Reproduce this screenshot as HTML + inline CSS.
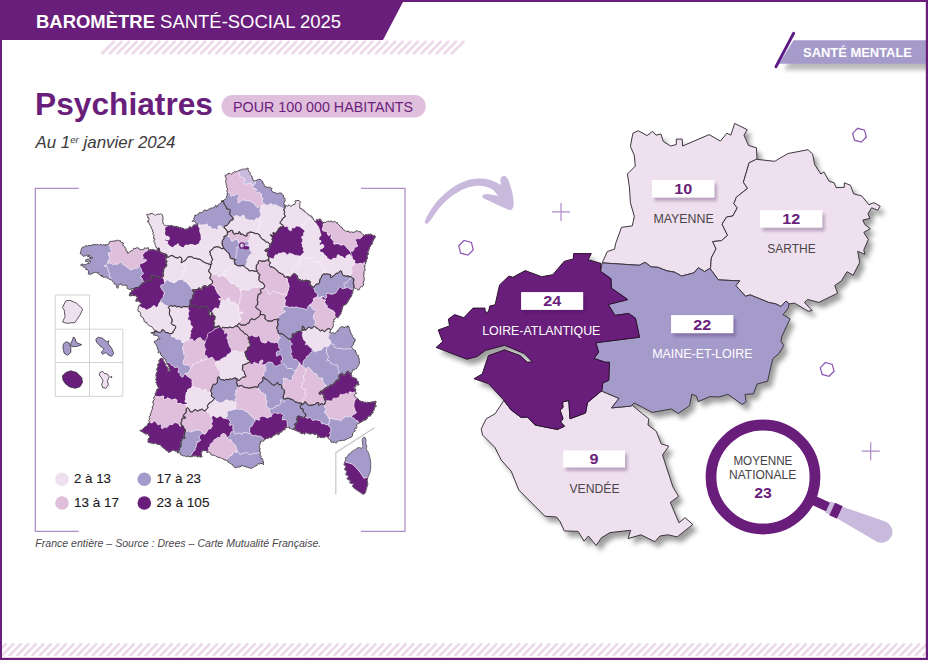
<!DOCTYPE html>
<html lang="fr"><head><meta charset="utf-8"><title>Baromètre Santé-Social 2025 – Psychiatres</title>
<style>
html,body{margin:0;padding:0;background:#fff;}
body{width:928px;height:660px;overflow:hidden;font-family:"Liberation Sans", sans-serif;}
svg{display:block;font-family:"Liberation Sans", sans-serif;}
</style></head><body>
<svg width="928" height="660" viewBox="0 0 928 660">
<defs>
<pattern id="hatch" width="7.6" height="20" patternUnits="userSpaceOnUse" patternTransform="skewX(-35)">
<rect x="0" y="0" width="3.6" height="20" fill="#ecdbeb"/>
</pattern>
<clipPath id="inner"><rect x="2.2" y="0" width="923.6" height="660"/></clipPath>
<filter id="bsh" x="-20%" y="-40%" width="140%" height="200%"><feGaussianBlur stdDeviation="1.6"/></filter>
<filter id="msh" x="-10%" y="-10%" width="125%" height="125%"><feGaussianBlur stdDeviation="2.6"/></filter>
<filter id="tsh" x="-10%" y="-40%" width="120%" height="220%"><feGaussianBlur stdDeviation="2"/></filter>
</defs>
<rect width="928" height="660" fill="#fff"/>

<!-- hatch bands -->
<path d="M102.4 53.3l11.5 -11.5M110.0 53.3l11.5 -11.5M117.6 53.3l11.5 -11.5M125.2 53.3l11.5 -11.5M132.8 53.3l11.5 -11.5M140.4 53.3l11.5 -11.5M148.0 53.3l11.5 -11.5M155.6 53.3l11.5 -11.5M163.2 53.3l11.5 -11.5M170.8 53.3l11.5 -11.5M178.4 53.3l11.5 -11.5M186.0 53.3l11.5 -11.5M193.6 53.3l11.5 -11.5M201.2 53.3l11.5 -11.5M208.8 53.3l11.5 -11.5M216.4 53.3l11.5 -11.5M224.0 53.3l11.5 -11.5M231.6 53.3l11.5 -11.5M239.2 53.3l11.5 -11.5M246.8 53.3l11.5 -11.5M254.4 53.3l11.5 -11.5M262.0 53.3l11.5 -11.5M269.6 53.3l11.5 -11.5M277.2 53.3l11.5 -11.5M284.8 53.3l11.5 -11.5M292.4 53.3l11.5 -11.5M300.0 53.3l11.5 -11.5M307.6 53.3l11.5 -11.5M315.2 53.3l11.5 -11.5M322.8 53.3l11.5 -11.5M330.4 53.3l11.5 -11.5M338.0 53.3l11.5 -11.5M345.6 53.3l11.5 -11.5M353.2 53.3l11.5 -11.5M360.8 53.3l11.5 -11.5M368.4 53.3l11.5 -11.5M376.0 53.3l11.5 -11.5M383.6 53.3l11.5 -11.5M391.2 53.3l11.5 -11.5M398.8 53.3l11.5 -11.5M406.4 53.3l11.5 -11.5M414.0 53.3l11.5 -11.5M421.6 53.3l11.5 -11.5M429.2 53.3l11.5 -11.5M436.8 53.3l11.5 -11.5M444.4 53.3l11.5 -11.5M452.0 53.3l11.5 -11.5" stroke="#ecdaeb" stroke-width="2.7" stroke-linecap="round" fill="none"/>
<path d="M-5.2 655.1l10.8 -10.8M2.3 655.1l10.8 -10.8M9.8 655.1l10.8 -10.8M17.4 655.1l10.8 -10.8M24.9 655.1l10.8 -10.8M32.5 655.1l10.8 -10.8M40.0 655.1l10.8 -10.8M47.6 655.1l10.8 -10.8M55.1 655.1l10.8 -10.8M62.7 655.1l10.8 -10.8M70.2 655.1l10.8 -10.8M77.8 655.1l10.8 -10.8M85.3 655.1l10.8 -10.8M92.9 655.1l10.8 -10.8M100.4 655.1l10.8 -10.8M108.0 655.1l10.8 -10.8M115.5 655.1l10.8 -10.8M123.1 655.1l10.8 -10.8M130.6 655.1l10.8 -10.8M138.2 655.1l10.8 -10.8M145.8 655.1l10.8 -10.8M153.3 655.1l10.8 -10.8M160.9 655.1l10.8 -10.8M168.4 655.1l10.8 -10.8M176.0 655.1l10.8 -10.8M183.5 655.1l10.8 -10.8M191.1 655.1l10.8 -10.8M198.6 655.1l10.8 -10.8M206.2 655.1l10.8 -10.8M213.7 655.1l10.8 -10.8M221.3 655.1l10.8 -10.8M228.8 655.1l10.8 -10.8M236.4 655.1l10.8 -10.8M243.9 655.1l10.8 -10.8M251.5 655.1l10.8 -10.8M259.0 655.1l10.8 -10.8M266.6 655.1l10.8 -10.8M274.1 655.1l10.8 -10.8M281.7 655.1l10.8 -10.8M289.2 655.1l10.8 -10.8M296.8 655.1l10.8 -10.8M304.3 655.1l10.8 -10.8M311.9 655.1l10.8 -10.8M319.4 655.1l10.8 -10.8M327.0 655.1l10.8 -10.8M334.5 655.1l10.8 -10.8M342.1 655.1l10.8 -10.8M349.6 655.1l10.8 -10.8M357.2 655.1l10.8 -10.8M364.7 655.1l10.8 -10.8M372.3 655.1l10.8 -10.8M379.8 655.1l10.8 -10.8M387.4 655.1l10.8 -10.8M394.9 655.1l10.8 -10.8M402.5 655.1l10.8 -10.8M410.0 655.1l10.8 -10.8M417.6 655.1l10.8 -10.8M425.1 655.1l10.8 -10.8M432.7 655.1l10.8 -10.8M440.2 655.1l10.8 -10.8M447.8 655.1l10.8 -10.8M455.3 655.1l10.8 -10.8M462.9 655.1l10.8 -10.8M470.4 655.1l10.8 -10.8M478.0 655.1l10.8 -10.8M485.5 655.1l10.8 -10.8M493.1 655.1l10.8 -10.8M500.6 655.1l10.8 -10.8M508.2 655.1l10.8 -10.8M515.7 655.1l10.8 -10.8M523.3 655.1l10.8 -10.8M530.8 655.1l10.8 -10.8M538.4 655.1l10.8 -10.8M545.9 655.1l10.8 -10.8M553.5 655.1l10.8 -10.8M561.0 655.1l10.8 -10.8M568.6 655.1l10.8 -10.8M576.1 655.1l10.8 -10.8M583.7 655.1l10.8 -10.8M591.2 655.1l10.8 -10.8M598.8 655.1l10.8 -10.8M606.3 655.1l10.8 -10.8M613.8 655.1l10.8 -10.8M621.4 655.1l10.8 -10.8M628.9 655.1l10.8 -10.8M636.5 655.1l10.8 -10.8M644.0 655.1l10.8 -10.8M651.6 655.1l10.8 -10.8M659.1 655.1l10.8 -10.8M666.7 655.1l10.8 -10.8M674.2 655.1l10.8 -10.8M681.8 655.1l10.8 -10.8M689.3 655.1l10.8 -10.8M696.9 655.1l10.8 -10.8M704.4 655.1l10.8 -10.8M712.0 655.1l10.8 -10.8M719.5 655.1l10.8 -10.8M727.1 655.1l10.8 -10.8M734.6 655.1l10.8 -10.8M742.2 655.1l10.8 -10.8M749.7 655.1l10.8 -10.8M757.3 655.1l10.8 -10.8M764.8 655.1l10.8 -10.8M772.4 655.1l10.8 -10.8M779.9 655.1l10.8 -10.8M787.5 655.1l10.8 -10.8M795.0 655.1l10.8 -10.8M802.6 655.1l10.8 -10.8M810.1 655.1l10.8 -10.8M817.7 655.1l10.8 -10.8M825.2 655.1l10.8 -10.8M832.8 655.1l10.8 -10.8M840.3 655.1l10.8 -10.8M847.9 655.1l10.8 -10.8M855.4 655.1l10.8 -10.8M863.0 655.1l10.8 -10.8M870.5 655.1l10.8 -10.8M878.1 655.1l10.8 -10.8M885.6 655.1l10.8 -10.8M893.2 655.1l10.8 -10.8M900.7 655.1l10.8 -10.8M908.3 655.1l10.8 -10.8M915.8 655.1l10.8 -10.8M923.4 655.1l10.8 -10.8" stroke="#ecdaeb" stroke-width="2.7" stroke-linecap="round" fill="none" clip-path="url(#inner)"/>

<!-- header bar -->
<polygon points="0,0 404,0 383,40 0,40" fill="#6a1e7b"/>
<text x="36" y="27.6" font-size="18" fill="#fff" textLength="305" lengthAdjust="spacingAndGlyphs"><tspan font-weight="700">BAROMÈTRE</tspan> SANTÉ-SOCIAL 2025</text>

<!-- tag SANTE MENTALE -->
<polygon points="788,49 926,49 926,70 776,70" fill="#8a8585" opacity=".55" filter="url(#tsh)" transform="translate(8 0)"/>
<polygon points="793.5,40.3 926,40.3 926,63.8 779,63.8" fill="#a59bcb"/>
<line x1="793.6" y1="33.4" x2="776" y2="66.6" stroke="#5b1a86" stroke-width="3" stroke-linecap="round"/>
<text x="803" y="57" font-size="13" font-weight="700" fill="#fff" textLength="109" lengthAdjust="spacingAndGlyphs">SANTÉ MENTALE</text>

<!-- title -->
<text x="35" y="114.5" font-size="30.5" font-weight="700" fill="#6a1e7b" textLength="178" lengthAdjust="spacingAndGlyphs">Psychiatres</text>
<rect x="221.5" y="95" width="204.3" height="22.5" rx="11.25" fill="#e0bfdc"/>
<text x="233" y="111.6" font-size="15" fill="#6a1e7b" textLength="180" lengthAdjust="spacingAndGlyphs">POUR 100 000 HABITANTS</text>
<text x="35.5" y="148" font-size="16.5" font-style="italic" fill="#3c3a3c" textLength="140" lengthAdjust="spacingAndGlyphs">Au 1<tspan font-size="9.5" dy="-5.5">er</tspan><tspan dy="5.5"> janvier 2024</tspan></text>

<!-- frame brackets -->
<g fill="none" stroke="#b18fcb" stroke-width="1.3">
<path d="M78.8 188.4H35.3V531.3H78.8"/>
<path d="M361 188.4H405V531.3H361"/>
</g>

<!-- FRANCE MAP -->
<g stroke-linejoin="round">
<path d="M302.2 326.0 302.2 326.7 302.5 327.2 302.2 327.8 302.2 329.0 302.5 329.5 303.7 329.8 302.0 330.0 301.0 330.7 301.0 331.2 301.5 331.2 302.7 332.5 302.0 334.0 302.0 335.5 302.5 337.5 303.0 338.3 303.2 339.8 305.5 342.0 305.7 343.3 304.8 344.3 304.7 345.0 305.3 345.2 306.2 344.7 307.3 345.0 309.7 347.7 310.7 348.0 314.8 352.2 316.0 352.7 316.5 351.7 317.5 351.0 318.2 351.0 319.3 350.5 320.5 350.5 322.2 349.8 322.7 349.3 323.3 347.8 324.0 347.2 326.5 346.7 328.0 346.8 329.2 346.3 329.7 345.0 330.8 344.0 331.0 341.8 330.3 339.8 329.2 339.2 328.3 338.0 328.8 336.8 328.7 335.8 328.8 335.3 330.8 334.0 330.8 333.2 330.0 333.0 329.3 332.5 329.5 332.0 330.3 331.8 330.3 330.7 331.0 329.8 329.7 328.7 328.7 328.5 327.0 329.0 324.7 331.5 324.3 331.5 322.8 330.0 321.8 330.0 320.7 330.8 318.8 329.5 317.7 328.2 316.3 327.8 315.2 326.5 314.5 326.2 313.7 326.2 312.7 327.2 312.5 327.7 311.8 328.2 310.0 327.7 309.5 327.2 308.3 327.2 307.2 328.2 306.0 329.8 305.2 330.0 304.3 329.2 304.3 327.7 304.0 327.0 302.8 326.2Z" fill="#eee0ee" stroke="#fbf5fb" stroke-width=".55"/>
<path d="M279.2 203.8 278.7 203.8 278.2 204.2 278.0 205.2 277.7 205.5 276.8 205.3 275.5 204.0 274.5 204.0 273.5 205.0 271.5 203.5 270.0 203.5 267.3 205.2 266.2 204.8 264.8 203.8 262.8 204.0 262.7 204.5 260.5 206.3 260.3 209.0 259.2 209.8 259.2 210.5 260.5 213.2 260.5 215.2 259.0 216.8 259.0 218.7 259.3 219.2 259.3 220.2 260.2 222.3 260.2 223.0 259.8 223.5 260.2 225.7 259.3 226.7 258.5 227.2 257.8 229.2 258.0 234.0 258.5 234.7 259.3 234.8 259.8 235.3 259.7 236.2 260.0 236.8 262.3 239.5 264.7 240.5 265.2 241.7 265.8 242.3 267.5 242.2 270.0 244.7 270.5 244.7 272.5 241.5 273.2 241.0 273.2 240.5 272.3 239.8 272.2 239.3 272.5 238.5 272.5 236.7 272.2 236.2 270.7 235.2 271.0 235.0 272.2 235.7 273.3 235.7 273.5 234.2 273.0 233.3 273.3 232.7 274.3 233.3 275.7 233.3 277.0 232.0 279.0 228.5 279.7 228.2 280.7 227.2 282.5 227.2 283.0 226.7 283.2 225.3 282.5 224.5 280.8 223.8 280.3 223.2 280.3 222.5 280.7 221.8 282.0 220.5 282.5 218.8 285.3 216.8 285.3 215.7 284.7 214.8 284.3 213.8 284.3 213.2 284.7 212.5 284.7 211.2 283.8 209.8 283.8 209.0 282.5 207.7 280.0 206.7 278.8 206.5 278.3 206.0 279.5 205.2 279.5 204.2Z" fill="#eee0ee" stroke="#fbf5fb" stroke-width=".55"/>
<path d="M236.8 325.7 237.0 326.3 238.0 326.8 239.3 328.2 240.0 329.5 241.5 331.0 243.3 331.8 243.5 332.7 244.0 333.5 246.2 334.3 248.0 336.0 248.5 336.8 249.2 336.8 251.3 335.5 252.2 335.5 253.2 336.3 254.8 337.0 257.3 337.0 258.5 336.0 259.3 336.8 260.2 338.7 260.5 340.8 261.3 342.3 262.2 342.7 263.7 342.8 264.2 343.2 266.2 343.2 267.0 342.5 267.5 341.2 268.3 340.8 270.0 342.2 271.5 342.7 273.0 342.7 273.7 343.3 274.3 343.3 275.7 342.7 276.5 342.7 277.3 343.2 277.8 343.2 277.8 341.7 279.2 339.5 280.5 338.2 280.5 337.2 279.2 336.5 278.7 335.8 279.0 333.7 278.2 332.7 278.2 330.8 276.8 328.2 277.0 327.2 278.2 325.0 277.7 322.7 277.7 321.3 278.7 320.0 278.7 318.8 277.3 319.0 276.3 319.5 274.2 319.3 273.7 319.5 272.0 321.0 267.7 320.8 265.2 318.7 265.0 318.3 265.2 315.8 264.8 315.0 264.0 314.5 262.0 314.7 260.3 314.2 259.8 315.3 258.2 317.2 256.7 317.8 255.8 318.8 254.2 319.7 252.2 318.8 250.8 318.8 249.7 321.0 249.0 322.8 248.7 323.2 248.0 323.2 246.7 323.7 245.7 324.8 245.2 325.0 243.3 324.8 241.0 325.2 239.7 323.2 238.8 323.2 237.2 325.0Z" fill="#e0bfdc" stroke="#fbf5fb" stroke-width=".55"/>
<path d="M355.0 391.7 354.0 391.7 353.3 392.2 352.0 392.2 350.7 391.7 349.2 391.7 348.7 392.3 348.8 393.7 348.7 394.3 347.5 393.3 347.0 393.2 345.7 393.2 344.2 394.0 343.2 394.2 342.7 394.5 341.5 394.2 340.2 394.2 339.5 394.8 339.3 396.5 338.8 397.0 337.5 397.7 336.2 398.0 334.7 398.0 334.2 397.8 333.7 397.2 333.3 397.2 333.2 398.3 332.5 399.0 331.8 400.3 331.2 400.8 329.7 400.5 326.2 400.5 325.3 401.2 325.3 402.0 324.2 405.2 324.2 407.3 324.7 408.0 325.3 408.2 325.8 408.7 325.8 409.0 325.2 410.5 324.0 411.7 324.0 412.5 324.3 413.0 325.2 413.3 325.8 414.0 326.3 415.3 327.8 416.5 327.8 418.0 328.7 419.0 329.3 419.3 330.2 419.3 331.0 419.0 332.8 418.8 333.7 419.0 335.0 420.0 336.7 419.8 338.5 420.0 339.5 420.5 340.2 421.2 341.0 421.2 341.7 420.7 342.3 419.5 344.8 417.7 345.7 416.5 347.0 417.0 348.8 417.0 350.0 416.5 351.0 417.2 351.7 417.2 353.8 414.7 356.2 413.5 356.7 412.7 356.7 412.0 355.2 410.0 354.7 407.3 354.2 406.5 354.0 405.5 354.3 404.5 354.3 403.2 355.0 401.8 355.0 400.8 357.3 398.3 354.7 396.5 354.3 396.0 354.8 394.3 355.3 393.8 356.5 393.3 355.8 392.8 355.8 392.5Z" fill="#e0bfdc" stroke="#fbf5fb" stroke-width=".55"/>
<path d="M357.0 379.2 356.0 378.8 354.7 377.8 354.5 378.0 353.8 377.8 352.2 377.0 351.5 376.3 351.7 375.5 351.0 374.3 351.3 373.7 349.7 373.3 349.2 372.8 349.0 372.0 348.5 371.3 347.2 371.3 346.5 372.0 346.2 372.8 345.2 374.2 344.3 374.8 343.8 374.8 342.7 373.5 341.5 373.3 340.5 374.2 339.5 374.3 338.8 375.8 339.2 379.2 338.7 379.7 336.3 380.2 335.7 380.8 335.5 381.3 334.5 382.2 333.7 384.0 332.7 384.8 331.0 384.8 329.8 385.5 328.5 386.7 327.0 386.8 326.3 387.8 325.0 388.0 324.0 388.7 322.7 390.7 321.2 390.8 320.3 391.2 319.3 392.3 319.0 393.0 319.0 393.8 319.7 394.5 320.5 394.5 321.8 393.7 323.7 395.7 323.7 398.0 324.3 398.7 324.7 400.3 325.3 401.2 325.8 401.2 326.5 400.7 329.3 400.7 330.3 401.0 331.5 401.0 332.0 400.7 333.7 397.8 334.3 398.2 336.5 398.2 337.8 397.8 339.2 397.2 339.5 396.8 339.7 395.2 340.5 394.3 342.7 394.8 343.5 394.3 344.5 394.2 345.5 393.5 346.7 393.3 347.2 393.5 348.2 394.5 349.0 394.5 348.8 392.7 349.5 391.8 350.3 391.8 352.5 392.5 353.7 392.3 354.7 391.8 355.5 392.7 355.8 392.7 355.5 391.8 355.5 391.0 355.8 390.8 355.5 388.8 354.5 388.7 353.8 388.0 354.0 387.3 354.5 387.0 354.8 387.2 355.7 387.0 355.8 385.3 356.7 384.3 357.0 384.3 357.7 385.3 358.3 385.3 359.0 384.5 359.0 384.2 358.3 383.3 358.5 382.7 358.2 382.2 358.3 381.7 358.2 381.2 357.2 381.0 356.7 380.5 356.7 379.5Z" fill="#6a1e7b" stroke="#fbf5fb" stroke-width=".55"/>
<path d="M375.7 401.2 374.8 401.2 374.2 401.8 371.3 402.0 370.2 402.5 367.3 402.3 366.7 402.7 366.0 402.7 365.2 401.8 364.5 402.5 364.0 402.5 363.2 401.5 361.8 401.7 359.8 400.8 359.0 400.2 357.5 398.3 356.8 398.3 354.8 400.5 354.8 401.5 354.0 403.0 354.2 404.2 353.8 405.2 353.8 406.3 354.5 407.7 355.0 410.3 356.5 412.3 355.5 413.7 353.5 414.5 351.3 417.0 351.3 417.3 352.0 417.8 353.8 418.3 355.5 420.5 356.3 420.8 357.2 420.8 357.7 421.2 358.2 422.0 358.3 422.8 358.8 423.2 360.2 422.8 361.0 421.8 362.3 421.7 363.2 420.3 365.7 420.2 365.7 419.8 366.2 419.3 367.3 418.7 367.5 417.2 368.3 416.2 368.7 416.0 370.2 416.2 370.7 415.2 371.5 414.5 371.5 413.7 372.0 413.2 373.0 413.0 373.2 412.2 372.3 411.7 372.7 411.3 373.2 411.3 374.0 410.3 374.0 409.2 374.7 408.0 374.5 406.7 374.8 406.3 375.3 406.3 375.8 406.7 376.2 406.5 376.3 405.8 375.2 405.0 375.2 404.0 376.0 402.2 376.0 401.5Z" fill="#6a1e7b" stroke="#fbf5fb" stroke-width=".55"/>
<path d="M299.7 362.7 298.8 363.8 298.5 365.2 297.5 366.8 296.8 368.7 295.8 369.8 295.7 370.5 294.5 372.0 294.7 373.3 292.8 374.8 292.3 375.7 292.3 378.2 292.0 378.8 290.3 380.5 289.7 380.5 288.3 379.2 287.0 378.5 285.8 378.2 284.5 378.3 283.0 378.0 282.8 379.0 283.5 381.0 283.5 382.7 283.3 383.2 282.3 384.2 281.3 384.5 281.3 385.2 281.7 385.8 281.7 388.2 282.5 389.0 283.5 389.5 284.5 390.7 284.0 391.8 284.2 393.8 283.7 394.3 283.2 396.0 283.0 398.0 283.7 399.0 284.7 399.2 287.2 398.3 288.8 398.5 293.5 400.3 294.5 401.7 295.7 402.3 296.8 402.3 298.7 403.2 301.0 403.2 302.3 404.2 303.3 404.3 304.0 403.8 304.2 402.8 302.8 401.5 304.0 399.2 306.2 396.7 306.2 395.2 305.2 393.3 305.0 392.0 305.3 391.3 306.5 390.2 306.5 389.5 305.8 388.8 304.7 389.2 304.0 389.0 302.3 388.0 301.3 386.7 302.5 385.3 302.5 383.8 302.8 383.0 304.3 381.3 304.3 379.3 303.8 378.2 303.8 375.8 305.7 373.2 306.0 372.0 306.0 369.5 305.7 368.2 304.8 367.3 304.3 367.2 302.8 365.7 302.7 365.2 301.3 365.0 300.8 364.5 300.3 362.8Z" fill="#e0bfdc" stroke="#fbf5fb" stroke-width=".55"/>
<path d="M298.0 200.2 296.8 200.7 295.2 200.8 295.0 201.3 295.5 202.2 295.5 202.8 295.0 204.2 294.5 204.5 293.0 204.7 290.8 206.5 289.7 205.3 289.0 205.0 288.5 205.0 287.8 206.2 287.2 206.2 285.8 205.3 285.2 205.3 284.5 205.7 284.5 206.0 285.0 206.5 285.0 207.2 284.7 208.2 283.7 209.2 283.7 210.2 284.5 211.5 284.5 212.2 284.2 212.8 284.2 214.2 284.5 215.2 285.2 216.0 285.2 216.5 282.3 218.5 281.8 220.2 280.5 221.5 280.0 222.7 280.5 224.0 282.2 224.7 283.8 226.5 288.0 227.0 288.2 227.2 288.0 228.8 288.3 229.7 289.2 230.3 290.8 231.0 291.3 231.0 291.7 230.7 291.8 229.0 292.5 228.0 294.8 228.2 295.8 227.0 296.8 226.3 297.3 226.3 297.8 226.7 299.2 226.7 300.0 227.3 301.3 227.8 301.5 226.3 302.0 225.8 303.8 225.2 305.2 223.5 306.2 223.0 307.0 222.0 307.7 220.3 309.7 218.7 310.0 217.8 310.0 217.0 311.2 216.2 311.2 216.0 309.7 215.8 309.0 214.7 307.8 214.5 306.0 212.3 304.3 211.7 304.0 211.0 304.0 210.3 302.3 210.0 301.5 208.5 300.3 208.7 300.0 208.3 299.7 206.7 299.7 205.3 300.0 204.5 299.7 203.2 300.3 201.8 299.7 201.2Z" fill="#eee0ee" stroke="#fbf5fb" stroke-width=".55"/>
<path d="M222.5 433.3 220.5 434.7 220.5 436.2 220.0 437.0 219.3 437.3 217.0 437.3 215.5 438.8 214.3 438.8 213.2 441.3 210.3 443.5 209.8 444.5 209.7 446.2 208.3 447.2 208.5 450.2 207.0 451.7 206.8 452.3 207.5 452.5 208.2 452.0 209.2 452.0 209.8 452.5 210.2 453.2 210.8 453.5 210.7 454.0 211.3 455.0 212.0 455.0 212.5 455.3 212.7 455.2 214.8 455.3 215.8 456.3 216.8 456.5 217.8 457.3 221.0 457.8 221.7 458.5 222.8 458.5 224.0 459.7 226.3 460.2 226.3 459.5 226.8 459.0 228.7 458.3 230.0 456.3 231.3 456.0 232.3 455.3 232.8 454.7 233.2 452.7 233.7 452.0 235.2 451.7 235.7 452.0 235.5 453.2 236.5 453.3 236.7 452.2 237.3 451.7 237.2 450.7 237.3 449.7 236.7 448.3 236.7 447.7 236.0 446.5 235.8 445.2 232.7 442.3 231.2 439.5 230.8 439.2 230.0 439.2 228.8 440.0 227.7 438.2 227.5 437.2 226.5 436.3 226.3 435.0 225.8 434.2 224.2 433.3Z" fill="#e0bfdc" stroke="#fbf5fb" stroke-width=".55"/>
<path d="M268.8 257.8 268.5 259.0 268.7 261.2 269.3 262.0 269.7 262.0 270.3 262.7 270.3 263.0 269.3 264.2 269.3 265.5 269.7 266.3 271.0 267.0 272.3 267.2 274.8 268.5 276.3 270.3 277.5 270.8 277.8 271.8 278.7 272.8 279.8 273.0 281.3 274.0 282.7 274.3 283.5 275.2 284.3 277.0 284.8 277.3 286.3 277.3 287.0 276.7 287.7 276.7 289.2 277.3 290.8 277.3 291.8 276.3 292.8 274.5 293.0 271.8 292.3 270.7 292.3 270.0 293.5 269.0 294.2 267.7 295.2 266.8 296.2 267.7 296.7 267.8 297.5 267.7 299.3 265.8 299.3 264.5 299.0 263.5 299.5 263.0 300.7 262.8 301.0 262.5 301.0 261.3 300.3 260.0 300.3 259.0 300.0 258.0 300.2 256.3 299.8 255.7 297.8 255.5 296.8 255.0 294.8 255.2 293.2 253.8 292.3 253.5 291.7 253.7 290.3 252.8 289.0 253.0 287.0 254.7 286.3 253.5 285.5 252.7 284.5 252.3 282.5 252.3 280.7 253.2 278.7 252.8 277.8 253.5 277.8 254.0 277.3 254.7 275.3 254.5 274.7 255.2 274.0 256.7 273.7 258.2 273.3 258.5 272.5 258.5 270.3 257.7Z" fill="#eee0ee" stroke="#fbf5fb" stroke-width=".55"/>
<path d="M227.3 437.0 227.3 438.0 228.3 440.0 229.3 440.2 230.0 439.5 230.5 439.3 231.0 439.8 232.5 442.7 235.7 445.5 235.8 446.8 236.5 448.0 236.5 448.7 237.2 450.0 237.0 450.2 237.2 451.5 238.0 451.8 238.5 452.3 238.8 453.5 239.8 455.2 240.7 455.3 241.0 455.0 241.0 454.5 241.8 453.8 242.7 454.0 243.0 453.7 244.0 453.7 245.0 453.0 247.3 453.2 249.3 455.0 250.0 455.0 251.5 454.3 253.3 454.0 254.0 453.7 256.7 453.7 258.0 452.8 258.8 452.7 260.3 452.8 260.2 451.7 259.2 451.5 258.8 451.2 259.2 450.7 260.0 450.3 260.0 449.7 259.7 449.3 260.2 448.0 259.2 447.2 259.2 446.3 259.7 445.7 259.8 444.7 259.7 444.2 260.5 443.0 260.3 441.5 260.7 441.2 262.2 441.3 264.0 440.7 264.5 439.3 263.5 438.0 261.0 436.0 257.0 435.7 255.7 434.8 255.0 434.8 254.0 435.3 252.5 435.3 251.7 434.8 251.5 433.7 250.5 433.2 249.0 433.3 248.0 432.7 246.7 432.7 244.7 432.2 243.2 432.2 242.3 432.8 242.5 433.8 242.3 434.2 241.8 434.0 241.0 433.2 240.2 432.8 239.0 433.0 236.8 432.8 236.2 433.7 235.5 433.8 234.5 433.2 234.3 431.0 233.5 430.3 230.8 431.7 230.3 432.7 230.0 434.7 229.3 435.5Z" fill="#a59bcb" stroke="#fbf5fb" stroke-width=".55"/>
<path d="M237.8 386.5 237.7 387.8 237.2 389.0 236.0 389.7 235.5 390.3 235.7 392.3 235.3 393.2 234.3 394.2 234.3 395.2 236.5 397.0 236.3 397.5 235.5 397.8 235.0 398.3 235.0 400.5 234.8 400.7 234.8 402.2 236.2 403.5 235.2 406.8 235.2 408.3 235.7 409.2 237.7 409.2 239.0 409.7 241.8 409.5 242.8 409.8 245.7 411.8 247.0 411.8 247.5 412.3 248.0 413.5 251.5 416.8 251.7 417.3 252.5 417.7 254.0 419.0 254.5 420.2 255.3 420.2 256.2 419.7 256.7 419.7 258.3 420.5 259.7 420.5 260.0 420.2 260.0 419.2 259.5 418.2 260.7 417.2 262.8 416.5 263.3 416.5 266.0 417.5 267.5 418.3 268.5 418.2 270.0 416.8 271.0 417.0 271.7 416.7 271.8 416.3 271.7 414.2 270.5 413.5 269.8 412.3 269.7 409.0 269.0 408.3 268.8 407.7 268.5 407.3 268.0 407.3 267.2 406.3 266.3 403.8 267.3 401.7 267.3 400.5 265.8 399.2 266.2 395.0 263.5 393.0 261.3 392.0 260.7 391.3 260.5 390.3 258.7 389.0 258.7 388.2 258.0 387.2 257.0 387.2 256.3 386.7 255.0 386.7 254.2 387.2 252.5 387.2 251.3 387.7 248.5 388.0 247.3 387.5 245.7 387.5 244.5 387.0 243.3 386.8 242.8 386.0 241.8 385.3 240.3 385.5 238.2 386.2Z" fill="#e0bfdc" stroke="#fbf5fb" stroke-width=".55"/>
<path d="M297.2 416.5 297.2 417.7 296.7 418.7 296.7 419.8 297.3 421.2 297.3 422.0 296.7 422.8 294.8 423.7 294.3 424.3 295.5 426.7 295.0 427.7 293.5 429.0 294.2 429.5 294.7 430.3 295.5 430.2 296.3 430.3 296.8 431.2 297.2 431.3 297.7 431.2 298.3 431.7 300.2 432.3 301.0 433.7 301.2 433.5 301.3 433.7 303.0 433.5 303.5 433.2 304.2 434.2 304.8 434.2 305.2 433.3 305.7 432.8 306.8 432.8 307.5 433.3 309.2 433.5 309.7 433.8 309.7 434.2 310.3 434.2 312.0 433.2 313.8 434.0 314.7 434.7 316.3 434.0 317.7 435.0 317.8 436.5 317.5 437.0 317.5 437.7 317.8 437.8 318.8 436.8 319.3 436.8 319.7 437.2 321.3 437.7 322.0 437.3 324.2 437.7 325.2 436.7 325.7 436.8 326.7 436.7 327.7 437.3 328.2 437.3 328.7 438.0 328.5 438.2 328.8 438.8 329.5 439.5 329.3 437.0 330.7 435.5 330.7 434.3 330.0 433.3 330.0 432.5 330.3 432.2 331.3 432.0 331.3 431.0 331.0 430.5 331.0 427.8 330.3 427.0 328.7 425.7 328.3 424.2 327.2 424.2 325.8 424.7 324.2 423.2 323.5 423.2 322.8 423.7 322.3 423.7 321.5 423.0 321.2 421.7 320.7 420.8 319.7 420.2 317.5 420.0 316.7 419.5 315.7 419.5 315.0 419.8 312.8 420.2 312.0 419.3 311.5 418.2 310.2 417.0 309.2 417.0 308.3 418.0 306.7 417.8 305.5 416.3 304.5 416.5 303.3 417.7 303.0 417.7 302.3 416.8 300.7 416.7 299.3 416.0 298.2 416.0Z" fill="#6a1e7b" stroke="#fbf5fb" stroke-width=".55"/>
<path d="M200.0 228.0 199.0 226.7 198.7 225.7 198.7 224.7 198.3 224.2 197.8 224.8 196.8 224.8 196.2 224.5 195.2 225.0 194.5 224.7 194.0 224.8 192.8 225.8 192.5 226.8 191.7 227.7 190.3 226.7 189.2 226.8 189.0 228.0 188.3 228.7 187.3 228.7 185.0 229.5 183.0 228.2 181.2 228.2 180.8 227.3 180.2 227.3 179.7 227.7 178.0 226.7 177.7 227.0 177.5 226.7 177.5 227.0 177.0 227.2 176.5 226.3 173.8 226.5 171.8 225.5 170.3 225.5 169.7 226.0 168.7 225.5 167.7 225.5 166.8 226.2 166.2 226.2 165.5 226.5 164.7 227.7 164.5 229.5 164.8 230.2 164.8 231.2 164.5 231.8 164.5 233.7 164.8 235.2 165.2 235.7 166.2 236.5 167.5 236.5 168.3 236.8 169.2 238.0 169.2 238.8 168.5 239.7 167.8 239.7 165.7 239.0 164.5 239.0 164.3 240.2 164.8 240.8 165.8 241.3 167.2 241.5 167.3 242.3 166.8 243.0 166.8 243.5 168.2 244.7 169.0 246.2 170.3 246.7 172.0 247.8 173.2 247.7 175.2 245.7 176.3 245.5 178.0 244.0 178.5 244.7 178.3 245.2 178.5 246.3 179.2 246.5 180.0 246.2 180.5 246.7 180.7 247.5 181.7 247.5 182.8 248.0 183.5 248.0 184.2 247.7 185.0 246.0 185.7 245.3 188.7 245.5 189.3 245.3 189.5 244.8 192.0 244.7 194.0 245.5 196.0 245.5 198.8 244.2 199.3 243.7 200.0 244.8 200.7 244.8 200.7 244.3 199.8 242.8 199.8 242.2 200.2 241.3 201.5 239.7 201.5 238.7 201.2 238.0 201.3 236.3 201.0 234.0 200.7 233.3 200.7 232.7 200.0 231.8Z" fill="#6a1e7b" stroke="#fbf5fb" stroke-width=".55"/>
<path d="M262.8 360.0 261.2 359.8 260.5 360.2 259.2 361.5 259.2 362.7 259.7 363.3 259.5 363.8 258.7 363.5 257.7 363.5 254.3 362.0 253.7 362.0 253.3 362.3 253.0 363.7 252.3 364.2 251.3 364.3 250.5 363.8 250.0 361.8 249.7 361.8 249.5 362.2 246.2 363.8 244.2 364.5 242.8 364.7 242.3 365.0 242.7 366.2 242.7 368.0 242.3 368.8 242.3 369.7 242.7 370.3 244.3 372.2 244.5 374.0 245.7 375.8 245.7 376.5 245.0 377.0 242.5 377.2 239.0 380.3 238.7 380.3 237.5 378.8 236.2 378.7 236.3 379.7 237.0 380.8 236.3 381.8 236.3 382.8 237.2 384.0 237.2 385.7 237.7 386.3 238.8 386.3 241.5 385.5 242.0 385.7 243.0 387.0 244.2 387.2 245.3 387.7 247.0 387.7 248.2 388.2 251.7 387.8 252.8 387.3 254.5 387.3 255.3 386.8 256.0 386.8 256.7 387.3 258.2 387.2 258.3 385.7 258.8 384.5 261.0 382.3 262.2 382.0 262.7 381.5 263.0 379.8 262.7 378.0 263.5 377.0 264.2 375.3 264.2 372.7 266.0 370.8 266.0 369.3 265.7 368.7 266.0 367.8 266.0 366.7 265.0 365.3 264.8 364.5 264.3 364.3 263.7 364.7 262.2 364.7 261.8 364.3 262.2 363.2 263.3 361.7 263.3 360.7Z" fill="#e0bfdc" stroke="#fbf5fb" stroke-width=".55"/>
<path d="M201.0 337.5 200.0 337.3 197.5 338.2 196.3 339.0 194.3 341.0 193.7 340.7 193.3 339.7 192.5 338.8 189.3 339.0 187.5 340.2 185.3 340.3 183.5 342.2 183.8 343.5 183.5 345.0 182.7 346.5 182.3 348.7 182.7 350.3 183.5 352.3 183.0 354.2 183.2 354.5 184.2 354.8 185.0 356.2 184.0 357.8 184.0 358.8 183.0 360.7 183.2 362.8 182.7 363.7 182.7 364.2 183.5 365.0 185.5 365.2 186.2 365.5 188.7 365.2 189.2 365.8 189.3 366.7 190.2 367.5 191.0 367.7 192.0 367.0 192.5 367.0 193.0 366.5 193.2 365.5 192.7 364.8 192.8 364.7 194.0 364.5 196.5 363.0 199.7 362.3 200.3 361.7 200.5 360.5 201.0 359.7 201.5 360.0 201.8 361.3 203.5 361.2 204.3 360.3 206.8 359.2 207.5 358.5 207.5 356.5 207.2 355.8 206.5 355.3 205.2 355.2 204.7 354.5 204.8 352.8 205.2 352.2 205.2 351.0 205.5 350.3 206.3 349.7 206.3 348.8 205.8 348.7 205.0 347.8 204.8 346.2 204.3 345.0 204.5 344.2 205.5 342.7 205.5 342.2 204.5 340.7 202.7 340.0 201.8 339.2 201.7 338.3Z" fill="#e0bfdc" stroke="#fbf5fb" stroke-width=".55"/>
<path d="M155.2 331.3 154.7 331.8 154.5 332.7 153.7 333.5 153.2 333.7 153.8 334.5 153.7 335.0 153.8 335.2 154.8 335.0 156.0 335.7 156.7 335.5 157.5 335.8 158.3 336.5 158.3 337.0 159.2 337.8 160.2 338.3 159.5 339.3 159.2 339.3 158.5 338.7 157.8 338.7 157.3 340.0 156.3 341.0 155.5 340.8 154.3 341.5 154.5 342.8 155.8 344.2 156.7 345.7 156.7 346.3 157.5 347.0 157.2 347.8 158.5 350.3 158.2 351.0 158.3 352.0 158.0 352.7 158.7 352.8 159.3 352.2 160.2 352.2 161.0 352.8 160.3 353.8 160.3 354.3 161.3 355.0 161.8 356.2 162.8 356.8 164.5 359.0 165.5 359.3 166.2 360.0 165.7 361.0 167.0 363.0 168.7 362.8 170.5 364.3 170.7 365.2 171.0 365.5 171.8 365.5 173.2 366.3 174.3 367.8 175.3 367.8 176.3 367.3 177.8 367.3 178.5 368.8 178.5 369.7 177.7 371.5 177.8 372.7 178.8 372.8 179.8 373.7 180.2 375.8 181.2 377.0 182.2 377.5 183.2 377.3 183.7 376.0 185.3 374.3 185.7 373.5 186.7 374.0 187.3 374.0 188.0 373.5 189.8 370.7 190.5 370.0 190.8 368.8 190.8 367.5 189.5 366.3 189.0 365.0 187.7 365.0 186.8 365.3 185.8 365.0 184.3 365.0 183.8 364.8 183.0 364.0 183.3 363.2 183.2 361.0 184.2 359.2 184.2 358.2 185.2 356.7 185.2 355.8 184.7 354.8 183.3 354.2 183.7 353.0 183.7 352.0 182.8 350.0 182.5 348.3 182.8 346.8 183.8 344.7 184.0 343.8 183.8 342.5 183.7 342.3 182.3 342.5 182.0 342.2 182.0 340.7 181.3 339.5 180.7 339.5 179.0 338.8 176.5 339.0 175.5 338.2 174.5 336.7 174.2 336.5 172.0 336.7 171.5 336.2 171.7 334.8 171.5 333.3 169.8 333.7 168.0 332.5 166.0 332.5 164.8 331.5 164.3 330.5 163.5 330.0 161.8 329.7 161.5 330.0 161.5 330.8 161.2 331.7 160.2 332.3 158.8 332.3 157.3 332.0 155.8 331.3Z" fill="#a59bcb" stroke="#fbf5fb" stroke-width=".55"/>
<path d="M264.3 287.2 261.3 287.5 260.0 286.5 258.7 286.5 257.7 287.3 253.3 287.0 251.2 288.0 249.7 289.5 248.5 290.0 247.2 290.0 245.3 289.2 243.7 289.2 242.8 289.7 240.2 289.8 240.3 293.5 241.2 294.7 240.8 296.0 240.0 297.2 239.7 298.2 239.7 300.5 239.2 301.5 239.0 303.5 238.0 304.7 237.5 304.7 237.5 305.2 238.7 307.2 238.5 308.0 238.7 310.2 238.2 312.3 238.7 312.8 240.3 313.0 241.7 312.0 242.3 312.3 242.3 313.2 241.8 313.8 240.2 313.3 239.5 313.7 239.2 314.2 239.2 315.0 239.5 315.8 239.3 317.0 239.7 317.5 240.5 318.0 240.7 318.5 240.2 320.2 239.0 322.3 238.8 323.3 239.3 323.3 240.0 324.0 240.7 325.3 246.0 325.0 247.0 323.8 249.2 323.2 249.8 321.3 251.2 319.0 251.8 319.0 253.7 319.8 254.5 319.8 256.2 319.0 257.0 318.0 258.5 317.3 260.0 315.7 260.5 314.5 260.7 313.3 260.5 312.3 260.8 311.0 260.3 311.0 259.8 310.7 259.0 309.5 257.2 308.7 255.8 307.2 256.3 305.7 256.8 305.2 257.7 304.8 257.8 301.2 257.5 300.7 257.3 299.5 258.5 294.3 258.8 294.0 260.3 294.2 260.7 293.8 261.0 292.8 261.0 291.2 260.5 290.3 260.7 289.7 261.8 288.8 263.5 288.5 264.3 287.5Z" fill="#e0bfdc" stroke="#fbf5fb" stroke-width=".55"/>
<path d="M245.2 353.0 244.7 352.8 243.0 351.3 241.7 351.5 240.2 352.5 239.3 352.2 238.8 351.3 238.2 350.8 236.3 351.2 235.7 350.5 234.2 350.5 232.3 351.3 231.0 351.3 229.2 353.3 227.8 353.8 226.5 355.0 226.3 356.2 225.8 356.7 224.5 357.0 222.5 357.8 221.7 358.5 220.8 358.7 220.3 359.2 220.2 359.8 219.2 360.7 217.2 360.7 215.8 361.3 215.0 364.0 215.0 364.8 215.5 365.8 216.3 366.7 217.8 369.8 218.7 370.7 219.8 371.0 220.2 371.5 220.2 374.5 218.5 375.8 218.5 376.7 219.0 377.2 219.5 378.7 220.3 379.5 222.2 379.7 223.5 380.2 224.8 380.3 226.2 379.5 229.0 379.7 230.0 379.0 232.2 379.5 233.2 378.7 235.3 378.0 236.2 378.8 237.2 379.0 238.3 380.5 239.3 380.5 243.2 377.2 244.8 377.3 245.8 376.8 246.0 376.0 244.7 373.7 244.5 371.8 242.8 370.0 242.5 369.3 242.8 368.3 242.7 365.2 243.2 364.8 243.8 364.8 246.5 364.0 249.8 362.3 250.0 361.7 249.2 359.8 247.3 359.2 247.2 357.7 245.8 355.8 245.7 354.0Z" fill="#eee0ee" stroke="#fbf5fb" stroke-width=".55"/>
<path d="M286.7 276.5 286.2 277.0 286.2 277.5 287.2 279.3 287.3 281.7 287.7 282.2 289.0 286.5 288.2 288.0 288.5 289.5 287.7 290.8 287.2 293.0 286.7 293.7 286.7 295.2 286.0 296.0 285.0 296.3 284.5 296.8 284.2 297.8 284.3 298.7 285.3 300.5 285.3 301.3 285.0 301.7 284.7 303.0 284.7 304.2 285.0 305.0 285.2 306.5 285.3 306.7 287.7 306.5 288.8 307.7 290.2 307.7 290.8 307.3 293.0 307.3 294.7 307.8 295.8 307.2 296.7 307.2 297.7 307.8 298.8 308.2 300.7 308.2 302.2 308.8 304.2 309.0 305.3 309.5 306.7 309.5 307.5 308.8 308.2 306.8 308.8 306.2 309.3 306.0 309.3 305.5 310.3 304.5 312.0 303.8 312.5 303.2 312.5 302.3 313.8 301.3 314.0 300.5 313.5 299.7 313.5 299.0 314.3 298.2 316.0 297.7 317.7 296.7 317.8 296.2 317.7 293.7 317.0 292.8 315.8 292.3 315.2 291.7 314.8 289.7 314.0 288.5 314.0 287.2 311.8 286.2 310.3 284.3 310.0 283.7 310.5 282.8 310.5 281.7 309.8 281.0 308.7 280.5 305.5 280.2 303.8 281.2 303.2 280.7 303.0 280.0 302.2 280.0 301.5 280.3 299.7 279.7 297.8 278.0 297.7 276.5 297.2 275.5 296.2 274.5 294.5 273.5 293.8 273.5 292.8 274.0 291.7 276.0 290.5 277.2 289.5 277.2 288.0 276.5Z" fill="#6a1e7b" stroke="#fbf5fb" stroke-width=".55"/>
<path d="M107.8 244.7 108.7 245.8 110.0 246.5 110.2 247.5 109.8 248.0 109.8 249.0 110.8 249.5 111.5 250.2 111.5 250.5 111.2 251.0 111.0 252.2 110.3 252.7 108.2 252.5 107.8 252.8 107.8 253.5 108.3 254.3 108.3 256.2 109.5 257.7 109.5 258.5 109.2 259.0 108.2 259.7 107.8 260.3 107.8 262.2 107.5 263.7 108.5 263.7 110.0 263.2 110.8 263.5 112.2 264.7 113.7 264.7 114.3 264.3 118.2 264.5 119.5 263.0 121.0 262.3 122.0 263.2 122.3 264.2 123.0 264.8 125.2 265.7 125.8 267.0 128.5 268.5 129.8 270.2 131.0 270.2 131.8 269.7 133.8 269.2 134.5 268.8 134.8 268.3 136.0 268.7 137.3 268.5 138.7 267.2 139.7 266.8 140.0 265.0 141.0 263.7 142.8 263.3 146.0 261.7 147.0 260.3 147.0 260.0 145.7 259.0 143.7 259.0 143.3 258.7 143.2 258.2 143.8 257.8 144.0 256.8 142.8 255.8 142.8 255.0 144.3 253.7 144.7 252.7 145.3 252.0 147.0 251.5 148.0 250.7 148.7 249.2 148.7 248.7 148.3 248.5 148.7 248.2 148.5 247.8 145.8 248.3 144.7 247.7 143.8 249.2 142.5 249.7 141.3 249.5 140.8 249.8 140.3 249.8 139.8 249.0 138.8 248.5 138.7 248.0 138.0 248.2 137.2 247.7 135.0 248.7 134.5 248.3 133.8 248.3 133.2 248.8 133.2 249.8 132.3 250.7 131.3 250.7 130.7 251.3 130.0 251.3 129.2 252.5 128.3 252.8 128.0 253.5 127.3 252.5 127.3 251.2 126.2 250.7 125.8 250.2 126.0 249.8 125.8 249.7 126.0 248.5 125.8 248.0 124.8 247.5 124.3 246.5 123.3 245.8 122.8 244.8 123.5 243.0 123.2 242.7 122.3 242.8 121.5 242.7 120.2 241.0 120.2 240.5 119.8 240.3 119.2 241.0 118.5 241.0 117.5 240.0 116.8 240.0 116.0 241.0 113.5 241.0 113.0 241.3 111.5 241.2 110.7 241.3 109.3 242.0 109.0 244.0Z" fill="#e0bfdc" stroke="#fbf5fb" stroke-width=".55"/>
<path d="M222.2 327.5 221.3 328.3 221.3 328.7 224.5 331.3 224.3 334.0 225.0 334.2 225.3 333.3 226.2 333.0 227.5 334.5 227.7 335.0 226.7 336.8 226.7 338.2 227.0 339.3 228.0 340.8 227.7 342.0 227.7 343.0 228.8 344.0 228.8 345.7 229.3 347.0 231.0 349.2 231.2 349.7 231.0 351.3 232.7 351.5 234.5 350.7 235.3 350.7 236.0 351.3 237.8 351.0 238.7 351.7 239.0 352.3 239.8 352.7 240.5 352.7 241.7 351.8 242.7 351.5 244.3 353.0 245.2 353.2 245.3 351.8 246.3 350.8 247.3 350.5 247.8 349.8 247.7 348.0 248.2 347.5 249.7 347.0 250.3 346.3 250.7 345.5 250.3 343.5 249.3 342.5 249.2 342.0 249.5 341.5 249.5 340.3 248.3 338.5 248.8 336.7 248.2 335.7 246.5 334.2 244.3 333.3 243.7 332.3 243.5 331.5 242.7 331.3 241.8 330.8 240.2 329.2 239.5 327.8 237.2 325.8 236.5 325.8 236.0 326.2 234.8 326.2 233.0 327.5 231.7 327.5 230.2 327.0 229.5 327.0 228.2 327.7 227.0 327.5 224.2 327.7 223.5 327.3Z" fill="#e0bfdc" stroke="#fbf5fb" stroke-width=".55"/>
<path d="M212.5 357.2 210.7 357.2 209.7 358.0 207.3 358.2 206.5 359.0 204.0 360.2 203.2 361.0 202.5 361.2 201.8 360.8 201.8 360.2 201.5 359.5 200.7 359.5 200.2 361.3 199.3 362.2 196.2 362.8 193.7 364.3 192.5 364.5 192.5 365.2 193.0 365.8 192.2 366.8 191.7 366.8 190.7 367.5 190.5 369.3 187.8 373.2 187.0 373.8 186.0 373.2 185.3 373.3 185.0 374.5 187.2 376.7 188.2 377.2 189.3 378.2 190.8 378.8 191.8 380.0 191.7 382.8 192.0 383.7 191.7 386.8 192.7 386.8 194.0 387.7 195.2 387.8 196.7 388.8 197.3 388.8 198.0 388.5 199.8 388.7 201.7 390.5 202.7 390.8 203.7 390.7 204.3 389.8 205.0 389.5 205.7 389.5 206.0 389.8 206.0 390.8 207.5 392.7 208.3 392.8 209.0 392.5 210.2 391.3 210.8 391.3 210.8 390.3 211.7 389.0 211.7 388.0 212.7 386.3 213.2 384.7 213.7 384.3 215.7 384.3 216.8 383.5 217.5 382.2 217.3 379.7 217.8 377.5 218.7 376.7 218.7 376.2 220.3 374.8 220.3 371.2 220.2 370.8 219.0 370.5 218.0 369.5 216.5 366.3 215.7 365.5 215.2 364.3 215.8 362.7 216.0 361.2 213.7 358.7 213.5 357.8Z" fill="#e0bfdc" stroke="#fbf5fb" stroke-width=".55"/>
<path d="M353.3 288.7 351.5 289.2 348.8 287.8 347.8 287.0 347.0 287.0 345.7 287.8 343.8 288.0 342.7 288.5 340.5 286.5 339.8 286.3 338.7 287.7 337.7 289.8 336.3 291.2 336.0 292.2 335.2 293.0 333.8 293.2 332.7 294.0 331.8 293.8 330.0 294.0 329.0 293.0 326.8 293.2 325.8 294.0 325.8 295.0 326.5 296.8 325.8 297.8 325.5 298.0 324.8 297.8 324.3 297.0 323.3 296.3 322.5 296.3 321.5 297.3 321.3 298.0 321.7 298.7 323.3 300.2 325.0 300.0 325.3 300.3 325.2 300.8 324.3 301.0 324.3 302.7 325.5 304.0 325.7 305.2 326.5 305.3 327.2 305.8 326.8 306.3 327.0 307.8 328.0 308.7 329.8 309.3 330.5 310.0 331.3 310.2 333.0 311.0 334.5 312.5 334.8 313.3 334.5 314.5 334.5 315.7 335.0 316.7 335.3 318.7 335.7 317.8 336.2 317.3 336.8 317.3 337.3 317.8 337.8 317.8 338.3 317.5 338.7 316.5 339.5 315.8 339.8 314.8 340.8 314.0 341.2 313.3 341.0 312.3 341.8 311.2 341.7 309.8 342.5 309.2 342.3 307.8 343.0 307.0 343.3 305.8 343.8 305.3 345.7 304.7 346.0 304.0 347.2 303.2 347.3 302.5 347.8 302.2 348.3 300.8 348.8 300.3 349.5 298.7 350.5 297.7 350.3 297.2 351.7 296.2 351.8 294.3 352.8 292.8 352.7 291.8 353.2 290.8 353.0 290.0 353.5 289.2Z" fill="#6a1e7b" stroke="#fbf5fb" stroke-width=".55"/>
<path d="M307.5 366.8 306.0 368.3 305.5 368.3 305.8 369.8 305.7 372.3 305.3 373.2 303.7 375.5 303.7 378.5 304.2 379.7 304.2 381.0 302.7 382.7 302.3 383.5 302.3 385.0 301.2 386.3 301.2 387.0 302.0 388.2 304.0 389.3 305.8 389.2 306.3 389.8 305.2 391.0 304.8 391.7 304.8 393.2 306.0 395.5 306.0 396.3 303.5 399.3 302.7 401.2 302.7 402.0 303.2 402.2 303.8 403.0 304.3 403.0 304.3 402.3 305.0 402.0 306.8 403.7 307.3 404.7 308.8 405.5 310.0 405.5 311.0 405.2 312.3 405.2 313.2 404.8 314.8 404.7 316.7 402.8 316.8 403.0 318.5 402.8 318.8 403.2 318.8 403.5 318.3 404.0 318.3 404.8 318.8 405.3 320.0 405.2 321.0 403.8 323.2 404.5 324.7 404.5 325.5 402.3 325.7 401.0 324.8 400.0 324.5 398.3 323.8 397.7 323.8 395.3 322.2 393.5 321.3 393.5 320.0 394.3 319.3 393.8 319.2 393.3 319.8 392.2 320.7 391.3 321.5 391.0 323.0 390.8 323.7 389.5 325.3 388.2 325.3 387.8 324.7 387.3 324.7 387.0 325.5 386.2 327.0 386.3 327.2 385.5 325.8 385.0 323.3 382.0 323.0 381.2 323.2 378.3 322.5 377.3 321.8 377.2 320.8 378.2 319.8 378.0 317.7 376.2 317.3 374.5 316.8 373.8 315.0 373.5 313.8 373.0 311.7 369.7 310.8 369.2 309.2 367.2 308.5 366.8Z" fill="#e0bfdc" stroke="#fbf5fb" stroke-width=".55"/>
<path d="M197.2 223.2 197.5 223.8 198.0 223.5 198.3 223.7 198.2 224.5 198.5 225.0 198.5 226.0 198.8 227.0 199.8 228.3 199.8 232.2 200.5 233.0 200.5 233.7 200.8 234.3 201.2 236.7 201.0 238.3 201.3 239.3 199.8 241.3 199.7 243.2 200.5 245.0 201.5 246.2 202.3 246.7 203.8 246.5 205.2 248.0 208.2 249.5 209.5 251.3 209.8 251.3 212.7 249.5 213.3 248.0 213.8 247.5 214.7 247.2 215.8 247.2 216.7 246.8 218.2 247.0 219.3 247.3 221.0 248.5 222.5 248.8 223.8 248.5 223.8 247.8 223.3 246.5 222.3 244.7 222.5 240.7 222.7 240.2 224.2 238.8 224.3 237.5 224.0 236.7 224.5 236.2 225.5 236.2 227.0 235.7 227.3 234.8 227.3 233.0 227.5 232.8 227.5 231.7 226.7 230.0 225.7 228.8 224.3 227.8 224.2 226.5 222.2 227.2 221.7 225.8 218.0 225.5 217.8 225.7 217.8 228.3 217.3 229.0 216.7 229.3 215.7 228.7 212.3 228.8 211.2 226.5 210.8 226.3 209.3 226.5 208.0 225.5 207.8 223.3 207.5 223.3 205.8 224.5 202.2 224.5 201.7 224.8 200.7 224.8 199.8 224.3 199.8 223.8 199.5 223.3Z" fill="#eee0ee" stroke="#fbf5fb" stroke-width=".55"/>
<path d="M216.3 246.7 213.5 247.3 212.3 249.3 209.5 251.2 210.3 253.5 210.2 254.7 211.3 256.3 211.5 257.5 212.5 260.0 211.5 261.0 211.2 261.7 211.2 263.0 211.5 263.7 211.0 264.2 210.3 266.0 210.3 267.7 208.7 270.0 208.7 271.2 209.2 272.7 210.0 273.0 210.5 273.5 211.2 275.0 212.8 274.8 215.0 275.0 215.8 274.3 216.5 274.3 217.0 274.7 218.2 276.8 220.0 277.0 221.8 276.2 222.3 275.7 223.8 276.2 224.2 275.7 224.0 273.2 224.5 271.8 225.5 271.0 227.0 270.7 228.2 269.5 230.5 269.3 231.5 268.3 232.0 267.2 232.7 266.5 234.0 266.0 234.5 265.5 234.8 264.8 234.8 262.3 234.3 261.7 234.3 261.2 235.0 260.3 235.3 259.2 233.8 259.2 232.2 258.5 231.0 258.5 230.2 257.3 230.2 255.8 229.5 254.8 229.3 253.7 227.5 251.7 226.5 251.0 224.7 248.7 224.0 248.3 222.0 248.5 220.7 248.0 219.3 247.0Z" fill="#eee0ee" stroke="#fbf5fb" stroke-width=".55"/>
<path d="M82.5 247.0 82.7 247.2 81.8 248.0 81.8 248.8 81.2 249.7 81.2 250.5 80.7 251.2 80.8 252.2 80.0 253.2 81.2 253.8 81.3 254.2 81.2 254.5 81.8 254.5 82.7 255.8 83.3 256.3 84.8 255.8 85.8 255.8 87.2 255.0 88.8 255.3 89.7 254.8 89.8 255.2 89.5 255.5 88.2 256.2 87.7 256.2 87.5 256.5 88.7 256.5 89.3 257.5 91.8 257.2 92.8 258.2 92.7 258.3 92.0 257.8 91.7 257.8 91.3 258.3 90.0 258.2 89.0 259.5 88.5 259.2 88.3 259.3 87.8 259.0 87.2 259.0 86.5 259.8 86.0 260.0 85.7 259.8 85.8 260.0 85.7 261.5 87.2 261.2 87.8 261.8 88.8 262.0 89.3 261.0 90.0 260.5 90.7 261.2 90.7 262.0 89.3 263.5 87.8 263.3 85.5 264.7 84.8 264.5 84.5 265.0 84.0 264.8 83.8 265.0 83.2 264.2 82.2 264.0 81.3 265.0 80.5 265.2 81.3 265.3 83.0 266.7 84.2 267.0 84.8 267.7 85.3 267.8 85.8 268.3 86.0 269.7 87.5 269.5 88.2 270.2 88.0 270.7 88.7 271.8 88.7 273.0 88.3 273.5 88.5 274.2 89.7 273.7 90.0 274.0 90.0 274.5 90.7 274.8 91.0 274.0 91.8 273.3 93.3 273.2 93.8 272.5 95.5 272.2 95.7 272.3 95.8 272.2 96.3 272.8 97.5 272.5 97.8 271.8 98.2 272.2 98.2 273.7 99.3 274.3 100.2 275.5 101.3 275.3 101.8 276.0 101.8 276.5 102.0 276.0 102.2 276.3 102.0 275.8 102.2 275.5 102.5 275.3 103.0 275.5 103.3 276.0 102.8 276.7 103.3 277.3 104.5 277.0 104.7 277.2 106.5 277.0 107.2 278.2 107.3 278.0 107.7 278.3 108.8 278.7 109.7 279.5 111.0 279.7 111.5 279.0 111.5 278.2 110.8 277.7 109.8 277.5 110.0 276.2 109.7 275.3 109.7 273.0 108.5 271.5 108.7 269.7 107.8 268.0 107.8 267.0 107.0 266.0 105.0 266.2 104.5 265.8 104.7 265.5 106.7 265.7 107.8 263.3 108.0 260.7 108.3 260.0 109.7 258.8 109.7 257.3 108.5 255.8 108.5 254.0 108.0 253.2 108.5 252.7 110.7 252.8 111.2 252.5 111.3 251.3 111.7 250.8 111.7 249.8 110.0 248.7 110.3 247.8 110.2 246.2 109.0 245.7 108.2 244.7 106.7 244.8 106.2 244.5 105.5 244.5 105.5 245.3 105.2 245.8 104.7 245.5 104.3 244.7 103.8 244.3 103.0 245.2 102.2 245.3 101.2 244.3 100.5 244.3 99.8 245.0 98.8 245.2 98.3 245.0 97.5 244.2 97.0 244.2 96.5 244.5 95.0 244.8 92.0 244.8 91.8 245.3 91.0 245.8 88.5 245.5 87.3 246.2 87.0 245.8 86.0 245.7 84.8 246.7 83.8 247.2Z" fill="#a59bcb" stroke="#fbf5fb" stroke-width=".55"/>
<path d="M280.7 399.5 280.2 400.0 280.2 401.3 281.0 403.0 280.0 404.2 278.8 404.8 278.2 405.7 277.8 405.7 277.3 405.2 276.3 405.2 275.8 405.7 275.5 406.8 274.8 407.3 273.5 407.7 272.3 408.3 271.0 408.3 269.5 408.8 269.5 410.8 269.8 413.2 270.2 413.7 272.0 414.7 272.8 414.7 274.7 413.0 275.2 413.0 276.3 413.7 279.3 413.7 280.0 413.2 280.8 414.0 282.5 414.3 283.2 415.3 283.2 415.8 282.2 416.8 282.3 418.7 281.8 419.5 281.8 420.2 282.8 420.2 283.3 419.8 284.7 419.8 285.8 420.3 286.8 421.3 287.2 422.0 286.8 423.2 286.8 424.3 287.2 424.8 286.8 427.7 287.5 427.7 288.0 427.2 289.3 427.0 289.5 428.5 290.5 428.3 291.5 428.7 292.0 429.7 292.5 429.8 293.0 429.2 294.2 429.0 295.2 428.0 295.7 427.0 295.5 425.7 294.7 424.7 294.7 424.3 295.2 423.8 297.0 423.0 297.5 422.3 297.7 421.3 296.8 419.5 296.8 419.0 297.3 418.0 297.3 416.8 298.0 416.3 299.0 416.2 300.3 416.8 302.0 417.0 302.7 417.8 303.3 418.0 304.8 416.7 305.2 416.7 305.8 415.2 305.8 414.0 305.3 413.8 303.2 411.3 303.3 409.0 303.0 408.7 301.3 408.7 300.5 407.8 300.7 405.5 301.2 405.0 302.3 404.5 302.5 403.8 301.3 403.0 299.0 403.0 297.2 402.2 296.0 402.2 294.8 401.5 293.8 400.2 289.2 398.3 286.8 398.2 284.2 399.0 284.7 400.0 284.7 401.0 284.0 401.7 283.5 401.7 281.8 399.5Z" fill="#a59bcb" stroke="#fbf5fb" stroke-width=".55"/>
<path d="M229.3 419.3 228.5 418.7 225.7 418.5 225.2 417.8 223.7 418.0 220.8 415.8 219.7 415.8 218.5 416.3 218.0 417.0 217.3 417.3 216.7 417.3 213.8 415.5 212.8 415.5 211.5 416.3 211.0 417.3 212.0 419.8 212.2 421.8 211.8 422.3 210.8 422.8 210.8 424.0 212.0 425.3 212.0 425.8 211.0 427.8 210.3 428.5 208.3 428.8 207.5 429.8 206.2 432.5 205.2 433.7 204.5 434.0 202.8 433.0 202.3 433.0 201.5 433.7 200.5 434.0 200.0 435.0 199.0 436.0 199.2 438.7 200.3 440.2 199.5 440.7 199.0 441.5 198.5 441.8 197.8 441.7 197.5 440.7 197.0 440.5 196.8 440.8 197.0 442.7 196.0 444.7 196.0 445.8 195.7 447.2 194.8 448.2 195.0 449.7 194.0 450.8 192.3 452.2 191.3 454.5 189.8 455.8 189.7 456.5 191.7 457.0 191.8 456.7 193.5 455.8 194.2 455.8 194.5 456.2 196.7 455.8 197.2 456.2 197.0 456.5 197.2 457.0 198.5 456.8 198.8 456.2 199.0 456.3 199.5 456.2 200.0 457.2 200.3 457.3 200.7 456.8 200.8 457.0 201.5 456.7 202.0 456.8 202.2 456.5 201.5 455.8 201.7 455.7 201.3 453.5 201.0 453.0 202.0 451.3 202.3 451.2 202.2 451.0 203.3 450.5 206.7 450.7 207.2 451.0 206.7 451.5 206.7 452.2 207.0 452.3 208.7 450.5 208.5 447.5 209.0 447.0 209.5 447.0 209.8 446.5 210.2 444.3 211.2 443.2 213.3 441.7 213.8 440.3 214.7 439.2 215.8 439.0 217.3 437.5 219.7 437.5 220.3 437.2 220.7 436.5 220.7 435.0 222.8 433.5 223.8 433.5 225.3 434.2 226.2 435.3 226.3 436.7 227.0 437.3 227.5 437.3 229.7 435.7 230.3 434.7 230.5 433.0 231.0 432.0 231.5 431.5 232.8 431.2 233.5 430.5 233.0 428.7 233.0 426.8 233.2 426.7 233.0 424.8 232.5 424.3 231.5 424.3 230.7 425.2 230.0 425.3 229.5 424.5 229.7 423.8 230.3 423.2 230.5 421.2 229.8 420.7Z" fill="#6a1e7b" stroke="#fbf5fb" stroke-width=".55"/>
<path d="M187.0 407.7 186.3 408.5 186.0 409.8 186.2 412.0 185.5 413.0 184.2 413.8 183.7 415.0 183.0 415.8 183.0 416.7 183.3 417.0 184.8 416.8 185.3 417.5 185.3 418.0 185.2 418.2 182.5 418.0 181.8 418.8 181.5 421.2 180.8 422.7 180.8 423.7 181.7 426.0 182.7 425.8 183.2 426.3 183.8 428.5 185.2 429.7 185.7 431.5 186.3 431.8 187.7 431.7 188.7 431.0 190.0 432.2 191.2 432.3 192.0 432.2 193.8 431.0 195.2 431.0 196.7 430.3 199.7 430.2 200.3 430.5 200.8 431.7 202.3 433.2 204.2 434.2 204.8 434.2 205.5 433.8 206.3 432.8 208.0 429.7 209.0 428.8 210.7 428.7 211.2 428.2 212.2 426.2 212.2 425.0 211.2 424.0 211.0 423.2 212.2 422.5 212.3 422.2 212.3 420.2 211.3 417.2 210.3 416.0 210.3 414.3 210.0 413.7 209.2 412.8 208.3 412.5 207.3 411.0 206.0 410.3 205.0 410.7 204.0 410.7 202.2 408.8 201.7 408.8 200.5 409.8 199.0 410.0 197.7 410.8 197.2 410.8 196.2 409.7 194.7 409.7 193.8 410.0 192.3 411.8 191.3 411.8 189.8 411.0 189.5 409.3 189.0 408.7 187.8 407.8Z" fill="#e0bfdc" stroke="#fbf5fb" stroke-width=".55"/>
<path d="M161.0 358.0 159.8 359.0 158.8 360.7 159.0 361.8 159.8 362.0 160.0 362.3 159.7 362.7 159.2 362.7 158.8 363.3 157.7 364.3 157.7 365.5 158.0 366.0 158.0 366.5 157.5 367.0 157.5 367.5 156.8 369.0 156.8 370.3 157.5 371.5 157.3 372.0 156.5 372.5 156.3 374.2 155.8 374.7 155.8 375.3 156.3 376.3 156.3 377.3 156.0 378.0 156.2 378.8 155.8 379.3 155.8 380.0 156.5 381.2 155.7 382.7 156.8 383.3 156.8 384.5 157.5 385.8 157.5 386.3 158.8 387.7 158.8 388.0 158.2 388.7 157.8 388.5 157.5 388.7 156.7 389.8 156.7 391.2 155.8 391.8 156.0 392.5 155.0 393.8 155.3 395.0 155.0 395.8 154.5 396.3 155.2 396.7 160.0 397.0 161.3 396.8 162.7 396.2 163.3 396.2 163.7 396.5 163.3 397.0 163.5 398.8 164.2 399.7 164.7 399.8 166.2 399.5 167.7 398.0 168.0 398.0 168.8 398.8 169.7 398.8 170.8 400.2 172.0 400.2 173.2 399.7 175.5 399.2 176.8 400.5 176.8 401.2 176.2 402.8 176.3 403.5 178.2 403.5 178.3 403.7 180.3 403.5 182.8 405.0 186.7 404.5 187.5 403.5 187.5 402.3 187.0 402.0 185.8 402.2 185.2 401.5 185.3 400.7 186.0 399.8 185.8 396.0 186.3 394.8 186.2 393.2 187.3 392.3 187.7 391.7 187.8 389.8 189.3 389.0 190.5 388.8 191.2 388.2 192.0 386.7 192.2 383.3 191.8 382.5 192.0 381.0 191.8 379.3 191.2 378.7 189.7 378.0 188.5 377.0 187.5 376.5 185.3 374.3 184.8 374.3 183.5 375.7 183.3 376.5 182.8 377.2 182.5 377.3 181.5 376.8 180.3 375.5 180.0 373.3 179.2 372.7 178.2 372.5 177.8 372.0 178.7 370.0 178.7 368.5 178.2 367.2 176.0 367.2 174.7 367.7 173.5 366.2 172.2 365.3 171.3 365.3 170.8 364.8 170.7 364.0 169.0 362.7 167.0 362.7 166.8 363.2 166.8 364.2 168.3 365.3 168.5 366.3 169.5 368.0 169.7 369.8 170.2 370.3 169.7 371.0 168.2 370.7 167.8 370.3 167.8 369.8 168.3 369.2 168.0 367.8 167.0 367.3 166.5 366.0 165.5 365.2 165.5 364.5 165.0 363.2 163.2 360.7 163.3 359.7 163.0 359.0 162.5 358.5 161.7 358.8Z" fill="#6a1e7b" stroke="#fbf5fb" stroke-width=".55"/>
<path d="M287.3 421.7 287.0 421.0 285.5 419.8 285.0 419.7 283.0 419.7 282.5 420.0 282.0 419.8 282.5 419.0 282.5 416.8 283.5 416.0 283.3 415.0 282.8 414.2 281.2 413.8 280.3 413.0 279.5 413.0 279.0 413.5 276.7 413.5 275.5 412.8 274.3 412.8 272.5 414.5 271.5 414.2 271.7 416.0 271.2 416.7 270.7 416.8 269.7 416.7 267.8 418.2 264.2 416.5 262.5 416.3 261.0 416.7 259.3 417.8 259.3 418.7 259.8 419.5 259.8 419.8 259.3 420.3 258.7 420.3 257.0 419.5 255.8 419.5 254.8 420.0 254.7 421.5 254.0 422.2 253.0 422.7 252.8 424.2 252.0 425.7 251.5 426.2 250.2 426.2 249.7 426.7 249.3 431.8 250.0 433.3 251.5 434.2 251.7 435.3 254.3 435.5 255.3 435.0 256.7 435.8 260.7 436.2 263.2 438.2 264.3 439.5 264.8 439.2 265.7 439.2 266.7 438.3 268.8 438.2 269.5 437.5 270.0 437.3 271.2 437.8 272.8 436.5 273.7 435.5 274.2 435.5 275.2 434.8 275.8 434.0 276.0 434.2 276.5 434.0 277.3 433.3 277.8 433.7 278.0 434.8 278.8 434.7 279.7 432.7 280.3 432.3 281.2 432.3 282.0 431.5 282.2 431.0 283.5 430.0 285.0 429.8 285.2 428.3 285.7 427.8 286.0 427.8 286.3 427.3 287.0 427.7 287.0 426.8 287.5 425.5 287.3 424.5 287.0 424.0 287.3 422.8Z" fill="#6a1e7b" stroke="#fbf5fb" stroke-width=".55"/>
<path d="M159.3 248.2 157.3 248.3 157.2 250.0 157.5 250.5 157.2 250.8 157.0 250.7 156.8 250.8 156.0 250.2 154.7 250.0 154.2 249.7 152.7 249.3 151.8 249.7 150.3 249.5 149.7 249.8 149.5 250.2 149.2 250.2 148.5 248.8 147.8 250.3 147.0 251.2 145.0 251.8 144.5 252.3 144.2 253.3 142.7 254.7 142.5 255.2 142.7 256.2 143.8 257.2 143.3 257.7 143.0 256.8 142.5 256.7 142.7 258.5 143.0 258.5 143.3 259.2 145.3 259.2 146.3 259.8 146.7 260.3 145.7 261.5 142.5 263.2 140.7 263.5 139.8 264.7 139.5 267.0 141.0 269.0 141.2 270.5 141.7 271.8 143.2 273.2 143.2 273.5 140.5 275.8 139.7 277.0 139.7 277.3 141.5 278.0 142.0 278.8 142.3 280.7 142.8 281.2 144.2 281.8 146.5 281.8 147.3 281.2 148.8 280.5 151.7 280.8 152.3 280.2 152.5 279.7 152.5 278.2 151.3 276.3 151.3 276.0 151.8 275.5 152.2 275.5 153.3 276.3 155.0 276.3 156.8 277.3 158.2 277.3 159.5 277.8 161.3 277.8 161.8 277.3 163.0 277.0 163.5 276.2 163.2 272.8 163.7 271.8 163.5 270.7 163.8 270.2 163.8 269.5 164.3 268.2 165.0 267.5 165.5 267.3 166.5 266.3 166.7 265.8 166.7 264.2 166.2 263.3 166.2 262.7 167.2 262.0 167.2 261.5 166.5 260.8 166.0 259.8 165.8 258.7 167.0 256.3 167.0 254.8 165.7 253.8 164.3 253.8 162.8 253.0 161.2 252.7 159.8 251.2Z" fill="#6a1e7b" stroke="#fbf5fb" stroke-width=".55"/>
<path d="M229.5 298.0 228.3 297.5 227.5 297.7 226.5 298.7 225.7 300.2 225.0 300.8 224.3 300.8 222.7 299.5 221.0 299.7 220.7 300.0 220.7 301.5 220.2 302.5 220.0 304.2 219.2 305.7 219.2 307.8 218.5 308.2 217.7 308.2 216.5 307.7 214.8 307.8 213.8 308.3 212.2 310.7 212.2 311.8 211.8 312.2 210.5 312.3 209.2 312.8 209.0 314.7 209.8 315.8 209.7 316.5 210.0 316.8 211.0 316.7 210.8 315.7 211.8 314.5 211.7 313.0 212.0 312.8 212.5 313.3 212.3 314.5 213.2 315.5 214.3 316.0 215.0 317.0 214.7 318.0 214.7 319.2 213.8 320.0 213.7 320.5 213.7 321.8 214.2 322.8 214.2 324.0 213.7 324.8 213.7 326.2 214.0 326.7 214.7 327.0 216.0 327.2 218.3 326.0 218.8 326.0 219.5 326.5 219.7 327.3 220.5 328.5 221.7 328.5 222.8 327.5 223.8 327.8 225.3 327.7 228.5 327.8 229.8 327.2 231.3 327.7 233.3 327.7 235.2 326.3 236.3 326.3 237.0 326.0 237.3 325.3 239.0 323.5 240.8 318.8 240.7 317.7 239.7 317.0 239.7 315.5 239.3 314.5 240.2 313.7 240.7 313.7 241.2 314.0 242.2 314.0 242.5 313.5 242.5 312.0 241.3 311.8 240.0 312.8 239.0 312.7 238.3 312.0 238.8 310.5 238.7 308.8 238.8 306.8 237.7 304.7 236.0 303.3 235.0 302.2 234.3 301.8 231.8 301.8 230.7 301.5 230.0 300.8 229.8 300.3 230.0 298.8Z" fill="#eee0ee" stroke="#fbf5fb" stroke-width=".55"/>
<path d="M222.5 299.3 221.5 298.8 221.7 297.3 217.5 292.7 217.0 291.2 215.5 288.3 215.3 286.5 214.0 285.8 212.5 284.7 209.5 284.5 208.0 286.8 205.0 285.7 204.2 285.7 203.0 286.2 202.2 287.2 202.3 288.7 201.7 289.0 201.5 289.3 200.3 288.3 198.8 287.8 197.0 289.5 194.5 289.8 193.8 289.5 192.7 289.5 192.7 291.0 193.8 292.3 194.0 292.8 193.7 293.8 192.5 295.5 192.3 297.8 190.2 300.0 190.0 303.8 189.5 305.7 191.7 307.0 192.7 307.0 194.7 305.7 195.7 305.7 196.3 306.3 196.7 307.3 197.3 307.8 199.7 307.7 200.2 307.3 203.0 307.8 206.5 306.5 207.3 307.3 207.5 308.3 208.2 309.5 209.2 310.3 208.8 311.3 209.0 312.8 209.8 313.0 210.3 312.7 211.8 312.5 212.3 312.2 212.3 311.0 214.2 308.5 215.8 307.8 217.8 308.5 219.3 308.2 219.3 306.0 220.2 304.5 220.2 303.5 220.8 301.8 220.8 300.3 221.7 299.7 222.5 299.7ZM219.0 299.2 219.0 298.8 219.5 298.5 220.7 298.5 221.2 298.8 220.2 299.8 219.5 299.7Z" fill="#6a1e7b" stroke="#fbf5fb" stroke-width=".55"/>
<path d="M327.5 346.5 326.2 346.5 323.7 347.0 323.2 347.5 322.5 349.0 321.8 349.7 320.2 350.3 319.0 350.3 317.8 350.8 317.2 350.8 316.5 351.2 315.8 352.2 315.2 352.0 312.5 349.3 312.0 349.3 311.7 349.8 311.7 351.0 312.0 351.8 311.7 352.2 310.5 352.3 309.3 353.7 308.3 355.3 306.7 355.8 306.0 356.7 306.0 358.0 305.3 358.7 304.8 358.8 303.5 360.3 302.7 363.0 302.8 364.5 302.5 365.2 302.7 366.0 305.5 368.5 306.3 368.5 307.8 367.0 308.8 367.3 310.2 369.0 311.5 370.0 313.5 373.2 314.7 373.7 316.2 373.8 316.8 374.3 317.3 375.3 317.5 376.5 319.5 378.2 321.2 378.3 322.2 377.5 322.8 378.2 323.0 378.7 322.8 381.5 323.2 382.3 325.5 385.2 326.3 385.3 327.0 385.8 326.7 386.2 325.2 386.0 324.5 386.7 324.5 387.7 325.2 388.2 326.7 388.0 327.3 387.0 328.8 386.8 330.2 385.7 331.3 385.0 333.0 385.0 333.8 384.3 334.7 382.5 335.7 381.7 335.8 381.2 336.7 380.3 339.0 379.8 339.3 379.5 339.3 377.8 339.0 376.2 339.7 374.8 339.5 374.0 338.5 372.8 339.3 372.0 339.5 370.8 338.2 368.8 338.2 365.2 337.7 364.8 335.2 364.8 333.3 363.8 331.5 363.7 330.7 362.8 330.5 361.7 329.7 360.7 329.0 360.3 328.0 360.3 327.5 360.8 327.0 360.7 327.5 360.2 327.8 358.7 328.7 357.5 328.5 355.8 327.2 353.5 326.7 351.7 326.7 348.7 327.7 347.5 327.8 346.7Z" fill="#a59bcb" stroke="#fbf5fb" stroke-width=".55"/>
<path d="M317.5 296.3 315.7 297.5 314.0 298.0 313.3 298.7 313.3 300.0 313.7 300.3 313.7 301.0 312.3 302.0 312.3 302.8 311.7 303.7 310.0 304.3 309.2 305.2 309.3 306.0 310.0 306.0 311.0 306.7 311.7 307.8 311.8 308.8 314.0 310.3 315.8 311.0 315.8 311.3 314.8 312.3 313.8 313.8 313.2 316.0 313.2 317.8 314.0 320.0 315.2 321.2 315.2 322.7 314.8 323.5 313.8 324.8 313.7 326.2 314.8 326.7 316.0 328.0 317.3 328.3 318.5 329.7 320.3 331.0 321.0 331.0 321.8 330.3 322.5 330.2 323.7 331.5 325.0 331.7 326.7 329.7 328.3 328.8 329.3 328.8 330.8 330.0 331.8 328.8 333.0 326.8 333.2 325.2 333.5 324.5 333.0 323.5 333.3 322.5 333.3 321.3 333.5 321.2 334.2 321.5 334.3 321.0 333.5 320.3 333.5 319.8 334.0 319.2 335.0 319.2 335.5 318.5 335.2 316.3 334.7 315.3 335.0 314.0 334.8 312.5 334.3 311.7 333.3 310.8 331.7 310.0 330.8 309.8 329.5 308.8 328.3 308.5 327.2 307.5 327.0 306.7 327.3 306.2 327.3 305.5 326.8 305.2 326.2 305.2 325.8 304.8 325.7 303.7 324.5 302.3 324.5 301.3 324.8 301.0 325.5 301.0 325.5 300.0 325.0 299.7 324.5 299.7 324.0 300.0 323.3 299.8 321.7 298.0 321.7 297.7 322.7 296.8 322.7 296.3 320.8 296.2 320.5 297.0 320.0 297.5 319.5 297.5 317.8 296.3Z" fill="#e0bfdc" stroke="#fbf5fb" stroke-width=".55"/>
<path d="M154.7 396.2 153.5 398.0 154.5 399.7 153.5 400.3 153.0 401.7 153.0 402.3 152.7 402.8 153.7 403.3 153.7 404.0 153.2 404.5 153.3 405.7 152.2 407.0 152.5 408.8 151.3 411.2 151.3 412.7 150.3 413.8 150.5 415.5 149.3 416.3 149.5 417.5 149.3 417.7 149.8 418.3 149.8 419.0 148.8 420.0 148.7 420.7 149.2 421.2 149.2 421.7 149.7 422.3 150.8 423.2 152.5 423.2 153.2 422.7 153.3 421.7 153.7 421.3 154.5 421.3 155.7 422.0 157.2 424.7 157.7 425.0 159.0 425.3 160.2 424.3 160.7 424.5 161.3 425.3 160.8 427.0 161.0 428.2 161.7 428.8 163.0 428.7 164.7 427.5 165.2 427.5 166.0 428.2 167.0 428.0 168.7 426.2 170.2 425.0 171.2 424.7 173.0 424.8 174.2 423.0 176.7 423.2 177.7 423.7 178.7 424.7 179.5 426.3 179.8 426.5 181.5 426.3 181.8 426.0 181.8 425.5 181.3 424.5 181.0 423.0 181.7 421.5 182.0 419.2 182.8 418.2 183.8 418.2 184.7 418.5 185.5 418.3 185.5 417.2 185.2 416.7 183.7 416.8 183.2 416.2 183.8 415.3 184.3 414.2 185.8 413.2 186.3 412.3 186.2 411.0 186.3 409.3 187.3 407.8 187.3 407.3 186.3 405.8 186.3 404.5 184.7 404.5 183.2 404.8 180.7 403.3 179.3 403.5 176.7 403.3 176.5 402.5 177.0 401.5 177.0 400.2 175.8 399.0 175.0 399.0 171.2 400.0 170.0 398.7 168.8 398.5 168.2 397.7 167.8 397.7 166.8 398.2 165.8 399.3 165.0 399.7 164.5 399.5 163.7 398.5 163.5 397.3 163.8 396.8 163.7 396.0 162.3 396.0 161.0 396.7 158.5 396.8 157.7 396.5 155.5 396.5Z" fill="#e0bfdc" stroke="#fbf5fb" stroke-width=".55"/>
<path d="M210.8 274.7 210.3 276.5 209.7 277.7 209.7 278.5 211.7 280.3 212.5 282.3 212.2 283.3 211.2 284.0 210.8 284.7 212.2 284.8 215.2 286.8 215.3 288.7 216.8 291.5 217.3 293.0 221.5 297.7 221.5 298.2 221.2 298.5 221.0 298.3 218.8 298.5 218.8 299.5 219.5 300.0 220.5 300.0 221.5 299.2 222.0 299.3 224.0 301.0 225.0 301.2 225.8 300.5 226.7 299.0 227.8 297.8 228.3 297.8 229.2 298.2 229.7 298.7 229.8 299.2 229.7 300.7 230.3 301.7 231.5 302.0 234.0 302.0 234.7 302.3 237.2 304.8 238.3 304.8 239.2 303.8 239.3 301.8 240.0 300.2 239.8 298.5 240.2 297.5 241.0 296.3 241.3 295.0 241.3 294.3 240.5 293.2 240.3 289.5 239.8 288.5 240.0 288.3 239.8 286.7 239.5 286.3 238.5 286.2 237.2 286.8 236.5 286.2 236.3 284.8 234.5 283.2 233.2 283.2 232.5 283.7 231.2 283.2 230.0 282.0 229.2 280.7 228.0 279.8 227.7 279.3 227.8 278.7 228.8 277.3 228.7 276.3 227.8 276.3 226.3 277.0 225.3 277.0 223.0 275.5 222.0 275.5 221.5 276.0 219.7 276.8 218.8 276.8 218.0 276.2 217.2 274.3 216.3 274.0 215.5 274.2 214.7 274.8Z" fill="#e0bfdc" stroke="#fbf5fb" stroke-width=".55"/>
<path d="M278.8 333.7 278.5 335.0 278.5 336.2 278.8 336.7 279.8 337.0 280.3 337.5 280.3 337.8 279.0 339.2 277.7 341.3 277.7 343.3 278.5 344.8 278.5 348.2 280.0 349.7 279.2 350.7 278.5 351.0 277.3 351.0 276.5 351.5 276.2 352.2 276.2 354.8 275.7 355.3 275.7 355.7 276.5 356.3 277.3 356.3 279.7 354.8 280.5 355.0 281.2 355.7 282.3 358.2 282.3 359.5 281.7 360.2 280.8 360.5 280.3 361.2 280.3 362.0 280.7 362.5 281.8 363.2 282.8 363.2 283.3 364.2 284.7 365.5 285.7 366.0 286.5 366.8 286.5 368.0 286.8 368.5 291.7 368.8 293.3 370.5 294.3 370.8 295.3 370.7 297.0 369.0 297.7 367.2 298.7 365.5 299.0 364.2 299.8 363.0 299.8 362.5 296.3 359.0 294.7 359.2 293.3 358.5 292.3 357.2 292.3 356.0 291.7 354.5 290.8 353.8 290.8 353.5 291.8 352.5 292.0 351.2 291.3 350.2 291.3 348.5 290.3 347.0 291.7 345.2 292.7 344.3 292.7 343.7 290.8 342.2 290.8 341.3 290.5 340.5 289.2 339.2 288.0 338.5 286.0 336.3 284.8 335.8 284.0 334.7 283.0 334.3 282.0 333.5Z" fill="#a59bcb" stroke="#fbf5fb" stroke-width=".55"/>
<path d="M264.7 364.0 264.5 364.3 264.7 365.3 265.8 367.0 265.5 368.3 265.8 370.5 264.0 372.3 263.8 372.8 264.0 375.0 263.7 375.5 263.3 377.0 265.0 379.2 266.2 379.2 267.8 380.8 268.7 381.3 270.5 383.3 272.3 384.7 273.8 385.3 275.5 384.8 276.0 384.0 277.5 382.5 277.8 382.8 278.0 384.0 278.7 384.7 281.5 384.8 282.7 384.3 283.5 383.5 283.7 383.0 283.7 380.7 283.0 378.7 283.2 378.3 286.2 378.5 288.0 379.3 289.3 380.7 289.8 380.8 290.7 380.7 292.2 379.2 292.5 378.5 292.5 376.0 293.0 375.2 294.8 373.7 294.7 372.3 296.0 370.5 296.0 370.0 295.0 370.5 294.0 370.5 292.0 368.7 287.2 368.3 286.7 367.7 286.8 367.5 286.7 366.5 286.0 365.8 285.0 365.3 284.0 364.2 281.3 363.3 280.3 363.5 279.3 364.5 277.2 365.7 276.0 366.0 274.3 365.0 273.7 364.3 273.2 362.8 272.3 362.2 267.5 361.8 266.7 363.3Z" fill="#a59bcb" stroke="#fbf5fb" stroke-width=".55"/>
<path d="M163.2 277.5 162.2 277.3 161.0 277.7 159.8 277.7 158.5 277.2 157.2 277.2 155.3 276.2 153.7 276.2 152.5 275.3 151.5 275.3 151.2 275.7 151.2 276.7 152.3 278.5 152.2 279.8 151.3 280.7 148.5 280.3 147.0 281.0 146.2 281.7 144.3 281.7 143.8 282.3 142.8 282.7 141.7 284.0 140.8 284.5 138.2 287.5 135.7 287.5 134.7 287.8 134.0 288.5 134.2 288.8 133.8 289.0 133.8 289.7 133.3 290.2 132.8 290.2 132.5 289.8 131.5 290.0 131.7 292.0 130.8 292.5 130.0 292.5 129.5 295.0 129.2 295.7 129.3 295.8 130.7 295.7 132.0 295.8 132.3 295.7 131.7 294.8 132.3 294.5 132.8 294.8 132.7 295.5 135.7 295.8 136.7 296.5 137.5 298.0 137.2 298.5 136.8 298.3 136.5 298.5 135.7 301.2 137.0 301.3 137.3 301.0 138.8 301.0 139.5 302.0 139.3 302.2 140.5 302.5 141.2 303.7 138.8 305.7 138.8 306.5 138.5 307.0 139.5 306.7 142.5 308.3 144.3 308.8 145.7 310.0 146.7 310.5 147.3 310.5 148.8 309.0 149.7 309.0 150.8 308.5 152.0 307.7 153.7 305.8 154.5 306.0 155.3 307.7 156.5 308.2 157.2 307.2 158.8 306.3 158.7 305.2 158.8 304.3 159.7 302.7 160.7 302.0 161.3 299.7 163.3 298.0 163.7 297.0 163.5 295.5 164.2 294.7 164.5 294.7 164.3 292.0 162.5 289.7 160.8 287.0 160.8 286.2 161.2 285.5 162.0 285.0 163.7 285.0 164.5 284.3 164.8 283.7 164.8 281.8 164.3 280.7 164.3 279.5Z" fill="#6a1e7b" stroke="#fbf5fb" stroke-width=".55"/>
<path d="M224.0 272.2 223.8 272.8 224.0 275.3 223.7 275.8 223.7 276.3 225.0 277.2 226.7 277.2 228.3 276.5 228.7 277.0 227.5 278.7 227.7 280.0 229.0 281.0 229.8 282.3 230.8 283.3 231.8 283.8 232.8 283.8 233.5 283.3 234.5 283.5 236.2 285.2 236.3 286.5 236.8 287.0 237.7 287.0 238.5 286.5 239.2 286.5 239.8 287.3 239.7 288.8 240.2 290.0 243.2 289.8 244.0 289.3 245.0 289.3 246.8 290.2 248.8 290.2 250.0 289.7 251.5 288.2 253.7 287.2 254.8 287.2 256.0 287.5 258.0 287.5 258.7 286.8 259.7 286.7 261.0 287.7 264.5 287.3 264.7 285.2 263.5 283.8 263.0 282.7 262.7 282.3 261.2 282.3 258.8 279.7 259.2 278.7 259.3 276.0 260.2 275.0 260.2 274.5 258.7 273.7 258.0 273.0 257.8 272.0 257.0 271.3 253.5 270.8 252.7 270.5 249.3 270.7 248.0 268.8 246.7 268.3 244.8 266.8 244.2 265.5 242.5 265.3 240.3 265.8 237.5 265.5 235.3 264.2 234.7 264.2 234.3 265.2 233.7 265.8 232.3 266.3 231.8 266.8 231.3 268.0 230.2 269.2 227.8 269.3 226.7 270.5 225.2 270.8 224.7 271.2Z" fill="#eee0ee" stroke="#fbf5fb" stroke-width=".55"/>
<path d="M218.3 376.5 217.7 377.2 217.2 379.3 217.3 381.8 216.7 383.2 215.3 384.2 213.0 384.3 212.5 386.0 211.5 387.7 211.5 388.7 210.7 390.0 210.5 391.2 211.7 393.2 211.7 394.0 211.3 394.8 211.3 396.0 211.7 396.7 212.8 397.7 213.8 397.8 214.3 398.3 214.3 399.3 214.8 400.3 215.7 401.2 220.3 403.5 221.2 403.3 222.2 402.5 224.2 402.2 224.7 401.7 225.0 400.8 226.2 400.2 227.2 400.2 228.5 400.7 229.2 402.3 229.7 402.3 230.5 401.2 231.0 400.8 232.0 401.0 233.7 402.2 235.0 402.2 235.2 398.7 235.8 398.0 236.7 397.7 236.7 396.7 234.5 394.8 234.5 394.5 235.5 393.5 235.8 392.7 235.7 390.7 236.3 389.8 237.3 389.3 237.8 388.2 237.8 387.2 238.3 386.5 238.3 386.2 238.0 386.2 237.3 385.3 237.3 383.7 236.5 382.5 236.5 382.2 237.2 381.3 237.2 380.5 236.5 379.3 236.3 378.5 235.7 377.8 234.7 377.8 232.8 378.5 231.8 379.3 230.7 378.7 230.2 378.7 228.7 379.5 225.8 379.3 224.5 380.2 222.5 379.5 220.7 379.3 219.7 378.3 219.2 376.8 218.8 376.5Z" fill="#a59bcb" stroke="#fbf5fb" stroke-width=".55"/>
<path d="M187.7 389.5 187.5 391.3 187.2 392.0 186.0 392.8 186.2 394.5 185.7 395.7 185.7 397.7 185.5 397.8 185.8 399.5 185.2 400.3 185.0 401.8 185.5 402.3 186.7 402.2 187.3 402.7 187.2 403.5 186.2 404.3 186.2 406.2 187.2 407.8 189.0 409.2 189.5 410.2 189.7 411.3 190.5 411.8 192.7 412.0 194.2 410.2 195.0 409.8 195.8 409.8 196.8 411.0 197.5 411.2 199.3 410.2 200.8 410.0 201.8 409.2 203.7 410.8 204.5 411.0 205.8 410.7 206.7 409.2 207.7 408.3 208.0 407.7 208.0 407.0 207.5 405.7 208.7 404.3 209.0 403.5 210.0 402.7 211.7 401.8 214.5 399.0 214.5 398.0 214.2 397.7 213.7 397.7 212.7 397.2 211.5 395.7 211.8 394.3 211.8 392.8 210.8 391.2 209.8 391.2 208.7 392.3 207.8 392.5 206.2 390.5 206.0 389.3 204.7 389.3 204.0 389.7 203.3 390.5 202.3 390.5 200.2 388.5 197.7 388.3 197.0 388.7 195.8 387.8 194.3 387.5 193.0 386.7 191.7 386.7 191.0 387.8 190.2 388.7 189.0 388.8Z" fill="#eee0ee" stroke="#fbf5fb" stroke-width=".55"/>
<path d="M263.2 376.8 262.5 377.7 262.5 378.7 262.8 379.5 262.5 381.2 261.8 381.8 260.7 382.2 258.7 384.2 258.3 384.8 258.2 386.3 257.8 387.0 257.8 387.5 258.5 388.5 258.3 389.3 259.5 389.8 260.3 390.7 260.5 391.7 261.0 392.2 263.2 393.2 266.0 395.3 265.7 399.5 267.2 400.8 267.2 401.3 266.2 403.5 266.3 404.8 267.0 406.7 267.7 407.5 268.2 407.5 268.7 408.0 268.8 408.7 269.3 409.2 270.5 408.7 272.7 408.5 273.8 407.8 275.5 407.3 276.0 406.0 276.7 405.3 277.0 405.3 277.5 405.8 278.5 405.8 279.2 405.0 281.0 403.7 281.2 402.5 280.3 401.0 280.3 400.3 280.7 399.8 281.5 399.7 282.7 401.3 283.5 402.0 284.3 401.8 284.8 401.3 285.0 400.8 284.8 399.7 283.3 398.2 283.5 395.7 283.8 394.7 284.5 393.8 284.2 392.2 284.7 391.2 284.7 390.3 283.8 389.3 282.8 388.8 281.8 387.8 281.8 385.5 281.5 384.7 279.0 384.5 278.2 383.7 277.8 382.3 277.2 382.3 275.2 384.7 274.5 385.0 273.7 385.0 270.8 383.2 269.0 381.2 268.2 380.7 266.3 378.8 265.3 379.0 263.7 376.8Z" fill="#a59bcb" stroke="#fbf5fb" stroke-width=".55"/>
<path d="M194.2 292.3 192.8 290.7 192.8 289.5 191.5 288.3 191.2 287.5 189.0 284.3 187.8 283.7 187.5 282.7 186.8 282.0 185.8 281.5 184.8 281.3 183.7 280.3 183.0 279.3 183.0 278.8 182.5 278.3 181.8 278.3 181.2 279.3 178.5 279.3 175.2 282.2 174.0 282.7 172.3 282.2 171.8 281.5 170.0 281.5 168.2 279.7 166.8 279.7 164.8 281.5 164.5 281.5 164.7 283.3 164.3 284.0 163.3 284.8 161.7 284.8 160.8 285.3 160.7 285.8 160.8 287.7 164.2 292.3 164.3 294.3 163.5 294.8 163.3 297.3 162.5 298.3 161.2 299.3 160.8 300.2 160.8 301.0 160.2 302.3 161.0 302.3 163.0 303.7 164.3 305.2 165.0 305.5 166.5 305.7 168.2 307.3 168.5 307.3 169.7 306.3 170.7 305.8 171.5 305.8 172.8 306.3 175.3 305.8 175.7 306.5 176.2 306.8 179.5 306.7 181.0 307.7 181.8 307.7 183.2 306.7 188.3 306.8 189.8 305.3 190.2 304.2 190.3 300.3 192.0 298.8 192.8 297.3 192.7 295.8 193.8 294.2Z" fill="#a59bcb" stroke="#fbf5fb" stroke-width=".55"/>
<path d="M146.8 214.2 146.7 214.3 146.8 215.0 147.3 215.5 147.8 216.7 147.7 217.7 148.7 217.8 149.0 219.5 148.5 220.7 148.2 221.0 147.2 221.2 147.2 221.5 147.7 221.8 147.8 221.7 148.7 221.8 149.0 223.3 149.5 223.8 149.8 225.0 151.0 226.2 151.2 226.7 151.0 227.0 151.3 227.8 151.2 228.3 152.5 229.8 152.5 230.8 153.5 233.0 152.8 233.8 153.0 234.3 154.0 235.3 153.7 236.3 153.7 238.7 153.8 239.0 154.2 238.8 154.8 239.0 154.7 239.8 153.7 241.0 153.7 241.8 154.5 242.2 155.0 242.7 154.7 244.0 155.7 245.3 155.5 245.7 155.8 246.0 156.0 247.3 156.7 247.7 157.3 248.7 158.3 248.3 159.2 248.5 159.7 251.5 160.8 252.8 162.5 253.2 164.0 254.0 165.3 254.0 166.2 254.5 166.8 255.2 166.8 256.0 166.3 256.7 166.3 257.2 169.2 257.0 169.7 256.5 169.5 253.5 170.0 251.8 170.7 251.3 172.5 251.2 172.8 250.8 172.8 250.3 171.3 248.7 169.7 247.8 169.3 247.2 169.3 246.0 168.3 244.3 167.2 243.3 167.7 242.2 167.5 241.3 166.2 241.2 165.2 240.7 164.5 239.8 164.8 239.2 165.3 239.2 168.5 240.0 169.2 239.5 169.5 238.7 169.3 237.7 168.7 236.7 167.8 236.3 166.5 236.3 165.3 235.3 165.0 234.8 164.7 233.3 164.7 232.2 165.0 231.5 165.0 229.8 164.7 229.2 164.8 228.0 165.8 226.7 167.5 226.2 168.0 225.5 166.3 225.8 165.5 225.3 165.2 225.5 164.7 225.3 163.3 224.0 163.0 223.3 163.2 222.2 162.5 221.2 162.5 220.5 163.2 220.2 162.8 219.0 163.0 218.8 162.8 217.8 163.0 216.8 162.3 214.8 161.8 214.3 161.0 214.2 160.3 213.7 159.7 214.2 159.0 214.0 157.5 214.2 157.0 214.5 156.5 214.5 155.5 215.3 155.0 215.3 154.0 214.3 153.2 214.2 151.8 213.3 151.0 213.7 150.5 213.5 150.7 214.0 150.0 214.3 149.2 214.2 148.0 214.5 147.5 214.2Z" fill="#eee0ee" stroke="#fbf5fb" stroke-width=".55"/>
<path d="M270.2 234.7 270.2 235.2 270.8 235.8 271.8 236.3 272.3 237.0 272.0 239.7 272.7 240.8 270.7 244.0 270.0 244.7 269.2 247.8 268.0 248.8 266.3 249.0 265.3 249.5 264.8 250.5 265.0 251.2 266.3 251.5 267.3 252.5 267.7 253.2 267.3 254.5 267.5 255.8 268.7 257.2 268.8 258.0 270.0 257.8 272.2 258.7 273.7 258.7 274.8 255.5 275.7 254.7 277.7 254.8 278.0 254.3 278.0 253.8 279.0 253.0 279.5 253.3 281.0 253.3 282.8 252.5 284.2 252.5 285.2 252.8 286.2 253.8 286.7 254.8 287.7 254.7 289.3 253.2 290.0 253.0 291.3 253.8 292.8 254.0 294.5 255.3 296.5 255.2 297.5 255.7 299.2 255.7 299.8 256.2 300.0 256.7 300.5 256.7 300.7 256.2 304.2 252.7 304.3 251.3 303.5 250.2 303.5 249.7 303.8 249.2 303.8 248.0 302.5 246.2 302.8 245.3 302.8 244.3 301.8 243.5 302.7 242.0 303.0 240.5 303.0 239.2 302.0 238.0 301.8 237.2 302.3 236.5 304.0 235.8 303.8 233.2 305.3 231.3 305.3 230.5 304.2 229.8 302.8 228.5 299.2 226.3 298.2 226.5 297.3 226.0 296.8 226.0 295.5 226.8 294.5 228.0 292.2 227.8 291.7 228.7 291.5 230.3 291.2 230.7 290.7 230.7 289.5 230.2 288.5 229.3 288.2 228.5 288.3 226.8 286.7 226.5 284.5 226.5 283.3 225.5 283.0 225.5 282.8 226.3 282.2 227.0 281.3 226.8 280.3 227.0 279.3 228.0 278.7 228.3 277.8 230.2 275.8 232.8 275.3 233.2 274.7 233.2 273.8 232.5 273.0 232.5 272.8 233.7 273.3 234.5 273.3 235.2 273.0 235.5 272.5 235.5 270.8 234.7Z" fill="#6a1e7b" stroke="#fbf5fb" stroke-width=".55"/>
<path d="M300.0 256.5 299.8 258.3 300.2 259.3 300.2 260.3 300.8 261.7 300.8 262.2 300.3 262.7 299.2 262.8 298.8 263.2 299.2 265.5 297.2 267.5 296.5 267.5 295.8 266.8 294.8 266.7 294.0 267.3 293.3 268.7 292.2 269.7 292.0 270.5 292.8 272.2 292.7 274.3 294.2 273.7 295.8 274.7 297.0 275.8 297.5 276.8 297.3 277.7 297.7 278.3 299.3 279.8 301.5 280.7 302.0 280.7 302.7 280.2 303.0 281.0 303.5 281.3 304.2 281.3 305.8 280.3 309.0 280.8 310.3 282.0 310.3 282.5 309.8 283.3 309.8 284.0 311.0 285.8 311.5 286.3 313.3 287.3 314.2 287.3 315.0 285.7 316.3 284.3 318.3 284.0 319.3 283.3 319.8 281.3 319.8 280.0 321.5 277.5 321.8 275.8 323.2 274.5 323.8 274.2 324.5 273.3 324.5 271.7 324.3 271.5 324.8 269.7 324.5 268.2 323.2 266.7 321.8 265.8 320.7 264.3 319.0 263.5 318.2 262.3 318.2 261.7 317.5 261.2 316.7 261.2 315.0 262.0 314.0 261.8 313.3 260.8 311.5 259.3 311.7 259.0 311.5 257.5 308.3 257.7 307.7 258.0 306.0 258.0 305.2 257.3 304.0 257.3 303.0 257.8 301.3 258.0 300.7 257.3 300.5 256.5Z" fill="#eee0ee" stroke="#fbf5fb" stroke-width=".55"/>
<path d="M170.7 255.5 169.5 256.0 168.8 256.8 166.3 257.0 165.8 257.7 165.7 259.5 166.3 261.2 166.8 261.7 166.0 262.3 166.0 263.7 166.5 264.5 166.5 265.5 166.3 266.0 165.2 267.2 164.7 267.3 164.0 268.2 163.7 269.8 163.3 270.3 163.5 271.5 163.0 272.5 163.0 274.3 163.3 275.0 163.3 275.8 162.7 276.8 161.5 277.2 161.3 277.7 163.0 277.8 164.2 279.8 164.2 281.0 164.5 281.7 165.2 281.7 166.8 280.0 167.8 279.8 169.7 281.7 171.5 281.7 172.0 282.3 172.7 282.7 174.3 282.8 175.5 282.3 178.8 279.5 180.8 279.7 181.7 279.3 182.0 278.7 182.3 278.5 181.8 277.3 181.8 276.7 182.5 276.0 182.8 275.2 182.5 272.5 183.3 271.5 183.8 271.3 185.0 271.8 185.7 271.8 186.0 271.3 186.2 270.3 183.8 264.0 183.5 263.7 182.2 263.8 181.5 263.2 181.3 261.8 181.8 260.8 182.0 259.3 181.8 258.7 180.7 257.0 179.5 256.7 178.7 257.3 177.3 257.8 175.0 257.2 173.2 255.8 172.2 255.5Z" fill="#eee0ee" stroke="#fbf5fb" stroke-width=".55"/>
<path d="M314.2 221.0 314.0 222.5 314.7 223.0 315.2 223.0 316.0 223.8 317.0 225.8 318.3 227.2 318.5 228.2 319.7 231.2 320.0 233.3 320.8 234.7 320.7 235.5 320.3 235.8 319.8 235.8 319.2 236.5 318.7 238.2 318.5 239.5 319.3 240.3 320.2 240.5 320.8 241.0 320.7 241.7 319.2 243.5 319.0 244.8 319.5 245.5 320.7 245.5 321.7 244.7 322.7 244.7 323.3 245.2 323.7 246.0 323.5 247.0 322.7 247.8 319.7 249.2 319.2 249.7 319.2 250.5 320.5 252.5 320.8 252.7 322.0 252.5 323.5 253.7 323.8 254.3 323.5 255.5 325.7 256.0 326.5 256.8 327.2 258.5 327.8 259.0 329.2 259.3 329.8 260.2 332.0 260.2 332.3 259.5 333.8 258.3 334.7 258.7 336.7 258.5 337.0 258.2 337.3 255.8 338.0 255.0 338.5 255.0 339.8 256.3 340.5 256.7 341.5 256.5 343.0 257.3 344.3 258.8 345.3 258.8 345.8 258.3 346.2 257.7 346.2 256.8 346.7 256.0 349.3 254.7 349.7 254.7 350.2 255.2 350.2 255.8 351.0 256.8 351.7 257.3 352.2 257.3 352.3 256.0 351.7 254.8 350.8 251.7 349.7 250.7 349.3 249.5 348.3 249.0 347.5 248.2 345.3 245.3 345.0 245.3 344.5 244.5 343.3 244.3 341.0 245.0 339.7 244.0 338.7 243.7 335.7 243.5 334.8 244.0 334.3 244.0 333.7 243.3 334.3 242.0 334.2 241.2 331.0 238.0 331.0 237.3 331.7 235.8 331.7 235.3 331.3 234.8 331.3 233.8 331.0 233.5 330.2 233.5 329.3 235.2 328.8 235.3 328.0 234.7 327.7 234.0 327.5 232.3 326.8 231.3 323.3 230.7 322.7 230.0 322.5 228.8 323.3 227.2 323.3 224.8 323.5 224.3 325.0 222.7 324.8 222.3 324.2 222.3 323.0 222.8 322.7 222.0 321.2 220.8 321.2 219.8 320.2 219.0 318.7 219.2 318.7 220.0 318.3 220.5 318.0 220.5 317.2 219.3 316.5 219.5 316.2 220.0 316.2 220.8 315.5 221.5Z" fill="#6a1e7b" stroke="#fbf5fb" stroke-width=".55"/>
<path d="M310.8 216.0 309.8 216.7 309.8 217.5 309.5 218.3 307.5 220.0 306.8 221.7 306.0 222.7 304.8 223.3 303.5 225.0 301.7 225.7 301.2 226.5 301.2 227.8 301.7 228.3 302.5 228.7 303.8 230.0 304.8 230.5 305.2 231.0 303.7 232.8 303.8 235.5 303.2 236.0 302.0 236.3 301.7 236.8 301.7 238.0 302.8 239.5 302.7 241.2 301.7 243.0 301.7 243.8 302.7 244.7 302.3 246.5 303.7 248.3 303.2 250.2 303.8 251.0 304.2 252.0 303.7 252.8 300.5 255.8 300.3 257.2 301.0 258.2 302.5 258.2 304.3 257.5 304.8 257.5 305.7 258.2 308.0 258.2 308.7 257.8 311.3 257.8 311.5 258.0 311.3 259.7 312.2 260.5 312.5 260.5 314.0 262.2 315.3 262.2 317.0 261.3 317.8 261.8 319.0 261.5 321.2 261.5 322.2 260.7 322.5 259.8 322.7 258.2 322.2 257.2 322.2 256.5 323.0 255.7 324.0 255.2 324.2 254.3 323.7 253.3 323.0 252.7 322.3 252.3 320.8 252.3 320.3 251.8 319.3 250.0 320.0 249.3 323.0 248.0 323.7 247.3 323.8 245.7 323.5 244.8 323.0 244.5 321.3 244.5 320.3 245.3 319.8 245.3 319.2 244.5 319.3 243.8 321.0 241.7 321.0 240.7 319.7 240.2 318.8 239.3 318.8 238.5 319.3 236.8 320.2 236.0 320.7 236.2 321.0 234.3 320.2 233.0 319.8 230.8 318.3 226.5 317.2 225.5 316.2 223.5 315.5 222.8 315.0 222.8 314.2 222.2 314.3 220.7 313.2 219.3 313.3 218.5 313.2 218.0 311.7 217.5 311.8 216.2Z" fill="#eee0ee" stroke="#fbf5fb" stroke-width=".55"/>
<path d="M104.0 265.7 104.0 266.0 105.2 266.5 106.7 266.2 107.5 267.0 107.7 268.3 108.5 270.0 108.3 271.8 109.5 273.3 109.3 275.0 109.8 276.5 109.5 277.7 110.5 277.8 111.3 278.5 110.7 279.7 111.8 280.2 112.5 280.8 112.5 281.3 114.3 282.8 114.2 283.2 114.3 284.0 116.3 284.5 116.7 285.7 116.5 287.0 116.7 287.5 117.5 288.2 118.2 287.5 118.3 284.8 118.7 284.5 119.2 284.5 119.7 284.8 120.2 284.7 120.5 284.3 120.3 284.0 120.5 283.7 120.8 284.0 121.7 284.2 122.8 285.8 124.0 284.7 124.8 285.0 125.0 285.3 126.0 285.0 126.7 285.2 127.0 285.7 126.7 286.8 127.3 287.8 127.2 288.2 127.3 288.5 127.5 288.2 128.5 289.0 129.5 289.3 130.7 289.3 130.8 289.0 132.3 288.5 134.2 288.8 135.3 287.8 138.5 287.7 141.2 284.7 142.0 284.2 143.2 282.8 144.5 282.2 144.5 281.7 144.2 281.3 143.2 281.0 142.5 280.3 142.0 278.0 141.5 277.7 140.5 277.5 140.2 277.2 140.7 276.2 143.3 273.8 143.5 273.0 141.8 271.5 141.3 270.2 141.2 268.7 139.7 266.7 138.3 267.0 136.7 268.5 135.7 268.2 134.5 268.2 134.2 268.7 130.2 270.0 128.8 268.3 126.2 266.8 125.7 266.3 125.5 265.5 123.3 264.7 122.5 263.8 122.2 262.8 121.3 262.2 120.7 262.2 119.2 262.8 117.8 264.3 114.0 264.2 113.3 264.5 112.5 264.5 111.2 263.3 109.7 263.0 107.5 263.5 106.3 265.5 104.7 265.2Z" fill="#a59bcb" stroke="#fbf5fb" stroke-width=".55"/>
<path d="M324.8 222.3 323.3 224.0 323.2 224.5 323.2 226.8 322.3 228.5 322.5 230.3 323.5 231.0 326.5 231.5 327.3 232.7 327.5 234.3 327.8 235.0 328.5 235.5 329.5 235.5 330.0 234.2 330.5 233.7 331.2 234.2 331.0 235.2 331.3 235.3 331.3 236.0 331.0 236.5 330.7 238.0 331.7 239.3 332.7 240.0 334.0 241.5 334.0 242.0 333.5 242.7 333.5 243.7 334.0 244.2 335.2 244.2 336.0 243.7 338.3 243.8 339.3 244.2 340.7 245.2 341.8 245.2 342.3 244.8 343.8 244.5 344.3 244.8 344.7 245.5 345.0 245.5 345.7 246.2 347.3 248.5 349.2 249.8 349.5 251.0 350.5 251.8 353.3 251.3 354.0 250.7 354.2 249.3 355.0 248.2 356.0 247.2 356.8 246.8 357.7 246.8 357.8 245.5 357.2 243.8 356.7 243.3 356.7 241.3 355.7 240.0 356.3 239.3 357.7 238.7 358.5 239.0 359.3 239.0 361.0 238.3 362.3 237.2 363.5 235.0 362.3 233.7 360.8 232.7 360.7 231.8 358.7 231.7 357.3 230.7 356.7 230.7 354.5 232.2 352.7 232.3 351.5 231.7 350.7 232.5 349.8 232.7 349.3 232.2 349.2 231.2 348.8 231.0 347.0 231.5 346.8 231.3 346.2 231.5 345.5 231.2 344.5 230.2 343.8 230.0 341.5 227.3 341.2 226.7 340.5 226.8 339.8 226.2 339.5 225.3 337.3 223.5 337.0 223.0 337.2 222.5 336.3 222.7 335.2 221.5 334.3 221.3 333.8 221.5 333.2 222.2 332.3 222.2 331.3 220.8 330.8 220.8 330.3 221.7 329.7 221.7 329.5 221.3 328.7 221.2 326.5 221.7 325.5 222.5Z" fill="#e0bfdc" stroke="#fbf5fb" stroke-width=".55"/>
<path d="M264.3 287.0 263.2 288.3 261.5 288.7 260.5 289.3 260.3 290.7 260.8 291.5 260.8 292.5 260.5 293.5 260.0 294.0 259.7 293.8 258.3 294.0 258.0 295.8 257.5 296.7 257.5 298.3 257.2 299.2 257.2 300.3 257.7 301.5 257.5 304.5 256.2 305.3 255.7 306.8 255.7 307.7 256.8 308.8 258.7 309.7 259.5 310.8 260.5 311.3 260.3 314.3 261.7 314.8 263.7 314.7 264.7 315.3 265.0 316.2 264.8 318.7 267.0 320.8 268.8 321.2 272.3 321.2 274.0 319.7 276.7 319.7 277.7 319.2 278.5 319.2 278.7 319.0 278.7 316.5 279.0 315.7 279.7 315.2 281.0 315.2 282.3 313.3 284.8 312.7 285.3 312.2 285.3 311.0 285.0 310.7 284.0 310.5 282.7 309.2 284.2 307.3 285.3 306.7 284.8 303.3 285.2 302.0 285.5 301.7 285.5 300.2 284.5 298.3 284.5 297.5 285.3 296.5 286.7 295.8 286.8 294.0 286.5 293.5 285.7 293.3 283.8 294.2 282.8 294.2 281.5 293.3 279.8 293.2 279.0 292.7 276.8 292.5 276.2 292.2 274.8 290.5 274.0 290.5 273.0 291.0 270.5 293.3 269.7 293.7 268.8 294.5 268.5 294.2 268.5 292.2 267.0 289.3 265.3 287.3Z" fill="#e0bfdc" stroke="#fbf5fb" stroke-width=".55"/>
<path d="M251.8 185.0 252.0 186.3 253.0 187.7 253.2 188.3 253.7 188.8 255.5 188.8 256.5 189.7 256.2 190.2 255.3 190.5 254.7 191.3 254.5 192.8 254.8 193.3 256.3 193.3 257.8 192.2 258.2 192.2 258.5 192.8 260.2 193.3 261.0 194.0 261.2 197.0 262.7 198.8 262.0 200.2 262.0 201.3 262.7 203.0 262.8 204.2 264.5 204.0 266.5 205.3 267.7 205.3 270.3 203.7 271.2 203.7 271.8 204.0 273.2 205.2 274.0 205.2 274.8 204.2 275.2 204.2 276.5 205.5 278.0 205.7 278.5 206.7 279.7 206.8 282.2 207.8 283.7 209.3 284.5 209.0 285.2 207.5 285.2 206.2 284.7 205.7 283.8 205.5 284.3 205.0 283.8 203.8 283.8 203.2 284.5 202.0 284.3 201.7 285.2 200.8 284.8 199.2 285.0 198.7 284.7 198.0 283.8 197.8 283.2 197.2 283.5 196.2 283.3 195.2 281.8 194.0 281.5 193.2 279.7 193.0 279.0 193.3 278.5 193.2 277.8 193.5 276.2 193.3 276.0 193.0 275.3 192.7 274.0 192.8 273.3 192.7 273.2 192.2 271.3 190.3 271.3 189.7 272.2 188.8 271.8 188.5 271.3 188.5 270.7 187.5 269.3 187.2 268.3 187.3 267.8 187.7 267.0 187.7 266.3 186.5 266.0 186.7 265.7 186.5 264.8 187.0 264.3 186.5 264.0 184.2 263.5 183.8 262.8 183.8 262.5 183.3 263.0 182.2 260.8 179.8 260.3 179.0 259.3 179.2 258.7 180.0 258.5 179.8 257.2 180.0 255.7 181.0 255.0 183.5 253.7 185.2 253.2 185.2 252.7 184.8Z" fill="#a59bcb" stroke="#fbf5fb" stroke-width=".55"/>
<path d="M237.5 171.2 238.0 172.3 239.5 173.7 239.5 174.2 238.8 175.3 239.0 176.5 239.5 177.0 241.3 177.2 244.3 178.7 245.0 179.3 244.7 179.7 244.5 180.5 243.2 181.5 243.2 182.7 244.2 184.2 244.5 184.3 248.3 184.2 249.5 183.5 250.3 183.5 251.8 185.2 252.3 185.0 252.8 185.3 254.0 185.3 254.7 184.7 255.2 183.8 255.7 181.7 256.8 180.5 256.8 180.2 255.8 180.7 254.5 180.8 254.3 180.7 253.5 180.8 252.8 180.3 252.8 179.7 253.2 179.3 252.0 178.0 252.0 176.3 249.8 174.2 250.3 173.5 250.2 172.7 249.8 172.2 249.2 172.0 248.7 171.5 248.7 170.7 248.0 169.5 248.2 168.5 247.8 167.8 246.7 169.0 245.7 169.2 245.2 168.8 244.2 169.3 242.5 169.0 242.3 169.3 240.2 170.3 238.8 170.3 238.7 170.7Z" fill="#c8bbdf" stroke="#fbf5fb" stroke-width=".55"/>
<path d="M224.0 226.5 224.2 228.2 225.8 229.5 226.5 230.3 227.2 231.8 227.5 232.0 228.8 232.0 231.3 230.5 232.0 230.3 232.7 231.2 233.0 233.3 234.0 234.2 235.0 234.2 236.0 233.5 238.2 233.7 238.8 233.3 239.0 232.0 239.3 231.8 240.2 233.0 240.0 233.7 240.2 234.5 242.2 234.2 243.7 235.3 245.7 236.0 246.8 236.0 247.2 235.8 247.2 235.0 246.7 234.0 247.2 233.5 248.7 233.0 249.8 232.2 252.7 232.5 255.3 233.7 258.2 233.7 258.0 229.5 258.7 227.5 259.7 226.8 260.3 226.0 260.3 224.7 260.0 224.0 260.3 223.3 260.3 222.0 259.5 219.8 259.5 218.8 258.8 218.2 257.8 218.2 257.2 217.8 256.0 218.0 255.2 218.8 254.8 219.8 254.3 220.3 251.5 219.8 249.8 220.0 248.2 219.3 246.5 219.2 245.0 217.3 244.5 215.5 243.5 214.8 242.5 214.8 240.3 216.8 239.8 216.8 239.0 216.0 236.7 215.2 235.7 215.2 234.7 216.0 233.3 216.7 232.5 215.5 231.0 215.5 231.0 216.2 232.2 217.0 233.0 218.0 232.8 219.5 232.3 220.0 230.5 220.2 229.0 223.0 227.3 224.5 226.8 225.3 225.0 225.8Z" fill="#eee0ee" stroke="#fbf5fb" stroke-width=".55"/>
<path d="M212.7 260.3 212.7 259.3 212.0 258.2 211.5 256.0 210.3 254.3 210.5 253.2 210.2 252.0 209.0 249.8 208.5 249.3 205.5 247.8 204.2 246.3 202.7 246.5 201.8 246.0 200.7 244.7 200.0 244.3 199.7 243.5 199.0 243.5 198.5 244.0 195.7 245.3 194.3 245.3 192.3 244.5 189.2 244.7 189.0 245.2 188.3 245.3 185.3 245.2 184.8 245.7 184.2 247.2 183.2 247.8 182.0 247.3 181.0 247.3 180.3 246.0 178.8 246.2 178.5 245.8 178.8 244.5 178.3 243.8 177.7 243.8 176.0 245.3 174.8 245.5 173.3 247.2 172.3 247.7 170.7 246.5 169.2 246.0 169.2 247.5 169.5 248.2 171.0 248.8 172.5 250.3 172.2 251.0 170.3 251.2 169.8 251.5 169.3 253.2 169.5 256.2 170.2 256.2 171.0 255.7 171.8 255.7 173.5 256.3 174.7 257.3 177.0 258.0 178.3 257.8 179.5 257.0 180.3 257.2 181.7 259.0 181.8 259.7 181.2 261.5 181.2 262.7 182.3 262.7 183.5 261.5 185.7 260.3 187.5 257.5 188.0 257.2 189.8 256.8 191.3 256.8 193.8 258.3 196.3 258.5 197.7 259.3 199.5 259.2 203.8 262.3 205.5 263.2 209.8 264.5 211.2 264.5 211.8 263.8 211.3 262.7 211.3 262.0 211.7 261.3Z" fill="#eee0ee" stroke="#fbf5fb" stroke-width=".55"/>
<path d="M225.5 175.0 225.0 176.3 226.0 177.2 226.0 179.0 226.5 179.8 225.8 180.7 226.0 181.7 225.8 182.8 226.3 183.7 226.2 184.7 226.7 185.5 226.5 186.2 226.7 187.5 227.5 188.2 227.5 189.0 227.0 190.3 227.5 192.7 228.5 192.7 229.3 193.0 230.3 194.0 230.7 196.0 231.0 196.5 231.8 196.5 233.2 195.5 235.0 195.8 235.5 195.5 236.5 193.8 237.3 193.7 237.7 194.0 238.8 196.7 238.8 197.2 238.2 198.0 237.2 198.0 236.7 198.3 236.8 199.0 237.8 199.2 237.8 200.7 237.5 201.7 237.7 202.8 239.5 203.0 241.7 201.0 243.0 200.3 244.7 200.3 246.0 201.0 249.2 200.8 251.0 202.2 253.2 202.8 254.0 203.7 254.2 204.5 255.0 205.8 257.2 208.0 258.5 207.8 260.0 206.5 260.8 206.5 262.8 204.8 263.0 203.3 262.2 201.0 262.2 200.5 262.8 199.5 262.8 198.5 261.3 196.7 261.5 194.3 261.2 193.7 260.5 193.2 258.8 192.7 258.3 191.8 257.5 192.0 256.0 193.2 255.2 193.2 254.7 192.5 254.8 191.7 255.7 190.7 256.7 190.2 256.7 189.3 255.8 188.7 254.0 188.7 253.3 188.0 253.2 187.3 252.3 186.3 252.0 184.8 250.7 183.3 249.8 183.2 248.0 184.0 246.0 184.0 245.8 184.2 244.5 184.0 243.8 183.3 243.3 182.3 243.3 181.8 244.7 180.8 244.8 180.0 245.2 179.7 245.2 179.0 244.7 178.5 241.7 177.0 239.8 176.8 239.2 176.2 239.0 175.7 239.7 174.5 239.7 173.3 238.2 172.0 237.7 171.0 235.8 172.0 234.3 171.7 234.0 171.8 231.5 174.3 230.8 174.2 230.0 173.3 229.0 173.3 227.8 173.7 227.7 174.5 227.2 175.2 226.5 174.7Z" fill="#e0bfdc" stroke="#fbf5fb" stroke-width=".55"/>
<path d="M248.7 336.7 248.0 338.5 248.3 339.3 249.3 340.7 249.0 342.3 249.2 342.8 250.2 343.8 250.3 345.7 249.3 346.8 248.2 347.2 247.5 347.7 247.7 349.3 247.5 349.8 247.0 350.3 246.0 350.7 245.2 351.5 244.8 352.7 245.5 354.3 245.7 356.2 247.0 358.0 247.0 359.2 247.2 359.5 248.2 359.7 249.2 360.3 250.0 362.5 250.2 363.8 250.5 364.3 251.7 364.5 253.0 364.2 253.3 363.7 253.5 362.7 254.0 362.2 257.3 363.7 259.8 364.0 259.8 363.0 259.3 362.3 259.3 361.8 260.8 360.3 261.5 360.0 262.5 360.2 263.2 361.0 262.8 362.0 261.7 363.5 261.8 364.8 264.0 364.8 265.7 363.8 266.3 363.8 267.0 363.5 267.3 362.5 267.8 362.0 269.3 362.0 272.3 362.5 273.0 363.2 273.5 364.7 275.7 366.2 277.5 365.8 279.7 364.7 280.7 363.7 281.8 363.7 282.8 364.2 283.5 364.2 283.5 363.5 283.2 363.0 281.7 362.8 280.5 361.7 281.2 360.7 282.0 360.3 282.5 359.8 282.5 357.8 281.3 355.3 280.5 354.7 279.3 354.7 277.0 356.2 276.0 355.5 276.5 354.8 276.3 352.5 276.7 351.8 277.7 351.2 278.8 351.2 279.5 350.8 280.2 350.0 280.2 349.2 278.7 347.8 278.8 345.0 277.8 343.0 276.8 342.5 275.3 342.5 274.0 343.2 273.2 342.3 271.8 342.5 270.3 342.0 268.7 340.7 267.3 340.8 266.8 342.2 265.8 343.0 264.5 343.0 264.0 342.7 262.0 342.3 261.5 342.0 260.7 340.5 260.3 338.3 259.5 336.5 258.7 335.7 258.3 335.7 257.0 336.8 255.2 336.8 253.5 336.2 252.5 335.3 251.5 335.2Z" fill="#6a1e7b" stroke="#fbf5fb" stroke-width=".55"/>
<path d="M139.8 430.7 139.8 430.8 140.3 430.5 140.8 431.3 142.3 431.8 143.2 432.7 146.0 434.2 147.8 434.0 148.7 434.8 148.8 435.8 149.7 436.3 149.7 437.0 149.3 437.7 148.2 439.0 148.0 439.5 148.3 440.3 147.8 441.0 147.8 441.7 148.7 442.8 149.0 442.5 149.7 442.5 150.3 443.0 152.3 443.2 153.3 443.8 153.5 443.7 154.0 443.8 154.8 443.2 155.7 443.3 157.3 444.3 160.2 444.7 161.7 446.7 162.8 447.3 163.3 448.2 164.3 448.3 166.0 450.5 167.3 450.8 168.0 451.5 168.5 452.5 169.3 452.3 172.7 450.3 174.7 450.5 175.2 451.2 176.0 451.0 177.3 451.2 177.7 451.5 177.3 452.0 177.3 452.5 177.8 452.3 178.7 451.5 179.5 450.0 179.5 448.7 180.7 447.2 181.2 445.7 181.0 444.0 181.3 443.7 181.0 441.8 181.8 440.7 182.2 439.3 183.3 438.0 183.8 438.3 185.0 438.3 185.2 438.0 185.2 437.3 184.8 436.8 184.2 436.5 184.2 435.8 184.5 435.2 184.7 432.8 185.2 432.0 185.8 431.5 185.3 429.3 184.0 428.2 183.3 426.0 183.0 425.7 182.3 425.5 180.8 426.3 180.2 426.3 179.3 425.7 178.8 424.3 178.0 423.5 177.0 423.0 175.0 422.7 173.8 422.8 172.7 424.7 170.8 424.5 169.8 424.8 168.3 426.0 166.7 427.8 166.2 427.8 165.5 427.3 164.3 427.3 163.3 428.2 162.0 428.7 161.2 427.8 161.2 426.7 161.5 426.2 161.3 424.7 160.7 424.2 159.8 424.2 158.8 425.0 158.0 424.8 157.3 424.3 155.8 421.7 154.8 421.2 153.3 421.2 153.0 422.3 152.2 423.0 151.2 423.0 150.5 422.7 149.2 421.2 149.3 422.7 147.8 423.7 147.7 424.3 147.0 425.2 147.2 425.5 147.0 426.0 146.2 426.5 145.2 426.5 143.3 428.7 142.7 428.8 142.2 429.3 142.2 430.0 141.8 430.5 140.5 430.2Z" fill="#6a1e7b" stroke="#fbf5fb" stroke-width=".55"/>
<path d="M200.5 430.2 200.0 430.0 196.3 430.2 194.8 430.8 193.5 430.8 191.7 432.0 190.3 432.0 189.0 430.8 188.3 430.8 186.8 431.7 186.2 431.3 185.2 431.5 184.3 433.0 184.3 434.8 183.8 436.2 183.8 436.7 184.5 437.0 185.0 437.7 184.7 438.2 183.0 437.8 182.2 438.7 181.7 440.3 180.7 442.0 180.7 442.5 181.0 443.0 180.7 444.2 180.8 444.8 180.7 446.5 179.3 448.3 179.3 449.7 179.0 450.5 177.3 452.2 177.3 452.7 179.5 452.8 180.3 452.5 180.7 452.8 180.3 454.5 181.2 455.0 182.5 455.3 183.2 456.0 184.7 455.8 185.2 456.3 186.8 456.7 187.8 455.5 188.3 456.5 189.8 456.5 191.5 454.8 192.5 452.5 194.3 451.0 195.2 450.0 195.2 448.2 195.8 447.5 196.2 446.2 196.2 445.0 197.2 443.0 197.0 441.2 197.2 441.0 197.5 441.3 197.5 441.8 197.8 442.0 198.8 442.0 199.8 440.8 200.7 440.3 200.7 439.8 199.7 439.0 199.3 438.3 199.2 436.3 200.2 435.3 200.8 434.2 202.5 433.3 202.5 432.7 201.0 431.3Z" fill="#a59bcb" stroke="#fbf5fb" stroke-width=".55"/>
<path d="M226.2 459.2 226.2 460.2 226.5 460.2 227.3 461.2 228.0 461.2 228.3 461.5 228.3 462.2 229.0 462.5 229.7 463.3 230.7 463.5 231.7 464.5 232.3 464.5 233.0 465.2 233.0 466.0 233.7 466.2 235.3 467.7 237.2 467.3 237.8 466.8 240.2 467.0 241.0 465.8 242.2 465.7 242.3 466.0 243.5 466.0 243.8 466.3 244.7 466.5 245.2 466.0 245.8 466.3 246.0 467.2 246.3 467.0 246.5 467.3 246.8 467.0 247.0 467.2 247.3 467.0 248.2 467.5 249.3 467.7 250.0 468.2 250.5 468.0 251.8 468.5 252.7 467.3 255.3 466.3 255.7 465.5 255.8 465.7 257.2 465.2 257.7 464.5 257.7 464.0 258.2 463.5 258.5 463.5 259.0 464.0 259.8 464.0 261.0 462.8 261.8 464.0 262.5 463.8 263.8 464.7 263.3 463.3 263.5 462.0 262.8 460.7 262.7 459.2 262.2 458.5 261.2 458.3 260.5 457.7 261.2 456.2 261.0 455.8 260.3 455.5 260.0 454.2 260.3 453.5 260.2 453.3 260.3 452.7 259.8 452.5 257.7 452.7 256.3 453.5 254.3 453.3 253.0 453.8 251.7 454.0 249.7 454.8 247.7 453.0 244.7 452.8 243.7 453.5 241.5 453.7 240.8 454.2 240.8 454.7 240.2 455.0 238.3 451.7 237.7 451.3 236.8 451.5 236.5 451.8 236.5 452.8 236.0 453.2 235.7 452.8 235.8 451.7 234.3 451.5 233.2 452.0 232.7 454.3 232.0 455.2 231.0 455.8 229.7 456.2 229.0 457.5 228.3 458.2 227.2 458.5Z" fill="#a59bcb" stroke="#fbf5fb" stroke-width=".55"/>
<path d="M374.3 235.3 373.2 235.8 372.2 235.0 371.7 235.0 371.0 234.0 369.3 234.5 368.8 234.2 367.7 234.7 367.0 234.7 366.0 234.2 364.3 235.5 363.3 234.7 362.2 236.8 360.7 238.2 359.0 238.8 357.3 238.5 356.0 239.2 355.3 239.8 355.3 240.3 356.5 241.7 356.5 243.7 357.5 245.2 357.7 246.2 357.3 246.7 356.5 246.7 355.7 247.0 354.8 247.8 354.0 249.0 353.8 250.3 353.0 251.2 351.5 251.3 350.7 251.7 351.2 254.2 352.2 256.3 352.0 258.2 352.7 260.0 354.2 260.3 354.8 261.2 354.2 262.2 354.3 264.0 356.2 263.8 357.0 264.2 358.0 264.2 360.7 263.5 362.0 264.2 362.8 264.2 363.5 263.7 364.0 262.8 364.5 262.8 365.5 263.5 365.5 262.8 365.8 262.7 366.2 262.0 366.3 259.8 367.2 259.2 367.2 258.7 367.5 258.3 367.5 257.3 367.2 256.7 367.3 256.5 367.2 255.0 368.0 254.2 368.2 254.3 368.5 254.2 368.5 253.2 367.8 252.5 367.7 252.0 369.0 250.7 368.8 250.2 369.0 249.2 369.5 248.3 369.5 247.3 370.7 246.3 370.5 245.7 371.0 245.3 371.2 244.8 372.2 244.3 372.5 243.8 372.3 243.2 372.5 242.8 372.2 242.0 372.7 241.3 373.3 241.2 373.0 240.7 373.0 240.2 374.0 239.5 374.2 238.7 374.8 238.2 375.2 237.5 375.3 236.2Z" fill="#6a1e7b" stroke="#fbf5fb" stroke-width=".55"/>
<path d="M364.8 262.7 363.7 262.7 363.3 263.3 362.5 264.0 361.0 263.3 359.8 263.3 357.7 264.0 356.5 263.7 354.8 263.7 353.3 264.3 351.0 267.3 350.8 269.2 351.2 270.0 351.7 270.5 351.8 272.0 351.2 273.7 350.3 274.5 348.2 275.3 347.7 276.0 347.8 276.7 350.0 276.7 351.0 277.0 352.0 277.8 352.3 278.5 353.3 278.7 353.7 279.0 353.7 280.8 353.2 282.7 353.2 283.7 354.0 285.3 353.7 286.2 353.8 288.0 354.3 287.8 355.2 288.5 356.0 288.3 357.0 289.3 358.2 289.7 358.8 290.2 360.5 287.2 361.3 286.3 361.8 286.3 362.3 286.7 362.8 285.8 363.8 285.0 363.3 283.3 363.3 282.2 364.0 280.5 364.3 278.3 363.8 277.3 364.0 276.2 363.5 275.0 364.2 274.0 363.7 271.7 364.7 271.0 365.2 270.0 364.7 268.5 364.8 267.3 364.7 267.0 364.2 266.8 364.3 266.5 364.8 266.5 365.2 266.0 364.8 265.3 364.8 264.7 365.5 264.0 365.5 263.2Z" fill="#e0bfdc" stroke="#fbf5fb" stroke-width=".55"/>
<path d="M300.7 331.0 300.0 331.3 297.2 331.7 296.2 332.2 295.0 333.7 292.3 333.8 292.2 334.2 292.3 336.7 292.0 337.3 290.3 338.7 289.0 339.2 289.0 339.7 290.3 340.8 290.7 341.7 290.7 342.5 292.5 344.0 291.5 344.8 290.2 346.7 290.2 347.3 291.2 348.8 291.2 350.5 291.8 351.5 291.5 352.5 290.7 353.2 290.5 354.0 291.5 354.8 292.0 355.8 292.2 357.5 292.5 358.2 293.5 359.0 294.3 359.3 296.0 359.2 300.2 363.2 300.7 364.8 301.0 365.2 302.8 365.3 303.0 364.8 302.8 363.3 303.3 361.3 304.2 360.0 306.2 358.3 306.3 356.7 307.0 356.0 308.7 355.5 309.5 354.0 310.8 352.5 312.0 352.3 312.3 352.0 311.8 350.7 312.2 349.0 311.0 347.8 310.0 347.5 307.7 344.8 307.0 344.5 305.8 344.5 305.3 344.8 305.0 344.7 305.8 343.7 306.0 342.5 305.7 341.7 303.3 339.5 303.2 339.0 303.2 338.0 302.7 337.2 302.2 335.2 302.2 334.3 302.8 333.0 302.8 332.2 301.8 331.0Z" fill="#6a1e7b" stroke="#fbf5fb" stroke-width=".55"/>
<path d="M351.2 276.8 350.3 276.5 348.2 276.5 348.0 276.3 348.2 275.5 347.5 275.5 346.5 276.2 345.2 275.7 343.3 275.5 342.8 275.0 341.8 273.0 341.7 271.3 341.2 270.8 339.8 271.0 338.0 273.2 336.3 273.2 335.7 273.5 333.0 276.3 332.3 276.2 332.0 276.5 332.0 277.0 331.3 277.7 330.8 277.5 330.5 277.0 330.5 276.3 331.0 275.7 331.0 275.0 330.0 274.3 327.8 274.2 327.0 273.8 325.8 273.8 325.2 274.2 325.0 274.0 323.3 274.0 321.7 275.5 321.3 277.2 319.7 279.7 319.7 281.0 319.2 283.0 318.5 283.7 316.0 284.2 314.8 285.3 313.8 287.2 313.8 288.8 314.7 290.0 315.0 292.0 315.5 292.5 316.7 293.0 317.3 293.7 317.7 294.5 317.5 296.5 318.5 297.3 319.2 297.7 320.3 297.7 321.2 296.3 323.5 296.7 324.8 298.2 325.8 298.2 326.7 297.3 326.7 296.5 326.0 294.3 326.8 293.5 328.7 293.2 329.7 294.2 330.8 294.0 333.0 294.2 334.2 293.3 335.5 293.2 336.2 292.5 336.5 291.5 337.8 290.2 338.8 288.0 340.0 286.7 342.3 288.7 343.3 288.7 344.2 288.2 345.2 288.2 345.5 287.8 345.5 286.8 344.3 285.0 344.2 284.3 344.3 283.7 345.7 282.8 347.3 283.0 348.5 280.7 349.5 279.7 351.0 279.2 351.3 278.2Z" fill="#a59bcb" stroke="#fbf5fb" stroke-width=".55"/>
<path d="M316.0 310.7 314.3 310.2 312.2 308.7 311.8 308.2 311.8 307.5 311.2 306.3 310.3 305.8 309.5 305.7 308.5 306.0 308.0 306.5 307.3 308.5 306.3 309.3 305.7 309.3 304.5 308.8 302.5 308.7 301.0 308.0 299.2 308.0 298.0 307.7 297.0 307.0 295.5 307.0 294.8 307.5 294.0 307.5 293.3 307.2 290.5 307.2 289.8 307.5 289.2 307.5 287.7 306.2 286.3 306.5 285.2 306.3 284.7 306.8 283.8 307.2 282.3 309.0 282.3 309.5 283.7 310.7 284.7 310.8 285.2 311.3 285.2 311.8 284.5 312.5 282.0 313.2 280.7 315.0 279.0 315.2 278.5 316.2 278.3 317.5 278.5 319.7 277.5 321.0 277.5 323.0 278.0 324.7 276.7 327.3 276.7 328.5 278.0 331.2 278.2 333.3 278.7 333.8 279.5 334.0 281.0 333.7 282.0 333.8 282.7 334.5 283.7 334.8 284.5 336.0 285.7 336.5 287.7 338.7 288.7 339.3 289.5 339.3 290.7 338.8 292.2 337.7 292.5 337.0 292.3 334.5 293.0 333.8 293.8 334.0 295.3 333.8 296.5 332.3 298.0 331.7 300.8 331.3 302.3 330.2 304.0 330.0 306.0 330.2 306.5 329.8 307.3 328.5 308.7 327.3 309.2 327.3 309.7 327.8 311.3 328.3 312.5 328.2 312.8 327.5 314.0 326.3 313.8 325.8 314.0 325.2 315.0 323.8 315.3 323.0 315.3 320.8 314.2 319.7 313.3 317.5 313.3 316.3 314.0 314.2 315.0 312.7 316.0 311.7ZM302.8 326.7 303.3 326.8 304.2 328.0 304.0 329.5 303.2 329.5 302.3 328.7Z" fill="#a59bcb" stroke="#fbf5fb" stroke-width=".55"/>
<path d="M181.2 262.7 181.3 263.5 181.8 264.0 183.2 263.8 183.7 264.3 185.8 270.3 185.8 271.0 185.3 271.7 184.2 271.2 183.5 271.2 182.5 271.8 182.3 273.2 182.7 274.8 182.3 275.7 181.5 276.7 181.7 277.7 182.8 279.2 182.8 279.7 183.3 280.5 184.5 281.5 185.0 281.5 186.5 282.2 187.3 283.0 187.7 284.0 188.8 284.7 191.0 287.8 191.3 288.7 192.5 289.7 193.5 289.7 194.2 290.0 197.3 289.7 198.8 288.2 199.3 288.2 201.2 289.5 201.8 289.5 202.0 289.2 202.5 289.0 202.3 287.5 203.3 286.3 204.7 285.8 207.5 287.0 208.3 287.0 209.3 285.2 209.8 284.7 210.8 284.8 212.3 283.7 212.7 283.0 212.7 282.0 212.2 280.5 209.8 278.2 210.5 276.8 211.2 274.3 210.7 273.2 209.3 272.3 208.8 270.8 209.2 269.7 210.2 268.7 210.5 268.0 210.5 266.3 211.0 265.3 211.2 264.3 210.2 264.3 205.8 263.0 204.2 262.2 199.8 259.0 198.0 259.2 196.7 258.3 196.0 258.2 194.7 258.3 193.2 257.7 192.2 256.8 190.2 256.5 189.3 256.8 187.7 257.0 187.2 257.3 186.0 259.5 185.3 260.2 183.2 261.3 182.0 262.5Z" fill="#eee0ee" stroke="#fbf5fb" stroke-width=".55"/>
<path d="M329.5 344.7 329.0 346.0 327.8 346.5 326.5 348.3 326.7 352.8 328.3 356.2 328.5 357.0 328.2 357.8 327.7 358.3 327.5 359.5 326.8 360.3 326.8 361.0 327.5 361.2 328.0 360.7 328.7 360.5 330.2 361.7 330.5 363.2 331.2 363.8 333.0 364.0 334.8 365.0 337.3 365.0 338.0 365.5 337.8 368.7 339.3 371.2 339.2 371.7 338.3 372.5 338.3 373.2 339.3 374.5 340.5 374.5 342.0 373.5 343.8 375.2 344.7 375.0 345.3 374.5 346.3 373.2 346.7 372.3 347.5 371.5 348.2 371.5 348.7 372.0 349.0 373.2 349.3 373.5 351.2 373.8 352.0 373.0 351.8 372.0 352.0 371.5 352.7 370.8 352.5 370.0 354.0 369.5 354.5 369.7 355.8 368.7 356.3 368.7 356.7 367.8 357.7 367.0 357.7 366.7 358.5 365.8 358.3 365.3 358.5 364.8 359.5 363.5 359.3 362.2 359.8 361.0 359.0 360.7 358.7 360.2 359.3 359.3 359.3 358.8 359.0 358.0 358.2 357.2 358.5 356.3 358.5 355.5 356.5 354.7 356.3 354.3 356.5 353.5 355.7 352.0 355.5 350.7 353.5 349.7 352.7 348.8 352.3 348.0 351.8 348.5 349.3 348.5 348.8 348.8 347.7 348.8 347.0 348.5 345.8 348.8 343.3 348.8 341.8 348.2 338.8 348.3 338.2 348.0 337.0 348.0 334.5 346.7 334.3 344.7 334.0 344.2 333.3 343.8 330.5 343.8Z" fill="#a59bcb" stroke="#fbf5fb" stroke-width=".55"/>
<path d="M348.0 325.7 347.7 325.8 347.5 326.5 347.0 326.8 346.8 327.5 346.2 326.5 345.5 326.7 344.8 327.5 344.0 327.5 343.0 326.8 342.3 327.0 341.5 326.8 340.0 327.5 340.2 327.7 339.2 328.7 339.2 329.5 338.5 330.0 337.7 330.2 337.5 331.5 337.0 331.8 336.3 331.8 334.8 333.7 333.5 332.8 332.3 332.8 331.8 333.2 330.7 333.0 330.7 333.7 330.0 334.3 328.7 335.0 328.5 335.3 328.7 336.5 328.2 337.5 328.2 338.3 328.5 339.0 330.0 340.0 330.5 340.8 330.8 342.2 330.7 344.0 333.0 344.0 333.7 344.3 334.2 345.0 334.2 346.5 334.5 347.2 336.7 348.2 337.8 348.2 338.5 348.5 341.5 348.3 343.0 349.0 346.2 349.0 346.3 348.8 349.2 349.0 349.7 348.7 352.2 348.7 352.5 348.3 351.7 347.3 351.7 346.7 353.5 344.3 354.0 341.8 355.0 341.5 355.0 339.8 355.3 339.2 354.0 338.7 353.7 338.3 353.5 337.5 352.3 336.5 352.2 335.2 351.7 334.5 351.7 334.0 350.5 332.7 350.5 332.0 350.0 331.0 349.5 328.8 349.0 328.3 349.2 328.2 349.0 327.8 349.2 327.7 349.3 327.8Z" fill="#a59bcb" stroke="#fbf5fb" stroke-width=".55"/>
<path d="M233.2 217.7 232.5 216.8 231.2 215.8 229.8 214.2 229.7 213.7 230.0 213.0 230.0 211.5 230.3 210.8 230.2 209.7 229.5 209.2 228.5 209.0 227.3 209.2 226.8 208.8 226.5 207.2 226.0 206.0 224.8 205.0 224.2 204.0 223.8 201.5 223.3 201.2 222.2 201.0 221.5 201.3 221.5 202.5 221.0 203.0 220.2 203.3 218.8 204.8 218.2 204.8 217.8 205.2 217.5 206.7 217.0 207.2 216.3 206.8 216.2 205.5 215.7 205.3 214.5 206.8 213.8 207.0 213.3 208.3 212.2 208.0 212.0 208.2 210.7 208.0 209.8 209.2 208.7 209.2 207.0 210.5 206.0 210.5 205.0 210.0 204.2 210.0 203.5 211.3 202.3 212.3 201.3 212.5 200.8 212.8 199.3 212.7 198.7 213.8 197.8 214.7 197.7 214.5 197.0 214.7 196.0 215.5 195.5 215.5 195.3 215.0 195.0 214.8 195.2 215.3 195.0 215.5 194.8 215.3 195.0 215.8 194.7 216.2 193.8 218.3 194.0 219.8 193.5 220.5 192.8 220.7 192.0 221.5 192.3 221.3 192.5 221.5 193.0 221.0 193.5 221.0 194.2 221.3 195.0 222.3 195.5 222.5 196.3 223.7 197.5 223.8 197.8 223.3 199.2 223.5 199.7 224.2 199.7 224.7 200.3 225.0 202.0 225.0 202.5 224.7 206.2 224.7 207.5 223.8 207.7 224.0 207.5 224.8 207.8 225.8 209.0 226.7 210.2 226.5 210.8 226.7 212.0 229.0 212.8 229.2 214.0 228.8 215.3 228.8 216.3 229.5 217.0 229.5 217.7 229.2 218.0 228.7 218.0 226.0 218.3 225.7 221.3 226.0 221.7 226.3 221.8 227.2 221.5 227.5 221.5 228.0 222.0 228.0 222.8 227.2 224.0 226.8 225.3 226.0 227.2 225.5 227.5 224.8 229.2 223.3 230.3 220.8 230.8 220.3 232.7 220.2 233.0 219.8Z" fill="#a59bcb" stroke="#fbf5fb" stroke-width=".55"/>
<path d="M250.7 232.0 250.5 235.2 249.3 238.2 247.8 241.2 245.2 243.3 245.0 245.0 245.2 246.3 246.2 246.8 247.2 246.8 248.2 246.3 249.0 246.8 249.3 247.5 249.3 248.7 249.7 249.2 250.0 250.7 250.5 251.7 251.7 253.0 251.7 253.3 250.7 254.0 249.8 254.2 249.2 254.8 247.2 258.8 246.5 259.3 246.3 260.8 247.2 261.5 246.5 262.3 246.3 263.8 246.0 264.5 245.3 265.2 244.2 265.7 244.2 266.5 246.3 268.5 247.7 269.0 249.0 270.8 249.8 271.0 250.8 270.7 252.3 270.7 253.2 271.0 256.8 271.5 257.2 271.2 257.2 270.2 256.2 268.7 256.5 267.7 256.3 266.0 256.7 265.0 258.3 263.8 258.5 261.5 259.3 260.7 260.0 260.7 261.3 261.3 265.2 261.2 268.7 259.5 269.0 258.5 269.0 257.2 267.7 255.5 267.5 254.8 267.8 254.0 267.8 252.8 266.7 251.3 265.3 251.0 265.2 250.3 265.7 249.7 266.7 249.2 268.3 249.0 269.3 248.2 269.7 247.3 269.7 246.3 270.3 244.5 267.8 242.0 266.2 242.2 265.3 241.3 265.0 240.3 262.7 239.3 260.2 236.5 260.0 235.0 259.7 234.7 258.8 234.5 258.2 233.5 255.7 233.5 253.0 232.3Z" fill="#eee0ee" stroke="#fbf5fb" stroke-width=".55"/>
<path d="M224.2 236.0 223.8 236.3 223.8 237.2 224.2 237.8 224.0 238.5 222.5 239.8 222.2 241.5 222.2 245.0 223.2 246.8 223.7 248.5 224.3 248.8 226.3 251.3 227.2 251.8 229.2 254.0 229.3 255.2 230.0 256.2 230.0 257.7 230.8 258.8 231.8 258.7 233.5 259.3 235.3 259.3 236.3 258.3 236.3 257.3 236.0 256.2 236.5 254.7 236.5 253.0 237.3 251.2 237.3 249.3 236.7 247.8 239.7 246.8 241.3 246.7 242.0 246.3 242.3 245.7 242.2 243.8 241.8 243.2 241.5 243.0 239.8 243.0 239.7 243.2 238.8 242.8 238.5 242.3 238.3 241.0 237.7 239.7 237.2 239.2 235.2 239.0 233.5 240.5 231.8 241.0 231.3 240.0 231.3 239.3 230.7 237.3 230.3 237.0 228.0 236.2 227.2 235.3 226.0 235.8Z" fill="#a59bcb" stroke="#fbf5fb" stroke-width=".55"/>
<path d="M169.8 305.8 168.3 307.0 168.3 307.7 169.0 308.5 169.5 309.8 169.3 314.7 171.5 318.5 172.0 320.2 172.0 321.3 171.2 322.7 171.2 323.5 172.7 325.2 174.3 325.5 175.0 325.8 175.5 326.5 175.5 328.0 174.3 329.2 174.0 330.5 173.2 331.2 173.0 332.5 172.5 333.0 171.3 333.3 171.5 333.8 171.3 336.5 171.7 336.8 173.3 336.7 174.2 336.8 175.2 338.0 175.3 338.5 176.2 339.2 178.7 339.0 180.3 339.7 181.0 339.7 181.8 341.0 181.8 342.5 182.0 342.7 183.7 342.5 185.7 340.5 187.8 340.3 189.5 339.3 189.5 338.7 190.5 337.5 190.5 335.2 191.3 332.8 191.3 332.3 190.5 331.2 191.7 330.3 192.0 328.7 193.0 327.8 192.5 326.0 190.3 324.2 190.8 323.7 190.8 322.2 190.3 321.0 190.2 319.8 189.7 319.7 189.0 320.0 188.0 318.8 188.2 318.0 189.0 317.0 188.8 315.0 188.3 314.0 188.3 313.5 189.0 312.0 189.7 311.2 189.5 310.2 188.7 309.5 188.3 308.8 188.3 306.7 182.8 306.5 181.3 307.5 179.8 306.5 176.5 306.7 175.8 306.2 175.7 305.5 174.3 305.7 173.2 306.2 171.8 305.7Z" fill="#eee0ee" stroke="#fbf5fb" stroke-width=".55"/>
<path d="M221.5 201.5 223.0 201.3 223.7 201.8 224.0 204.3 224.7 205.3 225.8 206.3 226.3 207.5 226.7 209.2 229.2 209.3 230.0 210.0 230.2 210.5 229.8 211.2 229.8 212.7 229.5 213.3 229.7 214.5 230.8 215.8 232.2 215.7 232.8 216.3 233.0 216.8 233.7 216.8 235.0 216.2 235.7 215.5 236.3 215.3 238.7 216.2 239.5 217.0 240.7 217.0 242.3 215.3 243.2 215.0 243.7 215.2 244.3 215.8 244.8 217.7 245.7 218.8 246.5 219.5 247.8 219.5 249.5 220.2 251.2 220.0 254.7 220.5 255.3 219.2 256.3 218.2 256.8 218.0 257.5 218.3 259.3 218.5 259.2 217.2 260.7 215.5 260.7 212.8 259.3 210.2 260.5 209.3 260.7 206.2 259.7 206.3 258.2 207.7 257.5 207.8 255.2 205.5 254.3 204.2 254.2 203.3 253.5 202.7 251.7 202.2 249.5 200.7 246.3 200.8 245.0 200.2 243.3 200.0 241.3 200.8 239.2 202.8 238.0 202.7 237.7 202.2 238.2 200.0 238.0 198.7 237.2 198.8 237.0 198.5 237.5 198.2 238.5 198.2 239.2 197.2 239.2 196.7 237.7 193.5 236.2 193.7 235.0 195.5 232.8 195.3 231.3 196.3 230.8 195.7 230.5 193.7 229.3 192.7 227.3 192.3 227.5 192.7 227.0 193.7 227.0 194.2 227.3 194.7 227.3 195.7 227.2 196.2 226.5 196.3 226.3 196.7 226.8 197.7 225.8 198.7 225.5 199.5 224.3 199.8 223.0 201.0 221.7 200.8Z" fill="#a59bcb" stroke="#fbf5fb" stroke-width=".55"/>
<path d="M226.0 412.0 226.0 412.3 226.7 413.2 227.2 414.8 227.2 415.7 225.8 417.2 225.0 417.7 225.0 418.3 225.8 418.8 228.2 418.8 229.2 419.7 229.7 421.0 230.3 421.5 230.2 422.8 229.3 423.8 229.3 424.8 229.7 425.5 230.7 425.5 231.8 424.5 232.2 424.5 232.8 425.2 233.0 425.8 232.8 429.0 233.3 430.7 234.2 431.3 234.2 433.2 234.5 433.7 235.2 434.0 236.2 434.0 237.2 433.0 238.3 433.2 239.8 433.0 240.7 433.3 241.8 434.3 242.7 434.3 242.5 433.2 243.5 432.3 245.3 432.5 246.3 432.8 247.7 432.8 249.0 433.7 250.2 433.3 250.2 432.8 249.5 431.5 249.8 429.2 249.8 427.0 250.5 426.3 251.8 426.3 252.8 425.0 253.2 423.0 254.8 421.8 255.0 420.0 254.3 419.3 254.2 418.7 252.8 417.5 252.2 417.3 251.7 416.5 248.2 413.2 247.3 411.7 246.0 411.7 243.2 409.7 242.2 409.3 239.3 409.5 238.0 409.0 235.5 408.8 235.0 409.2 233.2 409.3 231.5 410.0 229.2 410.2 227.2 411.5Z" fill="#a59bcb" stroke="#fbf5fb" stroke-width=".55"/>
<path d="M205.8 410.7 207.0 411.2 207.7 412.3 208.8 413.0 209.8 414.0 210.2 414.7 210.2 416.3 210.8 417.2 211.3 417.2 211.8 416.5 213.2 415.7 214.2 416.0 216.3 417.5 217.7 417.5 218.3 417.2 218.8 416.5 220.5 416.0 221.2 416.3 222.7 417.8 223.3 418.2 224.8 418.2 226.2 417.3 227.3 416.0 227.3 414.5 226.8 412.8 226.3 412.2 227.5 411.7 229.5 410.3 231.8 410.2 233.5 409.5 234.5 409.5 235.7 409.2 235.3 407.2 235.8 406.0 236.3 403.2 235.2 402.0 234.0 402.0 233.0 401.2 231.8 400.7 230.3 400.8 230.0 401.5 229.3 402.0 228.8 400.5 227.5 400.0 225.3 400.2 224.8 400.5 224.5 401.3 223.8 402.0 221.8 402.3 220.8 403.2 220.3 403.2 216.0 401.0 215.0 400.0 214.5 398.8 214.2 398.8 211.3 401.7 209.2 402.8 208.5 404.0 207.5 405.0 207.3 406.2 207.8 407.3 207.5 408.0 206.2 409.3 205.8 410.0Z" fill="#eee0ee" stroke="#fbf5fb" stroke-width=".55"/>
<path d="M358.0 421.0 357.5 420.7 356.7 420.7 355.8 420.3 354.2 418.2 352.3 417.7 350.3 416.3 349.5 416.3 348.5 416.8 347.3 416.8 346.8 416.5 345.3 416.2 345.0 417.0 343.7 418.2 342.5 418.8 341.5 420.3 340.7 421.0 338.8 419.8 337.8 419.7 335.3 419.8 334.0 418.8 333.2 418.7 330.7 418.8 329.7 419.2 329.2 420.2 329.2 422.0 328.2 424.0 328.2 425.0 328.5 426.0 330.0 427.2 330.8 428.2 330.8 430.8 331.2 431.7 329.8 432.2 329.8 433.7 330.5 434.7 330.5 435.2 329.2 436.7 329.3 439.3 330.5 440.2 331.0 441.7 331.5 441.8 331.8 442.5 332.5 442.2 334.7 442.2 335.5 442.8 335.8 442.7 336.7 442.8 337.8 440.8 338.3 441.2 338.7 440.8 339.8 440.5 341.0 440.8 342.7 440.2 344.0 440.5 345.3 439.7 346.2 439.7 346.8 439.3 348.0 438.2 348.8 438.2 349.5 437.7 351.0 437.3 352.5 435.8 352.5 434.0 352.7 433.8 352.5 433.7 352.8 432.8 354.3 431.3 355.3 431.0 355.5 430.7 354.5 429.7 354.5 429.2 355.2 428.3 356.2 428.5 356.7 428.0 356.8 426.7 356.3 426.2 356.8 426.0 356.7 425.2 357.0 424.7 357.0 424.2 357.5 423.7 358.2 423.7 358.5 423.2 359.0 423.0 358.5 422.5Z" fill="#a59bcb" stroke="#fbf5fb" stroke-width=".55"/>
<path d="M300.5 405.2 300.3 408.2 301.0 408.8 302.7 408.8 303.2 409.3 303.0 411.7 303.8 412.8 305.0 414.0 305.7 414.3 305.2 416.5 306.3 418.0 308.7 418.2 309.5 417.2 309.8 417.2 311.3 418.5 311.8 419.7 312.5 420.3 313.8 420.3 316.0 419.7 317.2 420.2 319.8 420.5 320.5 421.2 321.0 422.0 321.3 423.3 322.0 423.8 323.2 423.8 323.8 423.3 325.5 424.8 326.5 424.8 327.0 424.5 328.5 424.2 329.3 422.3 329.3 420.5 329.8 419.2 329.0 418.8 328.2 418.0 328.0 416.2 326.5 415.0 326.0 413.7 325.5 413.2 324.7 412.8 324.2 412.2 325.3 410.8 326.0 409.3 326.0 408.3 325.0 407.8 324.3 407.0 324.5 404.3 323.5 404.3 321.8 403.7 320.7 403.7 320.2 404.5 319.2 405.2 318.5 404.5 319.0 403.8 319.0 402.8 316.5 402.5 314.5 404.5 309.2 405.3 307.7 404.5 307.0 403.3 305.3 401.8 304.5 401.7 304.2 402.0 303.8 403.5 303.0 404.2 302.2 404.0 302.0 404.3Z" fill="#a59bcb" stroke="#fbf5fb" stroke-width=".55"/>
<path d="M138.7 306.7 138.3 307.5 138.3 308.7 137.7 309.5 138.0 310.5 137.8 310.7 138.3 311.3 139.3 311.5 140.3 312.2 140.2 313.5 141.0 314.8 140.7 315.8 141.8 317.2 143.2 317.8 144.2 320.3 144.0 321.2 144.5 321.8 145.2 322.3 146.5 322.2 147.0 323.2 146.8 323.7 147.3 324.2 147.7 324.2 149.3 325.7 150.8 326.2 151.2 326.5 151.7 326.5 152.2 327.0 152.3 327.8 154.0 329.3 154.3 330.0 155.3 330.5 156.5 330.7 157.2 331.2 156.5 331.5 155.7 331.0 155.0 331.3 154.2 331.2 153.8 331.3 154.0 332.3 153.7 332.7 151.0 332.3 151.0 332.8 151.5 333.3 152.7 333.3 153.7 333.8 154.7 333.0 154.8 332.2 155.5 331.5 156.0 331.8 159.3 332.7 160.5 332.5 161.3 332.0 161.7 331.2 161.7 330.3 162.0 330.0 163.8 330.5 165.3 332.5 167.7 332.7 169.5 333.8 172.0 333.5 173.2 332.8 173.3 331.5 174.2 330.8 174.5 329.5 175.7 328.3 175.7 326.2 175.3 325.7 174.7 325.3 173.0 325.0 171.3 323.2 172.2 321.7 172.2 319.8 171.7 318.2 169.5 314.3 169.5 312.0 169.8 310.8 169.7 309.5 168.5 307.2 166.8 305.5 165.3 305.3 164.7 305.0 163.3 303.5 161.3 302.2 159.7 302.2 158.5 304.5 158.7 306.0 158.2 306.5 156.8 307.0 156.3 307.8 155.5 307.3 154.8 305.8 153.3 305.7 151.0 308.0 149.3 308.8 148.2 309.0 147.0 310.3 146.0 309.8 144.7 308.7 142.8 308.2 139.8 306.5Z" fill="#eee0ee" stroke="#fbf5fb" stroke-width=".55"/>
<path d="M189.2 305.5 188.2 306.5 188.2 309.2 188.5 309.8 189.5 310.8 188.8 311.7 188.2 313.2 188.2 314.3 188.7 315.3 188.8 316.7 187.8 318.0 187.8 319.2 188.7 320.2 189.7 320.0 190.0 320.2 190.2 321.3 190.7 322.5 190.7 323.3 190.2 323.8 190.2 324.5 192.3 326.3 192.7 327.2 192.7 327.7 191.7 328.7 191.5 330.0 190.8 330.7 190.3 330.8 190.3 331.5 191.0 332.3 191.0 333.0 190.3 334.8 190.3 337.2 189.3 338.3 189.3 339.2 192.2 339.0 192.8 339.5 193.7 341.2 194.7 341.2 196.7 339.2 197.8 338.3 200.3 337.5 201.3 338.3 201.7 339.5 202.3 340.2 204.2 340.8 204.8 341.8 205.5 341.8 206.0 341.3 206.0 339.8 206.8 338.8 207.5 337.2 207.7 334.7 208.0 334.0 208.8 333.2 211.7 332.0 212.7 331.2 213.7 331.0 214.2 330.5 214.2 330.0 214.7 329.0 216.0 328.8 216.5 328.5 218.0 328.2 219.2 327.5 219.7 327.5 219.8 326.5 219.2 325.8 218.0 325.8 216.3 326.8 215.0 326.8 214.0 326.2 213.8 325.2 214.3 324.3 214.3 322.5 213.8 321.5 214.0 320.3 214.8 319.5 215.2 316.7 214.7 315.8 213.5 315.3 212.7 314.3 212.8 313.3 212.3 312.7 211.5 312.7 211.5 314.3 210.7 315.3 210.7 316.5 210.3 316.7 210.0 316.3 210.0 315.5 209.2 314.3 209.3 312.7 209.0 311.7 209.3 311.0 209.3 310.0 208.3 309.2 207.7 308.0 207.5 307.0 206.8 306.3 205.8 306.3 204.8 307.0 202.7 307.7 201.3 307.2 199.8 307.2 199.3 307.5 197.7 307.7 196.8 307.0 196.5 306.0 196.0 305.5 195.3 305.3 194.3 305.5 192.3 306.8 191.3 306.5 190.0 305.5Z" fill="#6a1e7b" stroke="#fbf5fb" stroke-width=".55"/>
<path d="M220.0 327.2 218.8 327.3 217.7 328.0 216.7 328.2 215.7 328.7 214.3 328.8 214.0 330.2 213.3 330.8 212.3 331.0 211.3 331.8 208.5 333.0 207.8 333.7 207.3 334.7 207.5 335.2 207.3 336.8 206.7 338.5 205.8 339.5 205.8 341.0 205.2 341.7 205.2 342.5 204.2 344.3 204.2 345.3 204.7 346.5 204.8 348.2 206.2 349.2 205.0 350.7 205.0 351.8 204.5 353.5 204.7 355.2 205.3 355.5 206.2 355.5 207.0 356.2 207.3 356.8 207.3 358.3 209.7 358.3 211.0 357.3 212.2 357.3 212.8 357.7 213.3 358.2 213.5 359.0 215.8 361.5 217.5 360.8 219.5 360.8 220.3 360.2 220.5 359.5 221.2 358.8 222.0 358.7 223.2 357.8 226.2 356.8 226.5 356.5 226.7 355.3 228.2 354.0 229.5 353.5 231.3 351.5 231.2 348.8 229.5 346.7 229.0 345.3 229.0 343.7 227.8 342.7 228.3 341.0 227.2 339.0 226.8 337.8 226.8 337.2 227.8 335.3 227.7 334.2 226.5 332.8 225.2 333.0 224.7 333.8 224.5 333.7 224.8 331.8 224.7 331.0 221.5 328.3 220.8 328.3Z" fill="#6a1e7b" stroke="#fbf5fb" stroke-width=".55"/>
<path d="M355.0 260.8 354.5 260.2 352.8 259.7 352.2 257.8 352.2 257.2 350.5 255.8 350.3 254.8 350.0 254.5 349.0 254.5 346.3 255.8 346.0 256.5 346.0 257.3 345.0 258.7 344.3 258.5 343.3 257.2 341.8 256.3 340.8 256.5 340.2 256.2 338.8 254.8 337.7 254.8 337.0 256.0 336.8 257.8 336.3 258.3 335.0 258.5 334.5 258.2 333.5 258.2 332.8 258.5 331.7 260.0 330.2 260.0 329.5 259.2 327.8 258.7 327.0 257.7 326.7 256.5 326.0 255.8 325.2 255.5 323.0 255.3 322.0 256.2 322.0 257.5 322.5 258.5 322.0 260.3 320.8 261.3 318.2 261.5 318.0 262.7 318.7 263.7 320.3 264.5 321.2 265.7 322.8 266.8 324.3 268.5 324.5 269.0 324.5 270.2 324.2 271.2 324.3 273.0 323.7 273.8 323.7 274.2 325.5 274.3 326.7 274.0 327.5 274.3 329.7 274.5 330.8 275.3 330.3 276.0 330.5 277.7 331.7 277.8 332.2 277.3 332.2 276.8 332.5 276.5 333.2 276.7 336.0 273.7 336.7 273.3 338.3 273.3 339.0 272.3 340.5 271.0 340.8 271.0 341.5 271.7 341.7 273.3 342.7 275.3 343.3 275.8 344.8 275.8 346.0 276.3 346.8 276.3 347.8 275.7 348.3 275.7 349.8 274.8 350.7 274.7 351.3 274.0 352.0 272.3 351.8 270.2 351.3 269.7 351.0 268.8 351.2 267.7 353.2 265.0 354.5 264.0 354.3 262.5 355.0 261.7Z" fill="#eee0ee" stroke="#fbf5fb" stroke-width=".55"/>
<path d="M259.0 260.5 258.3 261.2 258.2 261.7 258.2 263.5 256.5 264.7 256.2 265.7 256.3 267.3 256.0 268.2 256.0 269.0 257.0 270.5 256.7 271.5 257.7 272.3 257.8 273.3 259.8 274.7 259.0 276.3 259.0 278.3 258.7 279.2 258.7 280.0 260.8 282.5 262.3 282.5 262.8 283.0 263.0 283.7 264.5 285.5 264.3 287.2 265.0 287.5 266.8 289.7 268.3 292.5 268.3 294.5 269.3 294.7 270.0 293.8 270.8 293.5 273.3 291.2 274.3 290.7 275.3 291.5 275.8 292.3 277.0 292.8 278.7 292.8 279.5 293.3 281.2 293.5 282.5 294.3 284.2 294.3 285.5 293.7 286.2 293.7 286.5 294.2 286.8 294.2 287.3 293.3 287.8 291.2 288.8 289.3 288.3 288.3 289.2 286.8 289.2 285.8 287.5 281.3 287.3 279.0 286.5 277.3 284.8 277.0 283.7 274.8 283.0 274.2 281.7 273.8 280.2 272.8 279.0 272.7 278.0 271.5 277.7 270.5 276.7 270.2 275.2 268.3 272.7 267.0 270.3 266.5 269.8 266.0 269.5 264.5 270.5 263.3 270.5 262.3 269.0 261.2 268.7 259.3 264.8 261.0 261.8 261.0 261.7 261.2 260.3 260.5Z" fill="#e0bfdc" stroke="#fbf5fb" stroke-width=".55"/>
<path d="M351.0 276.8 350.8 278.8 350.5 279.2 349.8 279.2 349.2 279.5 348.3 280.3 347.0 282.8 345.3 282.7 344.3 283.2 344.0 283.7 344.0 284.7 344.5 286.0 345.3 287.2 345.2 288.0 346.0 288.0 347.5 287.2 348.5 288.0 351.2 289.3 352.3 289.3 353.0 289.0 353.3 289.3 354.2 287.8 353.8 287.2 354.2 285.0 353.3 283.3 353.8 281.2 353.8 278.7 352.7 278.3 351.7 277.0Z" fill="#a59bcb" stroke="#fbf5fb" stroke-width=".55"/>
<path d="M249.2 246.5 248.5 246.2 247.8 246.2 246.5 246.7 245.7 246.2 241.8 246.0 241.0 246.5 239.3 246.7 237.2 247.5 236.3 247.5 237.2 249.7 237.2 250.8 236.3 252.7 236.2 253.5 236.3 254.3 235.8 255.8 235.8 257.0 236.2 258.0 235.2 259.0 234.0 261.3 234.7 262.7 234.7 264.3 236.0 264.8 237.2 265.7 240.7 266.0 241.7 265.7 244.5 265.8 245.7 265.3 246.2 264.8 246.5 264.2 246.7 262.7 247.3 261.8 247.3 261.2 246.5 260.5 246.7 259.7 247.3 259.2 249.3 255.2 250.2 254.3 251.0 254.2 252.2 253.5 252.2 253.2 250.7 251.3 250.2 250.3 250.0 249.3 249.5 248.3 249.5 247.2Z" fill="#a59bcb" stroke="#fbf5fb" stroke-width=".55"/>
<path d="M227.3 231.7 227.2 234.5 226.8 235.5 227.7 236.3 229.7 237.0 230.5 237.7 231.5 241.2 233.2 241.0 235.5 239.2 236.8 239.3 237.5 240.0 238.2 241.3 238.5 243.0 239.3 243.3 241.2 243.2 241.7 243.5 242.2 244.7 242.0 246.2 245.3 246.3 245.5 246.0 245.2 244.7 245.3 243.7 248.0 241.5 249.5 238.5 250.7 235.5 250.8 232.0 249.5 232.0 248.3 232.8 246.8 233.3 246.5 233.7 246.5 234.5 247.0 235.5 246.5 235.8 246.0 235.8 244.0 235.2 242.2 233.8 240.3 234.2 240.2 234.0 240.3 232.7 239.8 231.8 239.3 231.5 238.8 231.5 238.8 232.7 238.5 233.2 237.8 233.5 236.3 233.2 234.7 234.0 234.0 233.8 233.2 233.0 232.8 230.8 232.3 230.2 231.3 230.2 228.5 231.8Z" fill="#e0bfdc" stroke="#fbf5fb" stroke-width=".55"/>
<path d="M80.0 253.2 80.3 253.5 81.0 253.7 81.3 254.2 81.2 254.5 81.8 254.5 82.5 255.3 82.7 255.8 83.3 256.3 84.8 255.8 85.8 255.8 86.5 255.5 86.7 255.2 87.2 255.0 88.2 255.3 88.8 255.3 89.7 254.8 89.8 255.2 89.5 255.5 88.2 256.2 87.7 256.2 87.5 256.5 88.7 256.5 89.2 257.0 89.3 257.5 91.8 257.2 92.8 258.0 92.7 258.3 92.0 257.8 91.7 257.8 91.3 258.3 90.0 258.2 89.0 259.5 88.5 259.2 88.3 259.3 87.8 259.0 87.2 259.0 86.5 259.8 86.0 260.0 85.7 259.8 85.8 260.0 85.7 260.3 85.7 261.5 87.2 261.2 87.8 261.8 88.8 262.0 89.2 261.7 89.3 261.0 90.0 260.5 90.2 260.8 90.7 261.2 90.7 262.0 89.3 263.5 87.8 263.3 86.7 264.2 85.5 264.7 85.0 264.7 84.8 264.5 84.5 265.0 84.0 264.8 83.8 265.0 83.2 264.2 82.2 264.0 81.3 265.0 80.5 265.2 81.3 265.3 82.2 265.8 83.0 266.7 83.7 267.0 84.2 267.0 84.5 267.2 84.8 267.7 85.3 267.8 85.8 268.3 85.8 269.5 86.0 269.7 87.5 269.5 88.2 270.2 88.0 270.7 88.7 271.8 88.7 273.0 88.3 273.5 88.5 274.2 89.3 273.7 89.7 273.7 90.0 274.0 90.0 274.5 90.3 274.8 90.7 274.8 91.0 274.0 91.8 273.3 93.3 273.2 93.8 272.5 95.3 272.3 95.5 272.2 95.7 272.3 95.8 272.2 96.3 272.8 96.7 272.8 97.5 272.5 97.8 271.8 98.2 272.2 98.2 273.7 98.5 274.0 98.8 274.0 99.3 274.3 100.2 275.5 101.3 275.3 101.8 276.0 101.8 276.5 102.0 276.0 102.2 276.3 102.0 275.8 102.2 275.5 102.5 275.3 103.0 275.5 103.3 276.0 102.8 276.7 103.3 277.3 103.8 277.3 104.5 277.0 104.7 277.2 106.5 277.0 106.8 277.3 106.8 277.7 107.2 278.2 107.3 278.0 107.7 278.3 108.8 278.7 109.3 279.0 109.7 279.5 110.8 279.7 111.8 280.2 112.5 280.8 112.5 281.3 113.5 282.3 113.8 282.3 114.3 282.8 114.2 283.2 114.3 284.0 114.7 284.2 115.5 284.2 116.3 284.5 116.3 285.0 116.7 285.7 116.5 287.0 116.7 287.5 117.5 288.2 117.7 288.2 118.2 287.5 118.2 286.5 118.3 286.3 118.2 285.2 118.7 284.5 119.2 284.5 119.7 284.8 120.2 284.7 120.5 284.3 120.3 284.0 120.5 283.7 120.8 284.0 121.7 284.2 122.3 285.3 122.8 285.8 123.0 285.8 124.0 284.7 124.5 285.0 124.8 285.0 125.0 285.3 126.0 285.0 126.7 285.2 127.0 285.7 127.0 286.2 126.7 286.8 127.3 287.8 127.2 288.2 127.3 288.5 127.5 288.2 127.7 288.5 128.5 289.0 129.5 289.3 130.7 289.3 130.8 289.0 132.3 288.5 133.2 288.5 134.2 288.8 135.3 287.8 135.8 287.8 136.0 287.7 138.5 287.7 139.3 286.8 139.7 286.2 140.7 285.3 141.2 284.7 142.0 284.2 143.2 282.8 144.2 282.5 144.7 281.8 146.5 281.8 147.3 281.2 148.8 280.5 150.5 280.7 150.7 280.8 151.7 280.8 152.3 280.2 152.5 279.7 152.5 278.2 151.3 276.3 151.3 276.0 151.8 275.5 152.2 275.5 153.3 276.3 155.0 276.3 156.2 276.8 156.8 277.3 158.2 277.3 159.5 277.8 161.3 277.8 161.8 277.3 163.0 277.0 163.5 276.2 163.5 274.7 163.2 274.0 163.2 272.8 163.7 271.8 163.5 270.7 163.8 270.2 163.8 269.5 164.3 268.2 165.0 267.5 165.5 267.3 166.5 266.3 166.7 265.8 166.7 264.2 166.2 263.3 166.2 262.7 166.7 262.2 167.2 262.0 167.2 261.5 166.5 260.8 165.8 259.2 166.0 258.0 167.0 256.3 167.0 254.8 165.7 253.8 164.3 253.8 163.2 253.3 162.8 253.0 161.2 252.7 159.8 251.2 159.5 250.0 159.3 248.2 157.3 248.3 157.2 250.0 157.5 250.5 157.2 250.8 157.0 250.7 156.8 250.8 156.0 250.2 154.7 250.0 154.2 249.7 153.5 249.7 152.7 249.3 151.8 249.7 150.3 249.5 149.7 249.8 149.5 250.2 149.2 250.2 148.8 249.8 148.7 248.7 148.3 248.5 148.7 248.2 148.5 247.8 148.2 248.0 147.8 247.8 147.7 248.0 147.0 248.0 146.3 248.3 145.8 248.3 145.5 248.0 144.7 247.7 144.3 248.0 144.2 248.8 143.8 249.2 142.5 249.7 142.2 249.5 141.3 249.5 140.8 249.8 140.3 249.8 139.8 249.0 139.5 249.0 138.8 248.5 138.7 248.0 138.0 248.2 137.2 247.7 136.8 247.7 136.0 248.3 135.0 248.7 134.5 248.3 133.5 248.5 133.2 248.8 133.2 249.8 132.3 250.7 131.3 250.7 130.7 251.3 130.0 251.3 129.2 252.5 128.8 252.5 128.3 252.8 128.0 253.5 127.8 253.2 127.5 253.0 127.3 252.5 127.3 251.2 126.2 250.7 125.8 250.2 126.0 249.8 125.8 249.7 125.8 248.7 126.0 248.5 125.8 248.0 125.5 247.7 124.8 247.5 124.5 247.2 124.3 246.5 123.3 245.8 122.8 244.8 123.5 243.0 123.2 242.7 122.5 242.7 122.3 242.8 121.5 242.7 120.2 241.0 120.2 240.5 119.8 240.3 119.2 241.0 118.5 241.0 118.2 240.8 117.5 240.0 116.8 240.0 116.0 241.0 113.5 241.0 113.0 241.3 111.7 241.3 111.5 241.2 111.3 241.3 111.2 241.2 110.0 241.8 109.5 241.8 109.2 242.3 109.2 243.3 108.8 244.2 108.5 244.2 108.5 244.3 108.0 244.7 107.3 244.7 107.2 244.8 106.7 244.8 106.2 244.5 105.5 244.5 105.5 245.3 105.2 245.8 104.7 245.5 104.3 244.7 103.8 244.3 103.5 244.5 103.0 245.2 102.2 245.3 101.7 245.0 101.2 244.3 100.5 244.3 100.2 244.5 99.8 245.0 98.8 245.2 98.3 245.0 97.5 244.2 97.0 244.2 96.5 244.5 95.2 244.7 95.0 244.8 92.0 244.8 91.8 245.3 91.0 245.8 88.5 245.5 87.3 246.2 87.0 245.8 86.0 245.7 84.8 246.7 83.8 247.2 82.5 247.0 82.7 247.2 82.5 247.5 81.8 248.0 81.8 248.8 81.2 249.7 81.2 250.5 80.7 251.2 80.8 252.2ZM230.2 209.7 229.5 209.2 228.7 209.2 228.5 209.0 227.7 209.0 227.3 209.2 227.0 209.0 226.7 208.5 226.5 207.2 226.0 206.0 224.8 205.0 224.2 204.0 224.0 202.7 223.8 202.5 223.8 201.5 222.7 201.0 221.7 201.2 221.5 201.3 221.5 202.5 221.0 203.0 220.2 203.3 218.8 204.8 218.2 204.8 217.8 205.2 217.5 206.7 217.0 207.2 216.7 207.2 216.3 206.8 216.2 205.5 215.7 205.3 215.2 206.2 214.5 206.8 213.8 207.0 213.7 207.8 213.3 208.3 212.2 208.0 212.0 208.2 211.8 208.0 210.7 208.0 209.8 209.2 208.7 209.2 207.0 210.5 206.0 210.5 205.0 210.0 204.2 210.0 203.8 210.3 203.5 211.3 202.3 212.3 201.3 212.5 200.8 212.8 199.3 212.7 198.7 213.8 198.0 214.3 197.8 214.7 197.7 214.5 197.5 214.7 197.0 214.7 196.2 215.2 196.0 215.5 195.5 215.5 195.3 215.0 195.0 214.8 195.2 215.3 195.0 215.5 194.8 215.3 195.0 215.8 194.7 216.2 194.7 216.5 193.8 218.3 194.0 218.5 193.8 218.8 194.0 219.0 194.0 219.8 193.5 220.5 192.8 220.7 192.0 221.5 192.3 221.3 192.5 221.5 193.0 221.0 193.5 221.0 194.2 221.3 195.0 222.3 195.5 222.5 196.3 223.7 197.5 223.8 198.2 223.5 198.3 223.7 198.2 224.5 197.8 224.8 196.8 224.8 196.2 224.5 195.5 224.7 195.2 225.0 194.5 224.7 194.0 224.8 192.8 225.8 192.5 226.8 191.7 227.7 190.3 226.7 190.0 226.8 189.2 226.8 189.0 227.0 189.0 228.0 188.3 228.7 187.3 228.7 186.8 229.0 186.0 229.0 185.0 229.5 183.0 228.2 181.2 228.2 180.8 227.3 180.2 227.3 179.7 227.7 177.8 226.7 177.7 227.0 177.5 226.7 177.5 227.0 177.0 227.2 176.5 226.3 176.2 226.5 175.7 226.3 175.5 226.5 175.3 226.3 173.8 226.5 171.8 225.5 170.3 225.5 169.5 226.0 168.7 225.5 167.5 225.5 166.8 225.8 166.3 225.8 165.5 225.3 165.3 225.5 164.7 225.3 163.3 224.0 163.0 223.3 163.2 222.2 162.7 221.7 162.5 221.2 162.5 220.5 163.2 220.2 162.8 219.0 163.0 218.8 163.0 218.0 162.8 217.8 163.0 216.8 162.8 216.7 162.8 216.0 162.3 215.2 162.3 214.8 161.8 214.3 161.0 214.2 160.5 213.7 159.7 214.2 159.2 214.2 159.0 214.0 158.8 214.2 157.5 214.2 157.0 214.5 156.5 214.5 156.3 214.8 155.5 215.3 155.0 215.3 154.0 214.3 153.2 214.2 152.3 213.5 151.8 213.3 151.0 213.7 150.5 213.5 150.7 214.0 150.0 214.3 149.2 214.2 148.5 214.5 148.0 214.5 147.5 214.2 146.8 214.2 146.7 214.3 146.8 214.5 146.8 215.0 147.3 215.5 147.3 215.8 147.8 216.7 147.7 217.7 148.5 217.7 148.8 218.2 148.8 219.3 149.0 219.5 148.5 220.7 148.2 221.0 147.2 221.2 147.2 221.5 147.7 221.8 147.8 221.7 148.5 221.7 148.7 221.8 149.0 223.3 149.5 223.8 149.8 225.0 150.3 225.7 151.0 226.2 151.2 226.7 151.0 227.0 151.3 227.8 151.2 228.3 152.5 229.8 152.5 230.8 153.5 233.0 152.8 233.8 153.0 234.3 154.0 235.3 153.7 236.3 153.7 238.7 153.8 239.0 154.2 238.8 154.7 238.8 154.8 239.0 154.7 239.8 153.7 241.0 153.7 241.8 154.2 242.2 154.5 242.2 155.0 242.7 154.7 243.5 154.7 244.0 155.3 244.7 155.7 245.3 155.5 245.7 155.8 246.0 155.8 247.0 156.3 247.7 156.7 247.7 157.2 248.2 157.3 248.7 158.3 248.3 159.0 248.3 159.2 248.5 159.2 249.3 159.3 249.5 159.3 250.3 159.7 251.5 160.8 252.8 162.5 253.2 162.8 253.5 164.0 254.0 165.3 254.0 166.2 254.5 166.8 255.2 166.8 256.0 166.3 256.7 166.3 257.2 168.7 257.2 169.2 257.0 169.8 256.2 170.2 256.2 171.0 255.7 171.8 255.7 173.5 256.3 174.7 257.3 177.0 258.0 177.8 258.0 179.0 257.5 179.5 257.0 180.0 257.0 180.7 257.5 181.7 259.0 181.7 259.5 181.8 259.7 181.7 259.8 181.7 260.5 181.2 261.5 181.2 262.7 182.3 262.7 183.5 261.5 185.7 260.3 186.2 259.8 186.8 258.3 187.3 257.7 188.0 257.2 189.7 257.0 189.8 256.8 191.3 256.8 191.8 257.0 192.8 257.8 194.3 258.5 196.3 258.5 197.7 259.3 199.5 259.2 203.3 262.0 205.2 262.8 205.5 263.2 206.5 263.3 209.8 264.5 211.2 264.5 211.8 263.8 211.8 263.5 211.3 262.7 211.3 262.0 211.7 261.3 212.7 260.3 212.7 259.3 212.0 258.2 211.5 256.0 210.3 254.3 210.5 254.0 210.5 253.2 209.8 251.3 212.2 249.7 212.7 249.5 213.2 248.7 213.3 248.0 213.8 247.5 214.7 247.2 215.8 247.2 216.7 246.8 217.0 247.0 218.2 247.0 219.3 247.3 221.0 248.5 222.3 248.7 222.5 248.8 223.0 248.8 223.8 248.5 223.8 247.8 223.5 247.3 223.3 246.5 222.3 244.7 222.3 241.8 222.5 241.7 222.5 240.7 222.7 240.2 224.2 238.8 224.3 237.5 224.0 236.7 224.5 236.2 225.5 236.2 227.0 235.7 227.3 234.8 227.3 233.0 227.5 232.8 227.5 231.7 226.7 230.0 225.7 228.8 224.3 227.8 224.2 226.8 225.3 226.0 227.2 225.5 227.5 224.8 229.2 223.3 230.3 220.8 231.2 220.2 232.7 220.2 233.2 219.5 233.2 217.7 233.0 217.3 231.2 215.8 229.8 214.2 229.7 213.7 230.0 213.0 230.0 211.5 230.3 210.8 230.3 210.0ZM225.5 175.0 225.0 176.0 225.0 176.3 226.0 177.2 226.0 179.0 226.5 179.8 225.8 180.7 225.8 181.5 226.0 181.7 225.8 181.8 225.8 182.8 226.3 183.7 226.2 184.7 226.7 185.5 226.7 186.0 226.5 186.2 226.7 187.5 227.5 188.2 227.5 189.0 227.0 190.3 227.0 191.2 227.5 192.5 227.0 193.7 227.0 194.2 227.3 194.7 227.3 195.7 227.0 196.3 226.5 196.3 226.3 197.0 226.8 197.7 225.8 198.7 225.7 199.3 225.2 199.7 224.3 199.8 223.0 201.0 221.7 200.8 221.5 201.5 223.0 201.3 223.7 201.8 223.7 202.8 223.8 203.0 224.0 204.3 224.7 205.3 225.8 206.3 226.3 207.5 226.7 209.2 227.0 209.3 227.8 209.3 228.0 209.2 228.3 209.3 229.2 209.3 230.0 210.0 230.2 210.5 229.8 211.2 229.8 212.7 229.5 213.3 229.5 214.0 229.7 214.5 231.0 216.2 232.8 217.7 233.0 218.0 233.0 219.2 232.3 220.0 230.8 220.0 230.2 220.5 229.0 223.0 227.3 224.5 226.8 225.3 225.0 225.8 224.0 226.5 224.0 227.8 224.2 228.2 225.8 229.5 226.5 230.3 227.2 231.8 227.5 232.0 228.8 232.0 231.3 230.5 232.0 230.3 232.7 231.2 233.0 233.3 234.0 234.2 235.0 234.2 236.0 233.5 238.2 233.7 238.8 233.3 239.0 233.0 239.0 232.0 239.2 231.8 239.7 232.2 240.2 233.0 240.2 233.5 240.0 233.7 240.0 234.3 240.2 234.5 242.2 234.2 243.7 235.3 245.7 236.0 246.8 236.0 247.2 235.8 247.2 235.0 246.7 234.0 247.2 233.5 248.7 233.0 249.8 232.2 252.7 232.5 255.3 233.7 257.8 233.7 258.5 234.7 259.3 234.8 259.8 235.3 259.7 236.2 260.0 236.8 262.3 239.5 264.7 240.5 265.2 241.3 265.2 241.7 265.8 242.3 267.5 242.2 268.7 243.2 270.0 244.7 270.5 244.7 271.8 242.8 272.5 241.5 273.2 241.0 273.2 240.5 272.3 239.8 272.2 239.3 272.5 238.5 272.5 236.7 272.2 236.2 271.2 235.7 270.7 235.2 271.0 235.0 272.2 235.7 273.3 235.7 273.5 235.5 273.5 234.2 273.0 233.3 273.0 233.0 273.3 232.7 274.3 233.3 275.7 233.3 276.2 233.0 278.0 230.5 278.5 229.5 278.5 229.2 279.0 228.5 279.7 228.2 279.8 227.8 280.7 227.2 282.5 227.2 283.0 226.7 283.2 226.2 283.2 225.3 282.7 224.7 280.8 223.8 280.3 223.2 280.3 222.5 280.7 221.8 282.0 220.5 282.5 218.8 284.2 217.5 285.3 216.8 285.3 215.7 284.7 214.8 284.3 213.8 284.3 213.2 284.7 212.5 284.7 211.2 283.8 209.8 283.8 209.5 284.5 209.0 284.8 208.5 285.2 207.5 285.2 206.2 284.7 205.7 284.0 205.7 283.8 205.5 284.2 205.3 284.3 205.0 284.2 204.8 284.3 204.7 283.8 203.8 283.8 203.2 284.5 202.0 284.3 201.7 284.7 201.5 285.2 200.8 285.0 200.5 285.0 199.3 284.8 199.2 285.0 198.7 284.7 198.0 283.8 197.8 283.2 197.2 283.5 196.2 283.3 195.2 282.5 194.7 281.8 194.0 281.5 193.2 279.7 193.0 279.0 193.3 278.5 193.2 277.8 193.5 276.8 193.5 276.7 193.3 276.2 193.3 276.0 193.0 275.3 192.7 274.2 192.7 274.0 192.8 273.3 192.7 273.2 192.2 273.0 192.2 271.3 190.3 271.3 189.7 272.0 189.2 272.2 188.8 271.8 188.5 271.3 188.5 271.0 188.2 271.0 187.8 270.3 187.3 269.3 187.2 269.2 187.3 268.3 187.3 267.8 187.7 267.0 187.7 266.7 187.3 266.7 186.8 266.3 186.5 266.0 186.7 265.7 186.5 264.8 187.0 264.3 186.5 264.3 185.7 264.2 185.5 264.2 184.5 264.0 184.2 263.5 183.8 262.8 183.8 262.5 183.3 263.0 182.2 261.5 180.3 260.8 179.8 260.3 179.0 260.2 179.2 259.3 179.2 258.7 180.0 258.5 179.8 258.3 180.0 258.2 179.8 257.7 179.8 255.8 180.7 254.7 180.7 254.5 180.8 254.3 180.7 254.2 180.8 253.7 180.7 253.5 180.8 252.8 180.3 252.8 179.7 253.2 179.3 252.0 178.0 252.0 176.3 251.8 176.0 250.7 175.2 249.8 174.2 250.3 173.5 250.2 172.7 249.8 172.2 249.2 172.0 248.7 171.5 248.7 170.7 248.3 170.3 248.0 169.5 248.2 168.5 247.8 167.8 247.5 168.0 246.7 169.0 245.7 169.2 245.2 168.8 245.0 169.0 244.5 169.0 244.2 169.3 244.0 169.2 243.5 169.3 242.5 169.0 242.3 169.3 241.0 170.0 240.7 170.0 240.2 170.3 238.8 170.3 238.7 170.7 237.7 171.0 237.3 171.3 237.0 171.3 236.7 171.7 235.8 172.0 235.2 172.0 234.3 171.7 234.0 171.8 233.2 172.8 232.3 173.3 231.5 174.3 230.8 174.2 230.0 173.3 229.0 173.3 227.8 173.7 227.7 174.5 227.2 175.2 226.5 174.7ZM227.3 231.7 227.2 234.5 226.8 235.3 226.0 235.8 224.2 236.0 223.8 236.3 223.8 237.2 224.2 237.8 224.0 238.5 222.5 239.8 222.3 240.3 222.3 241.3 222.2 241.5 222.2 245.0 223.2 246.8 223.7 248.5 224.0 248.8 224.3 248.8 226.3 251.3 227.2 251.8 229.2 254.0 229.3 255.2 230.0 256.2 230.0 257.7 230.8 258.8 231.8 258.7 233.5 259.3 234.8 259.3 235.0 259.5 234.0 261.3 234.0 261.7 234.7 262.7 234.7 264.3 235.0 264.3 236.0 264.8 237.2 265.7 238.0 265.7 238.2 265.8 240.7 266.0 241.7 265.7 243.8 265.7 244.2 266.0 244.2 266.5 244.5 267.0 245.3 267.5 246.3 268.5 247.7 269.0 248.3 269.7 248.8 270.7 249.5 271.0 250.7 270.8 250.8 270.7 252.3 270.7 253.2 271.0 256.8 271.5 257.2 271.2 257.2 270.2 256.2 268.7 256.5 267.7 256.3 266.0 256.7 265.0 257.2 264.5 258.0 264.2 258.3 263.8 258.3 262.0 258.5 261.5 259.3 260.7 260.0 260.7 260.7 261.2 261.2 261.2 261.3 261.3 262.0 261.3 262.2 261.2 265.2 261.2 266.2 260.8 267.2 260.2 267.5 260.2 268.7 259.5 269.0 258.5 269.0 257.2 267.7 255.5 267.7 255.0 267.5 254.8 267.8 254.0 267.8 252.8 267.5 252.2 266.7 251.3 265.3 251.0 265.2 250.8 265.2 250.3 265.7 249.7 266.7 249.2 268.3 249.0 269.3 248.2 269.7 247.3 269.7 246.3 270.3 244.5 270.0 244.0 267.8 242.0 266.2 242.2 265.3 241.3 265.0 240.3 262.7 239.3 260.2 236.5 260.0 236.2 260.0 235.0 259.7 234.7 258.8 234.5 258.3 234.0 258.2 233.5 255.7 233.5 253.0 232.3 252.2 232.3 251.0 232.0 249.5 232.0 248.3 232.8 247.5 233.0 246.5 233.7 246.5 234.5 247.0 235.5 246.5 235.8 246.0 235.8 244.0 235.2 242.8 234.2 242.2 233.8 241.7 233.8 241.0 234.2 240.3 234.2 240.2 234.0 240.3 233.8 240.3 232.7 239.8 231.8 239.3 231.5 238.8 231.5 238.8 232.7 238.5 233.2 237.8 233.5 236.3 233.2 236.2 233.3 235.7 233.3 234.7 234.0 234.0 233.8 233.2 233.0 232.8 230.8 232.3 230.2 231.3 230.2 228.5 231.8ZM284.5 205.7 284.5 206.0 285.0 206.5 285.0 207.2 284.7 208.2 284.3 208.7 283.7 209.2 283.7 210.2 284.5 211.5 284.5 212.2 284.2 212.8 284.2 214.2 284.5 215.2 285.2 216.0 285.2 216.5 282.3 218.5 281.8 220.2 280.5 221.5 280.0 222.7 280.2 223.5 280.5 224.0 281.5 224.3 282.5 225.0 283.0 225.7 282.8 226.3 282.2 227.0 281.5 227.0 281.3 226.8 280.0 227.2 279.3 228.0 278.7 228.3 277.8 230.2 276.3 232.3 275.3 233.2 274.7 233.2 273.8 232.5 273.0 232.5 272.8 232.7 272.8 233.7 273.3 234.5 273.3 235.2 273.0 235.5 272.5 235.5 270.8 234.7 270.2 234.7 270.2 235.2 270.8 235.8 271.8 236.3 272.3 237.0 272.3 238.2 272.0 239.0 272.0 239.7 272.7 240.8 272.0 241.7 271.7 242.5 270.7 244.0 270.0 244.7 269.5 246.0 269.5 247.0 269.2 247.8 268.0 248.8 266.3 249.0 265.3 249.5 264.8 250.5 264.8 251.0 265.0 251.2 266.3 251.5 267.3 252.5 267.7 253.2 267.7 253.7 267.3 254.5 267.5 255.8 268.8 257.5 268.8 258.2 268.5 259.0 268.7 261.2 269.3 262.0 269.7 262.0 270.3 262.7 270.3 263.0 269.3 264.2 269.3 265.5 269.7 266.3 270.0 266.7 271.0 267.0 272.3 267.2 273.3 267.8 274.8 268.5 275.8 269.5 276.3 270.3 277.5 270.8 277.8 271.8 278.7 272.8 279.8 273.0 281.3 274.0 282.7 274.3 283.5 275.2 284.3 277.0 284.8 277.3 286.3 277.3 287.0 276.7 287.7 276.7 289.2 277.3 290.8 277.3 291.8 276.3 292.5 275.3 292.7 274.7 293.2 274.2 294.2 273.7 295.8 274.7 297.0 275.8 297.5 276.8 297.3 277.7 297.7 278.3 299.3 279.8 300.2 280.0 301.5 280.7 302.0 280.7 302.7 280.2 303.0 281.0 303.5 281.3 304.2 281.3 305.8 280.3 307.0 280.7 308.3 280.7 309.5 281.2 310.3 282.0 310.3 282.5 309.8 283.3 309.8 284.0 310.2 284.7 311.5 286.3 313.0 287.0 313.3 287.3 314.2 287.3 315.0 285.7 315.3 285.5 316.3 284.3 318.8 283.8 319.3 283.3 319.7 282.3 319.7 281.5 319.8 281.3 319.8 280.0 320.0 279.7 320.3 279.5 320.5 278.8 321.5 277.5 321.8 275.8 323.7 274.2 325.5 274.3 326.2 274.0 326.7 274.0 327.5 274.3 329.7 274.5 330.8 275.3 330.3 276.0 330.3 277.3 330.5 277.7 330.8 277.8 331.7 277.8 332.2 277.3 332.2 276.8 332.5 276.5 333.2 276.7 336.0 273.7 336.7 273.3 338.3 273.3 338.8 272.8 339.0 272.3 340.2 271.2 340.8 271.0 341.5 271.7 341.7 273.3 342.2 274.0 342.7 275.0 342.7 275.3 343.3 275.8 344.8 275.8 346.0 276.3 346.8 276.3 347.5 276.0 347.8 276.7 350.0 276.7 351.3 277.2 352.0 277.8 352.3 278.5 353.3 278.7 353.7 279.0 353.7 280.8 353.5 281.0 353.5 282.0 353.2 282.7 353.2 283.7 354.0 285.3 353.7 286.2 353.7 287.5 353.8 288.0 354.3 287.8 355.2 288.5 355.5 288.3 355.8 288.5 356.0 288.3 357.0 289.3 358.2 289.7 358.8 290.2 359.3 289.5 359.5 288.7 360.2 288.0 360.5 287.2 361.3 286.3 361.8 286.3 362.3 286.7 362.8 285.8 363.8 285.0 363.3 283.3 363.3 282.2 364.0 280.5 364.0 279.8 364.3 279.2 364.3 278.3 363.8 277.3 363.8 276.3 364.0 276.2 363.5 275.3 363.5 275.0 364.2 274.0 363.7 271.7 364.7 271.0 365.2 270.0 364.7 268.5 364.7 267.7 364.8 267.3 364.7 267.0 364.3 267.0 364.2 266.7 364.3 266.5 364.8 266.5 365.2 266.0 365.2 265.7 364.8 265.3 364.8 264.7 365.5 264.0 365.5 262.8 365.8 262.7 366.2 262.0 366.3 259.8 367.2 259.2 367.2 258.7 367.5 258.3 367.5 257.3 367.2 256.7 367.3 256.5 367.2 256.3 367.2 255.0 367.3 254.7 368.0 254.2 368.2 254.3 368.5 254.2 368.5 253.2 367.8 252.5 367.7 252.0 367.8 251.7 369.0 250.7 368.8 250.2 369.0 250.0 369.0 249.2 369.5 248.3 369.5 247.3 370.7 246.3 370.7 245.8 370.5 245.7 371.0 245.3 371.2 244.8 371.8 244.3 372.2 244.3 372.5 243.8 372.5 243.3 372.3 243.2 372.5 242.8 372.2 242.0 372.7 241.3 373.3 241.2 373.0 240.7 373.0 240.2 374.0 239.5 374.2 238.7 374.8 238.2 375.2 237.5 375.3 236.2 374.3 235.3 373.2 235.8 372.2 235.0 371.7 235.0 371.0 234.0 370.5 234.0 369.3 234.5 368.8 234.2 367.7 234.7 367.0 234.7 366.7 234.3 366.0 234.2 365.2 235.0 364.2 235.5 363.7 234.8 362.7 234.2 362.3 233.7 361.7 233.2 361.3 233.2 360.8 232.7 360.8 232.0 360.7 231.8 358.7 231.7 358.0 231.3 357.3 230.7 356.7 230.7 356.0 231.0 356.0 231.2 355.0 232.0 354.5 232.2 352.7 232.3 351.8 232.0 351.5 231.7 351.2 231.8 350.7 232.5 350.2 232.7 350.0 232.5 349.8 232.7 349.3 232.2 349.3 231.5 349.2 231.2 348.8 231.0 348.7 231.2 348.5 231.0 347.0 231.5 346.8 231.3 346.7 231.5 346.2 231.5 345.5 231.2 344.5 230.2 343.8 230.0 342.8 229.0 341.2 226.7 340.5 226.8 339.8 226.2 339.5 225.3 339.2 225.2 338.5 224.3 338.0 224.2 337.0 223.0 337.2 222.5 336.3 222.7 336.0 222.5 335.2 221.5 334.7 221.3 334.5 221.5 334.3 221.3 333.8 221.5 333.8 221.7 333.2 222.2 332.3 222.2 331.7 221.5 331.3 220.8 330.8 220.8 330.3 221.7 329.7 221.7 329.5 221.3 329.0 221.2 327.5 221.3 327.0 221.7 326.5 221.7 325.5 222.5 324.2 222.3 323.0 222.8 322.7 222.0 322.0 221.7 321.5 221.0 321.2 220.8 321.2 219.8 320.2 219.0 318.7 219.2 318.7 220.0 318.3 220.5 318.0 220.5 317.5 220.0 317.5 219.7 317.2 219.3 316.8 219.3 316.3 219.7 316.2 220.0 316.2 220.8 315.8 221.3 315.5 221.5 314.7 221.3 314.2 221.0 314.3 220.8 314.2 220.3 313.7 220.0 313.2 219.3 313.2 218.7 313.3 218.5 313.0 217.8 312.2 217.8 311.7 217.5 311.7 216.8 311.8 216.7 311.8 216.2 311.7 216.0 310.2 216.0 309.7 215.8 309.0 214.7 308.2 214.7 307.8 214.5 307.2 213.5 307.0 213.5 306.0 212.3 305.5 212.0 304.5 211.8 304.0 211.0 304.0 210.3 302.3 210.0 301.5 208.5 300.3 208.7 299.8 208.0 299.8 206.8 299.7 206.7 299.7 205.3 300.0 204.5 299.8 204.3 299.8 203.3 299.7 203.2 300.2 202.5 300.2 202.0 300.3 201.8 299.7 201.2 298.0 200.2 296.8 200.7 295.5 200.7 295.2 200.8 295.0 201.3 295.5 202.2 295.5 202.8 295.2 203.3 295.0 204.2 294.5 204.5 293.0 204.7 292.5 205.0 291.8 205.8 290.8 206.5 290.5 206.3 289.7 205.3 289.0 205.0 288.5 205.0 288.2 205.3 288.2 205.8 287.8 206.2 287.2 206.2 286.3 205.5 285.8 205.3 285.2 205.3ZM211.2 264.3 210.2 264.3 209.0 263.8 208.5 263.8 206.8 263.2 205.8 263.0 205.5 262.7 204.2 262.2 199.8 259.0 198.0 259.2 196.7 258.3 196.2 258.3 196.0 258.2 194.7 258.3 193.2 257.7 192.2 256.8 191.7 256.7 190.3 256.7 190.2 256.5 189.8 256.5 189.3 256.8 187.7 257.0 187.2 257.3 186.7 258.0 186.0 259.5 185.3 260.2 183.2 261.3 182.0 262.5 181.5 262.5 181.3 262.3 181.3 261.8 181.8 260.8 182.0 259.3 181.8 259.2 181.8 258.7 180.7 257.0 180.0 256.7 179.5 256.7 178.7 257.3 177.3 257.8 175.0 257.2 173.8 256.2 172.2 255.5 170.7 255.5 169.8 256.0 169.5 256.0 168.8 256.8 168.3 257.0 166.3 257.0 165.8 257.7 165.7 259.5 166.3 261.2 166.8 261.7 166.0 262.3 166.0 263.7 166.5 264.5 166.5 265.5 166.3 266.0 165.2 267.2 164.7 267.3 164.0 268.2 163.7 269.2 163.7 269.8 163.3 270.3 163.3 271.3 163.5 271.5 163.0 272.5 163.0 274.3 163.3 275.0 163.3 275.8 162.7 276.8 161.5 277.2 161.0 277.7 159.8 277.7 158.5 277.2 157.2 277.2 156.5 276.7 155.3 276.2 153.7 276.2 152.5 275.3 151.5 275.3 151.2 275.7 151.2 276.7 152.3 278.5 152.3 279.3 152.2 279.8 151.3 280.7 149.8 280.5 149.7 280.3 148.5 280.3 147.0 281.0 146.2 281.7 144.3 281.7 143.8 282.3 142.8 282.7 141.7 284.0 140.8 284.5 138.2 287.5 135.7 287.5 135.5 287.7 135.0 287.7 134.0 288.5 134.2 288.8 133.8 289.0 133.8 289.7 133.3 290.2 132.8 290.2 132.5 289.8 131.5 290.0 131.7 290.5 131.7 292.0 130.8 292.5 130.0 292.5 129.8 293.7 129.5 294.3 129.5 295.0 129.2 295.7 129.3 295.8 130.5 295.8 130.7 295.7 132.0 295.8 132.3 295.7 131.7 294.8 132.0 294.5 132.3 294.5 132.8 294.8 132.7 295.0 132.8 295.2 132.7 295.5 135.7 295.8 136.3 296.2 137.3 297.5 137.5 298.0 137.2 298.5 136.8 298.3 136.5 298.5 136.2 300.0 135.7 300.8 135.7 301.2 135.8 301.3 137.0 301.3 137.3 301.0 138.8 301.0 139.5 302.0 139.3 302.2 139.8 302.2 140.5 302.5 141.0 303.2 141.2 303.7 138.8 305.7 138.8 306.5 138.3 307.5 138.3 308.7 137.7 309.5 138.0 311.0 138.3 311.3 139.3 311.5 140.3 312.2 140.3 312.8 140.2 313.0 140.3 313.3 140.2 313.5 141.0 314.8 140.7 315.8 141.8 317.2 142.8 317.5 143.2 317.8 144.2 320.3 144.0 321.2 144.8 322.2 145.2 322.3 146.5 322.2 146.8 322.5 146.8 323.0 147.0 323.2 146.8 323.7 147.3 324.2 147.7 324.2 149.3 325.7 150.8 326.2 151.2 326.5 151.7 326.5 152.2 327.0 152.3 327.8 154.0 329.3 154.0 329.7 154.3 330.0 155.3 330.5 156.5 330.7 157.2 331.2 156.5 331.5 155.7 331.0 155.0 331.3 154.2 331.2 153.8 331.3 154.0 332.3 153.7 332.7 153.2 332.5 151.7 332.5 151.5 332.3 151.3 332.5 151.0 332.3 151.0 332.8 151.5 333.3 152.7 333.3 153.3 333.8 153.7 333.8 154.7 333.0 154.8 332.2 155.5 331.5 156.0 331.8 158.3 332.3 158.5 332.5 159.2 332.5 159.3 332.7 160.5 332.5 161.3 332.0 161.7 331.2 161.7 330.3 162.0 330.0 163.2 330.2 163.8 330.5 164.5 331.3 164.7 331.8 165.3 332.5 165.7 332.7 167.7 332.7 168.3 333.0 169.0 333.7 169.5 333.8 172.0 333.5 172.8 333.2 173.2 332.8 173.2 331.8 173.3 331.5 174.2 330.8 174.5 329.5 175.0 329.2 175.7 328.3 175.7 326.2 175.3 325.7 174.7 325.3 173.0 325.0 171.3 323.2 172.2 321.7 172.2 319.8 171.7 318.2 171.2 317.5 171.2 317.2 170.3 315.7 169.8 315.2 169.5 314.3 169.5 312.0 169.7 311.8 169.8 310.3 169.7 310.2 169.7 309.5 169.3 308.5 168.5 307.3 169.7 306.3 170.7 305.8 171.5 305.8 172.8 306.3 173.5 306.3 174.7 305.8 175.3 305.8 175.7 306.5 176.2 306.8 179.5 306.7 181.0 307.7 181.8 307.7 183.2 306.7 184.5 306.7 184.7 306.8 188.3 306.8 189.7 305.7 190.2 304.2 190.2 301.3 190.3 301.2 190.3 300.3 190.5 300.0 191.2 299.7 192.5 298.2 192.8 297.3 192.7 295.8 193.8 294.2 194.2 293.2 194.2 292.3 192.8 290.7 192.8 289.8 193.0 289.7 193.5 289.7 194.2 290.0 197.3 289.7 197.8 289.3 198.8 288.2 199.3 288.2 200.0 288.5 201.2 289.5 201.8 289.5 202.0 289.2 202.5 289.0 202.5 287.7 202.3 287.5 203.3 286.3 204.7 285.8 206.7 286.5 207.5 287.0 208.3 287.0 209.3 285.2 209.8 284.7 210.8 284.8 211.5 284.2 212.3 283.7 212.7 283.0 212.7 282.0 212.2 280.5 211.0 279.2 210.2 278.7 209.8 278.2 210.5 276.8 210.7 275.7 211.2 274.8 211.2 274.3 210.7 273.2 209.3 272.3 208.8 270.8 208.8 270.3 209.2 269.7 210.2 268.7 210.5 268.0 210.5 266.3 211.0 265.3ZM213.8 247.2 213.2 247.7 213.0 248.3 212.3 249.3 211.8 249.5 209.5 251.2 210.3 253.5 210.2 253.8 210.2 254.7 211.3 256.3 211.5 257.5 212.5 259.7 212.5 260.0 211.5 261.0 211.2 261.7 211.2 263.0 211.5 263.7 211.0 264.2 210.8 265.0 210.3 266.0 210.3 267.7 208.7 270.0 208.7 271.2 209.2 272.7 210.0 273.0 210.8 274.2 210.8 274.8 210.5 275.3 210.3 276.5 209.7 277.7 209.7 278.5 209.8 278.8 210.7 279.3 211.7 280.3 212.0 280.8 212.5 282.7 212.2 283.3 210.5 284.7 210.3 284.5 209.5 284.5 208.0 286.8 205.0 285.7 204.2 285.7 203.0 286.2 202.2 287.2 202.3 288.7 202.0 289.0 201.7 289.0 201.5 289.3 200.3 288.3 198.8 287.8 197.0 289.5 194.7 289.7 194.5 289.8 193.8 289.5 192.7 289.5 192.7 291.0 193.8 292.3 194.0 292.8 193.7 293.8 192.5 295.5 192.5 297.5 191.8 298.5 190.8 299.5 190.3 299.7 190.2 300.0 190.2 300.8 190.0 301.0 190.0 303.8 189.5 305.2 189.5 305.7 191.7 307.0 192.7 307.0 194.7 305.7 195.7 305.7 196.3 306.3 196.7 307.3 197.3 307.8 199.7 307.7 200.2 307.3 201.0 307.3 201.7 307.7 203.0 307.8 204.7 307.2 205.2 307.2 205.8 306.7 206.5 306.5 207.3 307.3 207.5 308.3 208.2 309.5 209.2 310.3 208.8 311.3 208.8 312.3 209.2 313.0 209.0 313.2 209.0 314.7 209.8 315.8 209.7 316.5 210.0 316.8 210.8 316.8 211.0 316.7 210.8 315.7 211.8 314.5 211.7 313.0 212.0 312.8 212.5 313.3 212.3 314.5 213.2 315.5 214.3 316.0 215.0 317.0 214.7 318.0 214.7 319.2 213.8 320.0 213.7 320.5 213.7 321.8 214.2 322.8 214.2 324.0 213.7 324.8 213.7 326.2 214.0 326.7 214.7 327.0 216.0 327.2 216.2 327.0 216.7 327.0 218.3 326.0 218.8 326.0 219.5 326.5 219.7 327.3 220.5 328.5 221.7 328.5 222.8 327.5 223.8 327.8 225.2 327.8 225.3 327.7 228.5 327.8 229.8 327.2 231.3 327.7 233.3 327.7 234.0 327.3 235.2 326.3 236.3 326.3 237.0 326.0 237.3 325.3 239.2 323.3 240.0 324.0 240.2 324.7 240.7 325.3 243.5 325.2 243.7 325.0 244.5 325.0 244.7 325.2 246.0 325.0 247.0 323.8 247.7 323.5 249.0 323.3 249.2 323.2 249.8 321.3 251.2 319.0 251.8 319.0 253.7 319.8 254.5 319.8 254.8 319.5 256.2 319.0 257.0 318.0 258.5 317.3 259.5 316.3 260.3 315.0 260.5 313.5 260.7 313.3 260.5 312.3 260.7 312.2 260.8 311.0 260.3 311.0 259.8 310.7 259.0 309.5 258.3 309.3 257.2 308.7 255.8 307.2 256.3 305.7 256.8 305.2 257.7 304.8 257.8 301.2 257.5 300.7 257.3 299.5 257.7 298.7 257.7 297.7 257.8 297.5 257.8 296.8 258.2 296.2 258.2 295.5 258.5 294.3 258.8 294.0 260.3 294.2 260.7 293.8 261.0 292.8 261.0 291.2 260.5 290.3 260.5 290.0 261.2 289.2 261.8 288.8 263.5 288.5 264.5 287.3 264.5 286.8 264.7 286.7 264.7 285.2 263.5 283.8 263.0 282.7 262.7 282.3 261.2 282.3 259.7 280.8 258.8 279.7 259.2 278.7 259.2 276.7 259.3 276.5 259.3 276.0 260.2 275.0 260.2 274.5 259.8 274.2 258.7 273.7 258.0 273.0 257.8 272.0 257.3 271.5 256.3 271.2 255.3 271.2 254.3 270.8 253.5 270.8 252.7 270.5 249.3 270.7 248.0 268.8 246.7 268.3 245.7 267.3 244.5 266.5 244.2 265.5 242.5 265.3 242.3 265.5 241.3 265.5 240.3 265.8 239.8 265.7 238.5 265.7 238.3 265.5 237.5 265.5 236.3 264.7 235.3 264.2 235.0 264.2 234.8 264.0 234.8 262.3 234.3 261.7 234.3 261.2 235.0 260.3 235.3 259.2 233.8 259.2 232.2 258.5 231.0 258.5 230.2 257.3 230.2 255.8 229.5 254.8 229.3 253.7 227.5 251.7 226.5 251.0 225.2 249.5 224.7 248.7 224.3 248.7 224.0 248.3 223.5 248.3 223.3 248.5 221.3 248.3 219.7 247.2 218.5 246.8 216.3 246.7 215.5 247.0ZM258.3 261.2 258.2 261.7 258.2 263.5 257.7 264.0 256.8 264.3 256.5 264.7 256.2 265.7 256.3 267.3 256.0 268.2 256.0 269.0 257.0 270.5 256.7 271.5 257.7 272.3 257.8 273.3 258.3 273.8 259.5 274.3 259.8 274.7 259.3 275.3 259.0 276.3 259.0 278.3 258.7 279.2 258.7 280.0 259.5 281.2 260.8 282.5 262.3 282.5 262.8 283.0 263.0 283.7 264.5 285.5 264.5 286.3 264.3 286.5 264.3 287.0 263.2 288.3 261.5 288.7 260.5 289.3 260.3 289.7 260.3 290.7 260.8 291.5 260.8 292.5 260.5 293.5 260.0 294.0 259.7 293.8 258.5 293.8 258.3 294.0 258.0 295.2 258.0 295.8 257.5 296.7 257.5 298.3 257.2 299.2 257.2 300.3 257.7 301.5 257.7 302.2 257.5 302.3 257.5 304.5 256.2 305.3 255.7 306.8 255.7 307.7 256.8 308.8 258.0 309.5 258.7 309.7 259.5 310.8 260.5 311.3 260.5 311.8 260.3 312.0 260.3 314.3 261.7 314.8 263.7 314.7 264.2 314.8 264.7 315.3 265.0 316.2 264.8 318.7 265.0 319.0 266.0 319.7 267.0 320.8 267.3 321.0 268.7 321.0 268.8 321.2 272.3 321.2 274.0 319.7 276.7 319.7 277.7 319.2 278.3 319.2 278.5 319.3 278.3 320.0 277.5 321.0 277.5 323.0 278.0 324.7 276.8 326.8 276.7 328.5 277.7 330.2 278.0 331.2 278.0 333.0 278.7 333.8 279.3 333.8 279.5 334.0 280.8 333.8 281.0 333.7 282.0 333.8 282.7 334.5 283.7 334.8 284.5 336.0 285.3 336.5 285.7 336.5 287.7 338.7 288.7 339.3 289.5 339.3 290.7 338.8 292.2 337.7 292.5 337.0 292.3 334.5 292.7 334.0 293.0 333.8 293.7 333.8 293.8 334.0 295.3 333.8 296.5 332.3 298.0 331.7 299.0 331.7 299.2 331.5 300.8 331.3 301.2 331.2 301.7 330.5 302.3 330.2 303.8 330.2 304.0 330.0 306.0 330.2 306.5 329.8 306.7 329.3 307.3 328.5 308.7 327.3 309.2 327.3 309.7 327.8 310.7 328.2 312.2 328.3 312.5 328.2 312.8 327.5 314.2 326.3 314.8 326.7 316.0 328.0 317.3 328.3 318.5 329.7 320.3 331.0 321.0 331.0 321.8 330.3 322.5 330.2 323.5 331.3 324.0 331.7 325.0 331.7 326.7 329.7 327.3 329.2 328.3 328.8 329.3 328.8 330.7 330.0 331.0 329.8 331.5 329.0 331.8 328.8 333.0 326.8 333.2 325.2 333.5 324.5 333.0 323.5 333.3 322.5 333.3 321.3 333.5 321.2 333.8 321.5 334.2 321.5 334.3 321.0 333.5 320.3 333.7 319.5 334.0 319.2 335.0 319.2 335.3 318.8 335.7 317.8 336.2 317.3 336.8 317.3 337.3 317.8 337.8 317.8 338.3 317.5 338.7 316.5 339.5 315.8 339.8 314.8 340.8 314.0 341.2 313.3 341.0 312.3 341.8 311.2 341.7 309.8 342.5 309.2 342.3 307.8 343.0 307.0 343.0 306.5 343.3 305.8 343.8 305.3 344.8 304.8 345.7 304.7 346.0 304.0 347.2 303.2 347.3 302.5 347.8 302.2 348.3 300.8 348.8 300.3 349.5 299.0 349.5 298.7 349.8 298.2 350.5 297.7 350.3 297.2 351.7 296.2 351.8 294.3 352.7 293.3 352.8 292.8 352.7 291.8 353.2 290.8 353.0 290.0 353.5 289.2 353.7 288.5 354.2 287.8 353.8 287.2 354.2 285.0 353.3 283.3 353.7 282.3 353.7 281.3 353.8 281.2 353.8 278.7 353.7 278.5 352.7 278.3 352.2 277.5 351.3 276.8 350.3 276.5 348.2 276.5 348.0 276.3 348.2 275.5 347.5 275.5 346.5 276.2 345.2 275.7 343.7 275.7 342.8 275.0 342.8 274.7 341.8 273.0 341.7 271.3 341.2 270.8 340.2 270.8 339.8 271.0 338.8 272.0 338.7 272.5 338.0 273.2 336.3 273.2 335.7 273.5 333.0 276.3 332.3 276.2 332.0 276.5 332.0 277.0 331.3 277.7 330.8 277.5 330.5 277.0 330.5 276.3 331.0 275.7 331.0 275.0 330.0 274.3 327.8 274.2 327.0 273.8 325.8 273.8 325.2 274.2 325.0 274.0 323.3 274.0 321.7 275.5 321.3 277.2 320.3 278.5 320.2 279.2 319.8 279.3 319.7 279.7 319.7 281.0 319.5 281.2 319.5 282.0 319.2 283.0 318.5 283.7 316.0 284.2 315.3 285.0 314.8 285.3 314.0 287.0 313.7 287.2 313.3 286.8 311.8 286.2 310.3 284.3 310.0 283.7 310.5 282.8 310.5 281.7 309.8 281.0 308.7 280.5 307.3 280.5 306.3 280.2 305.5 280.2 303.8 281.2 303.2 280.7 303.0 280.0 302.2 280.0 301.8 280.3 301.5 280.3 300.5 279.8 299.7 279.7 297.8 278.0 297.7 277.7 297.7 276.5 297.2 275.5 296.2 274.5 294.5 273.5 293.8 273.5 292.8 274.0 292.5 274.3 292.5 274.7 291.7 276.0 290.5 277.2 289.5 277.2 288.0 276.5 286.7 276.5 286.0 277.2 285.2 277.2 284.5 276.7 283.7 274.8 283.0 274.2 281.7 273.8 280.2 272.8 279.0 272.7 278.0 271.5 277.7 270.5 276.7 270.2 276.2 269.7 276.0 269.2 275.2 268.3 273.7 267.7 272.7 267.0 270.3 266.5 269.8 266.0 269.5 265.2 269.5 264.5 270.5 263.3 270.5 262.3 270.0 261.8 269.7 261.8 269.0 261.2 268.7 259.3 268.3 259.3 267.2 260.0 266.8 260.0 265.8 260.7 264.8 261.0 261.8 261.0 261.7 261.2 261.5 261.0 261.0 261.0 260.3 260.5 259.0 260.5ZM302.8 326.7 303.3 326.8 304.2 328.0 304.2 329.3 304.0 329.5 303.2 329.5 302.8 329.3 302.3 328.7 302.3 328.2ZM206.8 306.3 205.8 306.3 204.8 307.0 204.3 307.0 202.7 307.7 201.3 307.2 199.8 307.2 199.3 307.5 198.0 307.5 197.7 307.7 196.8 307.0 196.5 306.0 196.0 305.5 195.5 305.5 195.3 305.3 194.3 305.5 192.3 306.8 191.3 306.5 190.0 305.5 189.2 305.5 188.0 306.7 182.8 306.5 181.8 307.3 181.3 307.5 179.8 306.5 176.5 306.7 175.8 306.2 175.7 305.5 174.3 305.7 173.2 306.2 171.8 305.7 170.3 305.7 169.8 305.8 168.3 307.0 168.3 307.7 169.0 308.5 169.5 309.8 169.3 314.7 169.7 315.5 170.2 316.0 171.0 317.5 171.0 317.8 171.5 318.5 172.0 320.2 172.0 321.3 171.2 322.7 171.2 323.5 172.7 325.2 174.3 325.5 175.0 325.8 175.5 326.5 175.5 328.0 175.3 328.3 174.3 329.2 174.0 330.5 173.2 331.2 173.0 331.5 173.0 332.5 172.2 333.2 169.8 333.7 169.3 333.5 168.7 332.8 168.0 332.5 166.0 332.5 164.8 331.5 164.2 330.3 163.5 330.0 161.8 329.7 161.5 330.0 161.5 330.8 161.2 331.7 160.2 332.3 158.8 332.3 158.0 332.0 157.3 332.0 155.8 331.3 155.2 331.3 154.7 331.8 154.5 332.7 153.7 333.5 153.2 333.7 153.8 334.5 153.7 334.7 153.8 335.2 154.8 335.0 156.0 335.7 156.5 335.5 157.2 335.7 158.3 336.5 158.3 337.0 159.2 337.8 160.2 338.3 159.5 339.3 159.2 339.3 158.8 338.8 158.5 338.7 157.8 338.7 157.3 340.0 156.3 341.0 155.7 341.0 155.5 340.8 154.3 341.5 154.3 342.0 154.5 342.2 154.3 342.3 154.5 342.8 155.3 343.5 156.2 344.7 156.7 345.7 156.7 346.3 157.5 347.0 157.5 347.3 157.2 347.8 158.5 350.3 158.2 351.0 158.3 351.2 158.3 352.0 158.0 352.3 158.0 352.7 158.2 352.8 158.7 352.8 158.7 352.7 159.3 352.2 160.2 352.2 160.5 352.3 161.0 353.0 160.3 353.8 160.3 354.3 161.3 355.0 161.8 356.2 162.3 356.3 164.5 359.0 165.5 359.3 166.2 360.0 165.8 360.3 165.7 361.0 167.0 362.8 166.8 363.2 166.8 364.2 167.3 364.7 167.7 364.7 168.3 365.3 168.5 366.3 169.5 368.0 169.7 369.8 169.8 370.2 170.2 370.3 169.7 371.0 169.3 370.8 168.5 370.8 167.8 370.3 167.8 369.8 168.3 369.2 168.2 369.0 168.2 368.2 168.0 367.8 167.3 367.7 167.0 367.3 166.8 366.5 166.5 366.0 165.5 365.2 165.5 364.5 165.0 363.5 165.0 363.2 163.2 360.7 163.3 359.7 162.5 358.5 161.7 358.8 161.0 358.0 160.8 358.3 160.3 358.5 159.8 359.0 159.7 359.5 159.2 360.0 158.8 360.7 159.0 360.8 158.8 361.0 159.0 361.8 159.8 362.0 160.0 362.3 159.7 362.7 159.2 362.7 158.8 363.3 157.7 364.3 157.7 365.5 158.0 366.0 158.0 366.5 157.5 367.0 157.5 367.5 156.8 369.0 156.8 370.3 157.2 370.8 157.2 371.2 157.5 371.5 157.3 372.0 156.5 372.5 156.3 374.2 155.8 374.7 155.8 375.3 156.3 376.3 156.3 377.3 156.0 378.0 156.2 378.8 155.8 379.3 155.8 380.0 156.2 380.3 156.5 381.2 156.3 381.7 155.7 382.5 155.7 382.7 156.5 383.0 156.8 383.3 156.8 384.5 157.5 385.8 157.5 386.3 158.8 387.7 158.8 388.0 158.2 388.7 157.8 388.5 157.5 388.7 156.7 389.8 156.7 391.2 155.8 391.8 156.0 392.0 156.0 392.5 155.0 393.8 155.3 395.0 155.2 395.5 153.5 398.0 153.8 398.5 153.8 398.8 154.5 399.7 154.0 400.2 153.5 400.3 153.0 401.7 153.0 402.3 152.7 402.8 152.8 403.0 153.3 403.0 153.7 403.3 153.7 404.0 153.2 404.5 153.3 405.7 152.2 407.0 152.5 408.8 151.8 410.2 151.8 410.5 151.5 410.7 151.3 411.2 151.3 412.7 150.3 413.8 150.5 415.5 149.3 416.3 149.3 417.3 149.5 417.5 149.3 417.7 149.8 418.3 149.8 419.0 148.7 420.3 148.7 420.7 149.2 421.2 149.3 422.7 148.8 423.2 148.5 423.2 147.8 423.7 147.7 424.3 147.0 425.2 147.2 425.5 147.0 426.0 146.2 426.5 145.2 426.5 144.3 427.7 143.3 428.7 142.7 428.8 142.2 429.3 142.2 430.0 141.8 430.5 141.3 430.5 140.5 430.2 140.2 430.3 139.8 430.8 140.3 430.5 140.8 431.3 142.3 431.8 143.2 432.7 144.0 433.2 144.3 433.2 145.5 434.0 146.0 434.2 146.5 434.0 147.8 434.0 148.7 434.8 148.8 435.8 149.7 436.3 149.7 437.0 149.3 437.7 148.2 439.0 148.0 439.8 148.3 440.3 147.8 441.0 147.8 441.7 148.7 442.8 149.0 442.5 149.7 442.5 150.3 443.0 151.3 443.0 151.5 443.2 151.8 443.0 152.3 443.2 153.3 443.8 153.5 443.7 154.0 443.8 154.8 443.2 155.0 443.3 155.7 443.3 157.3 444.3 160.2 444.7 160.8 445.3 161.7 446.7 162.8 447.3 163.3 448.2 164.3 448.3 166.0 450.5 167.3 450.8 168.0 451.5 168.2 452.2 168.3 452.2 168.5 452.5 169.3 452.3 171.0 451.2 171.8 451.0 172.7 450.3 173.0 450.5 173.2 450.3 173.5 450.5 174.7 450.5 175.2 451.2 175.8 451.2 176.0 451.0 176.2 451.2 177.3 451.2 177.7 451.5 177.3 452.0 177.3 452.5 177.8 452.3 179.2 450.8 179.5 450.0 179.5 448.7 180.8 446.8 181.2 445.7 181.0 444.0 181.3 443.7 181.3 443.2 181.0 442.5 181.0 441.8 181.8 440.7 182.3 439.0 183.3 438.0 183.8 438.3 185.0 438.3 185.2 438.0 185.2 437.3 184.8 436.8 184.2 436.5 184.2 435.8 184.5 435.2 184.5 433.3 185.2 432.0 185.8 431.5 185.8 431.0 185.5 430.5 185.3 429.3 184.0 428.2 183.5 427.0 183.3 426.0 182.7 425.5 182.0 425.7 181.7 425.3 181.0 423.0 181.7 421.5 182.2 418.8 182.8 418.2 183.8 418.2 184.7 418.5 185.5 418.3 185.5 417.2 185.2 416.7 183.7 416.8 183.2 416.2 183.8 415.3 184.3 414.2 184.8 413.7 185.8 413.2 186.3 412.3 186.2 410.2 186.3 410.0 186.5 408.8 187.2 408.0 187.5 408.0 188.7 408.8 189.3 409.7 189.7 411.3 191.0 412.0 192.7 412.0 194.2 410.2 195.0 409.8 195.8 409.8 196.8 411.0 197.5 411.2 198.7 410.7 199.3 410.2 200.8 410.0 201.8 409.2 203.7 410.8 204.5 411.0 204.7 410.8 205.8 410.7 206.7 409.2 207.7 408.3 208.0 407.7 208.0 407.0 207.5 405.7 208.7 404.3 209.0 403.5 210.0 402.7 210.3 402.7 211.7 401.8 214.5 399.0 214.5 398.0 214.2 397.7 213.7 397.7 212.7 397.2 211.8 396.3 211.5 395.7 211.5 395.2 211.8 394.3 211.8 392.8 211.7 392.3 210.8 391.3 210.8 390.3 211.7 389.0 211.7 388.0 212.7 386.3 212.8 385.3 213.2 384.7 213.7 384.3 215.7 384.3 216.8 383.5 217.5 382.2 217.5 380.2 217.3 379.7 217.5 379.5 217.5 378.7 217.8 377.5 218.7 376.8 219.0 377.2 219.5 378.7 220.3 379.5 220.8 379.7 222.2 379.7 224.2 380.3 224.8 380.3 226.2 379.5 226.8 379.5 227.0 379.7 229.0 379.7 230.0 379.0 230.7 379.0 231.5 379.5 232.2 379.5 233.2 378.7 235.3 378.0 236.2 378.8 237.2 379.0 237.7 379.8 238.3 380.5 239.3 380.5 239.7 380.3 241.2 378.7 241.8 378.3 242.8 377.3 243.2 377.2 244.8 377.3 245.8 376.8 246.0 376.3 245.8 375.5 244.7 373.7 244.5 371.8 242.8 370.0 242.5 369.3 242.8 368.3 242.8 365.8 242.7 365.7 242.7 365.2 243.2 364.8 243.8 364.8 246.5 364.0 247.2 363.5 249.8 362.3 250.0 362.0 249.3 360.0 248.5 359.5 247.3 359.2 247.2 358.8 247.3 358.7 247.2 357.7 246.8 357.0 245.8 355.8 245.7 355.3 245.7 354.0 245.2 353.0 245.2 352.2 245.3 351.8 246.3 350.8 247.3 350.5 247.8 349.8 247.7 348.0 248.2 347.5 249.7 347.0 250.3 346.3 250.7 345.5 250.3 343.5 249.3 342.5 249.2 342.0 249.5 341.5 249.5 340.3 248.5 339.0 248.3 338.5 248.5 337.7 248.8 337.2 248.8 336.7 248.2 335.7 246.5 334.2 245.8 333.8 244.8 333.7 244.3 333.3 243.7 332.3 243.5 331.5 242.7 331.3 241.8 330.8 240.2 329.2 239.5 327.8 238.3 326.7 237.3 326.2 237.2 325.8 236.5 325.8 236.0 326.2 234.8 326.2 233.7 327.2 233.0 327.5 231.7 327.5 230.2 327.0 229.5 327.0 228.2 327.7 227.2 327.7 227.0 327.5 225.0 327.5 224.8 327.7 224.2 327.7 223.5 327.3 222.5 327.3 221.3 328.3 220.8 328.3 220.3 327.8 219.8 327.0 219.7 326.2 219.2 325.8 218.0 325.8 216.3 326.8 215.0 326.8 214.3 326.5 213.8 325.8 213.8 325.2 214.3 324.3 214.3 322.5 213.8 321.5 213.8 320.8 214.0 320.3 214.8 319.5 214.8 318.3 215.2 317.5 215.2 316.7 214.7 315.8 213.5 315.3 212.7 314.3 212.8 313.3 212.3 312.7 211.5 312.7 211.5 314.3 210.7 315.3 210.7 316.5 210.3 316.7 210.0 316.3 210.0 315.5 209.2 314.3 209.3 312.7 209.0 311.7 209.3 311.0 209.3 310.0 208.3 309.2 207.7 308.0 207.5 307.0ZM236.8 325.7 237.0 326.3 238.0 326.8 239.3 328.2 240.0 329.5 241.5 331.0 243.3 331.8 243.5 332.7 244.0 333.5 244.5 333.8 245.5 334.0 246.2 334.3 248.0 336.0 248.5 336.8 248.0 338.5 248.3 339.0 248.3 339.3 249.3 340.7 249.3 341.2 249.0 341.7 249.0 342.3 249.2 342.8 250.2 343.8 250.2 344.5 250.3 344.7 250.3 345.7 250.2 346.0 249.3 346.8 248.2 347.2 247.5 347.7 247.5 349.2 247.7 349.3 247.5 349.8 247.0 350.3 246.0 350.7 245.2 351.5 244.8 352.3 245.0 353.3 245.5 354.3 245.5 355.7 245.7 356.2 246.7 357.3 247.0 358.0 247.0 359.2 247.2 359.5 248.2 359.7 249.2 360.3 249.7 361.5 249.7 362.0 246.8 363.3 246.2 363.8 244.2 364.5 242.8 364.7 242.3 365.0 242.7 366.2 242.7 368.0 242.3 368.8 242.3 369.7 242.7 370.3 244.3 372.2 244.5 374.0 245.7 375.8 245.7 376.5 245.0 377.0 242.8 377.0 242.5 377.2 241.5 378.2 240.8 378.5 240.5 379.0 239.0 380.3 238.7 380.3 237.8 379.5 237.5 378.8 237.2 378.7 236.2 378.7 236.3 379.7 237.0 380.8 236.8 381.3 236.3 381.8 236.3 382.8 237.2 384.0 237.2 385.7 237.7 386.3 238.8 386.3 241.5 385.5 242.0 385.7 242.7 386.3 243.0 387.0 244.2 387.2 245.3 387.7 247.0 387.7 248.2 388.2 251.7 387.8 252.8 387.3 254.5 387.3 255.3 386.8 256.0 386.8 256.7 387.3 258.0 387.3 258.3 386.7 258.3 385.7 258.8 384.5 261.0 382.3 262.2 382.0 262.7 381.5 262.8 380.0 263.0 379.8 263.0 379.2 262.7 378.0 262.8 377.7 263.5 377.2 265.0 379.2 266.2 379.2 267.8 380.8 268.7 381.3 270.5 383.3 272.3 384.7 272.7 384.7 273.3 385.2 274.3 385.3 275.5 384.8 276.0 384.0 276.7 383.5 277.5 382.5 277.8 382.8 278.0 384.0 278.7 384.7 280.8 384.7 281.3 385.0 281.7 385.8 281.7 388.2 282.5 389.0 283.5 389.5 284.5 390.7 284.0 391.8 284.2 393.8 283.7 394.3 283.3 395.3 283.2 397.5 283.0 397.7 283.2 398.5 284.0 399.2 285.3 399.0 287.2 398.3 288.8 398.5 293.5 400.3 294.5 401.7 295.7 402.3 296.8 402.3 298.7 403.2 301.0 403.2 302.7 404.3 303.7 404.2 304.0 403.8 304.0 403.5 304.3 403.0 304.3 402.3 304.7 402.0 305.0 402.0 306.8 403.7 307.3 404.7 308.8 405.5 310.0 405.5 311.0 405.2 312.3 405.2 313.2 404.8 314.8 404.7 315.2 404.5 316.7 402.8 316.8 403.0 318.5 402.8 318.8 403.2 318.8 403.5 318.3 404.0 318.3 404.8 318.8 405.3 319.7 405.3 320.0 405.2 321.0 403.8 321.5 403.8 323.2 404.5 324.7 404.5 325.5 402.3 325.7 401.0 324.8 400.0 324.5 398.3 323.8 397.7 323.8 395.3 322.2 393.5 321.3 393.5 320.2 394.3 319.7 394.2 319.2 393.3 319.8 392.2 321.0 391.2 323.0 390.8 323.7 389.5 324.3 388.8 325.3 388.2 326.3 388.2 326.7 388.0 327.3 387.0 327.7 386.8 328.8 386.8 330.2 385.7 331.3 385.0 333.0 385.0 333.8 384.3 334.7 382.5 335.7 381.7 335.8 381.2 336.7 380.3 339.0 379.8 339.3 379.5 339.3 377.8 339.2 377.7 339.0 376.2 339.3 375.2 339.8 374.5 340.5 374.5 341.5 373.7 342.0 373.5 342.3 373.7 343.5 375.0 343.8 375.2 344.7 375.0 345.3 374.5 346.3 373.2 346.7 372.3 347.5 371.5 348.2 371.5 348.7 372.0 349.0 373.2 349.3 373.5 351.2 373.8 352.0 373.0 351.8 372.0 352.0 371.5 352.7 370.8 352.5 370.0 354.0 369.5 354.5 369.7 355.2 369.3 355.8 368.7 356.3 368.7 356.7 367.8 357.7 367.0 357.7 366.7 358.5 365.8 358.3 365.3 358.7 364.5 359.2 364.2 359.5 363.5 359.3 363.3 359.5 363.2 359.3 362.2 359.8 361.0 359.3 360.7 359.0 360.7 358.7 360.2 359.3 359.3 359.3 358.8 359.0 358.0 358.2 357.2 358.2 356.8 358.5 356.3 358.5 355.5 358.0 355.2 357.3 355.2 356.5 354.7 356.3 354.3 356.5 353.5 355.7 352.0 355.5 350.7 355.0 350.3 354.7 350.3 354.5 350.0 353.5 349.7 352.7 348.8 352.5 348.2 351.7 347.3 351.7 346.7 352.0 346.0 353.5 344.3 354.0 341.8 355.0 341.5 355.0 339.8 355.3 339.2 355.0 339.2 354.7 338.8 354.0 338.7 353.7 338.3 353.5 337.5 352.3 336.5 352.2 335.2 351.7 334.5 351.7 334.0 350.5 332.7 350.5 332.0 350.0 331.0 349.5 328.8 349.0 328.3 349.2 328.2 349.0 327.8 349.2 327.7 349.3 327.8 348.0 325.7 347.7 325.8 347.5 326.5 347.0 326.8 347.0 327.3 346.8 327.5 346.7 327.0 346.2 326.5 345.5 326.7 344.8 327.5 344.0 327.5 343.0 326.8 342.5 326.8 342.3 327.0 342.2 326.8 341.5 326.8 341.0 327.2 340.2 327.3 340.0 327.5 340.2 327.7 339.2 328.7 339.2 329.5 338.5 330.0 337.7 330.2 337.5 331.5 337.0 331.8 336.3 331.8 335.5 332.7 335.3 333.2 334.8 333.7 334.3 333.5 333.5 332.8 332.3 332.8 331.8 333.2 330.8 333.2 329.7 332.8 329.3 332.5 329.5 332.3 329.3 332.2 330.3 331.8 330.3 330.7 331.0 329.8 329.7 328.7 329.2 328.5 327.0 329.0 326.3 329.5 324.7 331.5 324.0 331.3 322.8 330.0 321.8 330.0 320.7 330.8 318.8 329.5 317.7 328.2 316.3 327.8 315.2 326.5 314.5 326.2 313.7 326.2 312.7 327.2 312.5 327.7 311.8 328.2 310.0 327.7 309.5 327.2 308.3 327.2 307.2 328.2 306.0 329.8 305.2 330.0 304.8 329.8 304.3 329.2 304.3 327.7 304.0 327.0 302.8 326.2 302.2 326.0 302.2 326.7 302.5 327.2 302.2 327.8 302.2 329.0 302.5 329.5 303.7 329.8 303.5 330.0 302.0 330.0 301.3 330.3 300.8 331.0 300.0 331.3 298.8 331.3 298.7 331.5 297.2 331.7 296.2 332.2 295.7 333.0 295.0 333.7 294.5 333.8 294.0 333.7 292.7 333.7 292.3 333.8 292.2 334.2 292.2 336.0 292.3 336.2 292.3 336.7 292.0 337.3 290.3 338.7 289.2 339.2 288.0 338.5 286.0 336.3 285.7 336.3 284.8 335.8 284.0 334.7 283.0 334.3 282.3 333.7 282.0 333.5 279.0 333.7 278.3 333.0 278.2 332.7 278.2 330.8 277.8 329.8 276.8 328.2 276.8 327.7 278.2 325.0 278.2 324.3 277.7 322.7 277.7 321.3 278.7 320.0 278.7 318.8 277.3 319.0 276.3 319.5 274.7 319.5 274.2 319.3 273.7 319.5 272.0 321.0 267.7 320.8 267.3 320.7 266.3 319.5 265.2 318.7 265.0 318.3 265.2 315.8 264.8 315.0 264.0 314.5 262.0 314.7 260.8 314.2 260.3 314.2 259.8 315.3 258.2 317.2 256.7 317.8 255.8 318.8 255.2 319.0 254.2 319.7 252.2 318.8 250.8 318.8 249.7 321.0 249.0 322.8 248.7 323.2 248.0 323.2 246.7 323.7 245.7 324.8 245.2 325.0 244.8 324.8 243.3 324.8 243.2 325.0 241.5 325.0 241.0 325.2 240.5 324.7 240.2 323.7 239.7 323.2 238.8 323.2 237.2 325.0ZM218.3 376.5 217.7 377.2 217.3 379.2 217.2 379.3 217.3 381.8 216.7 383.2 216.0 383.8 215.3 384.2 213.3 384.2 213.0 384.3 212.7 385.0 212.5 386.0 211.5 387.7 211.5 388.7 210.7 390.0 210.7 390.5 210.5 390.7 210.7 391.7 211.2 392.2 211.7 393.2 211.7 394.0 211.3 394.8 211.3 396.0 211.7 396.7 212.8 397.7 213.8 397.8 214.3 398.3 214.3 398.7 211.3 401.7 210.0 402.5 209.7 402.5 208.8 403.2 208.5 404.0 207.3 405.3 207.3 406.2 207.8 407.3 207.5 408.0 206.5 408.8 205.8 410.2 205.0 410.7 204.0 410.7 203.7 410.5 202.2 408.8 201.7 408.8 200.8 409.7 200.0 410.0 199.0 410.0 197.7 410.8 197.2 410.8 196.2 409.7 194.7 409.7 193.8 410.0 193.2 411.0 192.3 411.8 191.3 411.8 190.2 411.3 189.8 411.0 189.5 409.3 189.0 408.7 187.8 407.8 187.0 407.7 186.3 408.5 186.2 409.7 186.0 409.8 186.2 412.0 185.5 413.0 185.0 413.2 184.2 413.8 183.7 415.0 183.0 415.8 183.0 416.7 183.3 417.0 184.7 417.0 184.8 416.8 185.3 417.5 185.3 418.0 185.2 418.2 182.5 418.0 182.0 418.5 181.5 421.2 180.8 422.7 180.8 423.7 181.7 426.0 182.7 425.8 183.2 426.3 183.3 427.3 183.8 428.5 185.2 429.7 185.5 431.3 185.0 431.7 184.3 433.0 184.3 434.8 183.8 436.2 183.8 436.7 184.5 437.0 185.0 437.7 184.7 438.2 184.2 438.2 183.7 437.8 183.0 437.8 182.2 438.7 181.7 440.3 180.7 442.0 180.7 442.5 181.0 443.0 181.0 443.5 180.7 444.2 180.7 444.7 180.8 444.8 180.7 446.5 179.3 448.3 179.3 449.7 179.0 450.5 178.5 451.2 177.3 452.2 177.3 452.7 177.7 452.8 179.5 452.8 180.0 452.5 180.3 452.5 180.7 452.8 180.7 453.3 180.3 453.8 180.3 454.5 181.2 455.0 182.5 455.3 183.2 456.0 184.7 455.8 185.2 456.3 185.8 456.3 186.8 456.7 187.2 456.5 187.3 456.0 187.8 455.5 188.2 455.8 188.3 456.5 189.8 456.5 190.5 456.8 191.5 456.8 191.7 457.0 191.8 456.7 193.5 455.8 194.2 455.8 194.5 456.2 195.3 456.2 195.5 456.0 196.3 456.0 196.7 455.8 197.2 456.2 197.0 456.5 197.2 457.0 198.5 456.8 198.7 456.7 198.5 456.5 198.8 456.2 199.0 456.3 199.5 456.2 200.0 456.8 200.0 457.2 200.3 457.3 200.7 456.8 200.8 457.0 201.2 457.0 201.5 456.7 202.0 456.8 202.2 456.5 201.5 455.8 201.7 455.7 201.5 455.5 201.3 453.5 201.0 453.0 202.0 451.3 202.3 451.2 202.2 451.0 203.3 450.5 206.7 450.7 207.2 451.0 207.2 451.2 206.7 451.5 206.7 452.2 206.8 452.3 207.5 452.5 208.2 452.0 209.2 452.0 209.5 452.2 210.0 453.0 210.8 453.5 210.7 454.0 211.3 455.0 212.0 455.0 212.5 455.3 212.7 455.2 214.8 455.3 215.8 456.3 216.8 456.5 217.8 457.3 219.0 457.3 219.8 457.7 220.5 457.7 221.0 457.8 221.7 458.5 222.8 458.5 223.0 458.8 224.0 459.7 226.5 460.2 227.3 461.2 228.0 461.2 228.3 461.5 228.3 462.2 229.0 462.5 229.7 463.3 230.7 463.5 231.7 464.5 232.3 464.5 233.0 465.2 233.0 466.0 233.2 466.2 233.7 466.2 235.3 467.7 237.2 467.3 237.8 466.8 240.2 467.0 241.0 465.8 241.3 465.7 242.2 465.7 242.3 466.0 243.5 466.0 243.8 466.3 244.5 466.3 244.7 466.5 245.2 466.0 245.8 466.3 246.0 467.2 246.3 467.0 246.5 467.3 246.8 467.0 247.0 467.2 247.3 467.0 248.2 467.5 249.3 467.7 250.0 468.2 250.5 468.0 251.8 468.5 252.7 467.3 253.5 467.2 254.7 466.5 255.3 466.3 255.7 465.5 255.8 465.7 257.2 465.2 257.7 464.5 257.7 464.0 258.2 463.5 258.5 463.5 258.7 463.8 259.0 464.0 259.8 464.0 260.3 463.7 260.5 463.2 261.0 462.8 261.8 464.0 262.0 463.8 262.5 463.8 263.2 464.2 263.3 464.5 263.8 464.7 263.5 464.2 263.5 463.5 263.3 463.3 263.5 462.0 262.8 460.7 262.7 459.2 262.2 458.5 260.8 458.2 260.5 457.7 260.5 457.3 261.0 456.8 261.2 456.2 261.0 455.8 260.7 455.8 260.3 455.5 260.2 455.0 260.2 454.3 260.0 454.2 260.3 453.5 260.2 453.3 260.3 453.2 260.2 451.7 259.2 451.5 258.8 451.2 259.2 450.7 260.0 450.3 260.0 449.7 259.8 449.7 259.7 449.3 260.2 448.0 259.2 447.2 259.2 446.3 259.7 445.7 259.7 444.8 259.8 444.7 259.7 444.2 260.5 443.0 260.3 441.5 260.7 441.2 262.2 441.3 262.8 441.0 263.3 441.0 264.0 440.7 264.2 439.8 264.5 439.3 264.8 439.2 265.7 439.2 266.7 438.3 268.8 438.2 269.5 437.5 270.0 437.3 270.8 437.8 271.0 437.7 271.2 437.8 272.8 436.5 273.7 435.5 274.2 435.5 275.2 434.8 275.8 434.0 276.0 434.2 276.5 434.0 277.3 433.3 277.8 433.7 277.8 434.7 278.0 434.8 278.8 434.7 279.7 432.7 280.3 432.3 281.2 432.3 282.0 431.5 282.2 431.0 282.8 430.7 283.5 430.0 283.8 429.8 284.5 429.8 284.7 430.0 285.0 429.8 285.2 429.5 285.2 428.8 285.0 428.7 285.7 427.8 286.0 427.8 286.3 427.3 286.8 427.7 287.5 427.7 288.0 427.2 289.3 427.0 289.5 427.2 289.5 428.5 290.3 428.5 290.5 428.3 291.5 428.7 292.2 429.8 292.5 429.8 292.8 429.3 293.3 429.0 293.7 429.2 294.2 429.0 295.2 428.0 295.7 427.0 295.5 425.7 294.7 424.7 294.7 424.3 295.2 423.8 297.0 423.0 297.3 422.7 297.7 421.8 297.3 420.3 296.8 419.5 296.8 419.0 297.3 418.0 297.3 416.8 298.0 416.3 299.0 416.2 300.3 416.8 302.0 417.0 302.7 417.8 303.3 418.0 304.8 416.7 305.3 416.5 305.8 415.2 305.8 414.0 305.3 413.8 304.0 412.5 303.2 411.3 303.3 409.0 303.0 408.7 301.3 408.7 301.0 408.5 300.5 407.8 300.5 406.0 300.7 405.5 301.2 405.0 302.3 404.5 302.5 403.8 301.3 403.0 299.0 403.0 297.2 402.2 296.0 402.2 294.8 401.5 294.2 400.8 293.8 400.2 289.2 398.3 286.8 398.2 284.3 399.0 284.0 398.8 283.3 398.2 283.3 396.3 283.8 394.7 284.5 393.8 284.2 392.2 284.7 391.2 284.7 390.3 283.8 389.3 282.8 388.8 281.8 387.8 281.8 385.5 281.5 384.7 281.2 384.5 279.0 384.5 278.2 383.7 278.0 382.5 277.8 382.3 277.2 382.3 277.0 382.7 275.8 383.7 275.2 384.7 274.5 385.0 273.7 385.0 273.3 384.7 272.7 384.5 270.8 383.2 269.0 381.2 268.2 380.7 266.3 378.8 265.3 379.0 263.7 376.8 263.2 376.8 262.5 377.7 262.5 378.7 262.8 379.5 262.7 379.7 262.5 381.2 261.8 381.8 260.7 382.2 258.7 384.2 258.2 385.3 258.2 386.3 257.7 387.2 257.0 387.2 256.3 386.7 255.0 386.7 254.2 387.2 252.5 387.2 251.3 387.7 248.5 388.0 247.3 387.5 245.7 387.5 244.5 387.0 243.3 386.8 242.8 386.0 242.3 385.5 241.8 385.3 241.0 385.3 239.2 386.0 238.0 386.2 237.3 385.3 237.3 383.7 236.5 382.5 236.5 382.2 237.2 381.3 237.2 380.5 236.5 379.3 236.3 378.5 235.7 377.8 234.7 377.8 233.7 378.2 233.2 378.5 232.8 378.5 231.8 379.3 230.7 378.7 230.2 378.7 228.7 379.5 225.8 379.3 224.5 380.2 222.5 379.5 221.2 379.5 220.7 379.3 219.7 378.3 219.2 376.8 218.8 376.5ZM376.0 401.5 375.7 401.2 374.8 401.2 374.2 401.8 371.3 402.0 370.2 402.5 368.0 402.5 367.8 402.3 367.3 402.3 366.7 402.7 366.0 402.7 365.5 402.0 365.2 401.8 364.5 402.5 364.0 402.5 363.2 401.5 362.0 401.5 361.8 401.7 359.8 400.8 359.0 400.2 357.5 398.3 356.8 398.2 354.5 396.3 354.3 395.5 354.8 394.3 355.3 393.8 356.5 393.3 355.8 392.8 355.5 391.8 355.5 391.0 355.8 390.8 355.7 390.7 355.8 390.5 355.8 390.0 355.5 388.8 354.5 388.7 353.8 387.8 354.0 387.3 354.5 387.0 354.8 387.2 355.5 387.2 355.8 386.7 355.8 385.3 356.7 384.3 357.0 384.3 357.5 384.8 357.7 385.3 358.3 385.3 358.8 384.8 359.0 384.2 358.3 383.3 358.5 382.8 358.2 382.2 358.3 381.7 358.0 381.0 357.2 381.0 356.7 380.5 356.7 379.5 357.0 379.2 356.8 379.0 356.0 378.8 354.7 377.8 354.5 378.0 354.3 377.8 353.8 377.8 352.2 377.0 352.0 376.7 351.5 376.3 351.7 375.5 351.0 374.3 351.0 374.0 351.3 373.7 351.2 373.5 350.0 373.5 349.2 372.8 349.0 372.0 348.5 371.3 347.2 371.3 346.5 372.0 346.2 372.8 345.2 374.2 344.3 374.8 343.8 374.8 343.0 373.8 342.3 373.3 341.5 373.3 340.5 374.2 339.5 374.3 338.8 375.8 338.8 377.2 339.2 378.2 339.2 379.2 338.7 379.7 336.3 380.2 335.7 380.8 335.5 381.3 334.5 382.2 333.7 384.0 332.7 384.8 331.0 384.8 329.8 385.5 328.5 386.7 327.3 386.7 327.0 386.8 326.3 387.8 326.0 388.0 325.0 388.0 324.0 388.7 323.5 389.2 323.0 390.3 322.7 390.7 320.7 391.0 319.7 391.8 319.0 393.0 319.0 393.8 319.3 394.3 319.7 394.5 320.5 394.5 321.3 393.8 321.8 393.7 323.7 395.7 323.7 398.0 324.3 398.7 324.7 400.3 325.3 401.2 325.3 402.0 324.3 404.3 322.8 404.2 321.8 403.7 320.7 403.7 320.2 404.5 319.7 405.0 319.2 405.2 318.5 404.5 319.0 403.8 319.0 402.8 318.8 402.7 317.0 402.7 316.5 402.5 316.3 402.8 314.5 404.5 309.2 405.3 307.7 404.5 307.3 404.2 307.0 403.3 305.3 401.8 304.5 401.7 304.2 402.0 304.2 402.7 303.8 403.2 303.8 403.5 303.0 404.2 302.8 404.0 302.2 404.0 302.0 404.3 300.8 404.8 300.5 405.2 300.3 405.7 300.3 408.2 300.5 408.5 301.0 408.8 302.7 408.8 303.2 409.3 303.2 409.8 303.0 410.0 303.0 411.7 303.8 412.8 305.0 414.0 305.7 414.3 305.7 414.8 305.2 416.2 304.8 416.5 304.5 416.5 303.3 417.7 303.0 417.7 302.3 416.8 300.7 416.7 299.3 416.0 298.2 416.0 297.2 416.5 297.2 417.7 296.7 418.7 296.7 419.8 297.3 421.2 297.3 422.0 296.7 422.8 294.8 423.7 294.5 424.0 294.3 424.7 295.2 425.7 295.5 426.7 295.0 427.7 293.5 429.0 294.2 429.5 294.7 430.3 295.3 430.3 295.5 430.2 296.3 430.3 296.8 431.2 297.2 431.3 297.7 431.2 298.3 431.7 299.2 431.8 300.2 432.3 301.0 433.7 301.2 433.5 301.3 433.7 303.0 433.5 303.5 433.2 304.0 433.7 304.2 434.2 304.8 434.2 305.2 433.3 305.7 432.8 306.8 432.8 307.5 433.3 309.2 433.5 309.7 433.8 309.7 434.2 310.3 434.2 312.0 433.2 312.8 433.5 313.2 433.8 313.8 434.0 314.7 434.7 316.3 434.0 317.0 434.3 317.7 435.0 317.8 436.5 317.5 437.0 317.5 437.7 317.8 437.8 318.8 436.8 319.3 436.8 319.7 437.2 321.3 437.7 322.0 437.3 322.8 437.3 323.3 437.7 324.2 437.7 324.5 437.5 325.2 436.7 325.7 436.8 326.5 436.8 326.7 436.7 327.7 437.3 328.2 437.3 328.7 438.0 328.5 438.2 329.2 439.3 330.5 440.2 331.0 441.7 331.5 441.8 331.8 442.2 331.8 442.5 332.5 442.2 334.7 442.2 335.5 442.8 335.8 442.7 336.0 442.8 336.7 442.8 337.0 442.5 337.2 441.8 337.8 440.8 338.3 441.2 338.7 440.8 339.2 440.8 339.8 440.5 341.0 440.8 342.7 440.2 342.8 440.3 343.2 440.2 344.0 440.5 345.3 439.7 346.2 439.7 346.8 439.3 347.5 438.5 348.0 438.2 348.8 438.2 349.5 437.7 351.0 437.3 352.2 436.3 352.5 435.8 352.5 434.0 352.7 433.8 352.5 433.7 352.8 432.8 353.5 432.3 354.3 431.3 355.3 431.0 355.5 430.7 355.3 430.3 354.5 429.7 354.7 428.8 355.2 428.3 356.0 428.3 356.2 428.5 356.8 427.7 356.7 427.5 356.8 427.3 356.7 427.2 356.8 426.7 356.3 426.2 356.8 426.0 356.7 425.8 356.7 425.2 357.0 424.7 357.0 424.2 357.5 423.7 358.2 423.7 358.5 423.2 360.2 422.8 361.0 421.8 362.3 421.7 363.2 420.3 363.7 420.2 365.7 420.2 365.7 419.8 366.2 419.3 367.3 418.7 367.5 418.3 367.5 417.2 368.3 416.2 368.7 416.0 370.2 416.2 370.7 415.2 371.5 414.5 371.5 413.7 372.0 413.2 372.8 413.2 373.2 412.7 373.0 412.3 373.2 412.2 372.3 411.7 372.7 411.3 373.2 411.3 374.0 410.3 374.0 409.2 374.7 408.0 374.7 406.8 374.5 406.7 374.8 406.3 375.3 406.3 375.8 406.7 376.2 406.5 376.2 406.0 376.3 405.8 375.2 405.0 375.2 404.0 376.0 402.2Z" fill="none" stroke="#40363f" stroke-width=".95"/>
</g>
<path d="M374.8 427.5L335.8 452.7V494.5" fill="none" stroke="#c9c7c9" stroke-width="1.2"/><path d="M367.9 477.0 367.3 480.6 367.9 484.2 366.7 487.9 365.5 492.7 363.4 494.5 361.0 493.0 358.5 491.3 355.2 489.1 352.2 486.3 353.7 484.0 349.6 483.0 350.3 480.6 346.9 479.0 348.6 476.2 345.6 474.5 346.9 471.4 344.4 469.5 345.8 466.5 343.9 464.6 344.8 461.8 349.1 463.0 352.7 464.2 356.4 467.9 360.0 472.1 362.4 475.8 363.9 478.2Z" fill="#6a1e7b" stroke="#f4ecf4" stroke-width=".5"/><path d="M362.2 439.4 363.4 437.3 365.1 437.6 366.1 440.0 365.6 443.0 366.8 446.1 366.1 449.1 368.5 452.7 369.9 457.6 370.7 462.4 370.7 468.5 369.7 473.3 367.9 477.0 363.9 478.2 362.4 475.8 360.0 472.1 356.4 467.9 352.7 464.2 349.1 463.0 344.8 461.8 346.1 459.0 345.2 457.8 347.6 456.4 348.5 454.3 350.9 453.0 352.5 450.9 355.4 449.7 357.0 448.1 359.4 447.6 361.8 448.5 363.0 446.1 362.4 442.4Z" fill="#a59bcb" stroke="#f4ecf4" stroke-width=".5"/><path d="M362.2 439.4 363.4 437.3 365.1 437.6 366.1 440.0 365.6 443.0 366.8 446.1 366.1 449.1 368.5 452.7 369.9 457.6 370.7 462.4 370.7 468.5 369.7 473.3 367.9 477.0 367.3 480.6 367.9 484.2 366.7 487.9 365.5 492.7 363.4 494.5 361.0 493.0 358.5 491.3 355.2 489.1 352.2 486.3 353.7 484.0 349.6 483.0 350.3 480.6 346.9 479.0 348.6 476.2 345.6 474.5 346.9 471.4 344.4 469.5 345.8 466.5 343.9 464.6 344.8 461.8 346.1 459.0 345.2 457.8 347.6 456.4 348.5 454.3 350.9 453.0 352.5 450.9 355.4 449.7 357.0 448.1 359.4 447.6 361.8 448.5 363.0 446.1 362.4 442.4Z" fill="none" stroke="#4a3f4c" stroke-width=".8" stroke-linejoin="round"/><g fill="none" stroke="#d0cdd0" stroke-width=".9"><path d="M55.3 295H89.5V396.3H55.3ZM55.3 329.2H122.8V396.3H89.5M55.3 362.5H122.8"/></g><g stroke="#3a2f3c" stroke-width=".8" stroke-linejoin="round"><path d="M62.5 307.5 65.8 300.8 70.0 300.3 76.7 303.3 82.8 309.2 80.0 315.0 75.0 322.5 66.7 323.3 62.5 322.0 65.0 316.7 64.2 310.0Z" fill="#eee0ee"/><path d="M63.3 344.2 65.8 341.7 69.2 343.0 70.8 347.5 70.8 352.5 67.5 355.3 64.2 353.3 63.0 348.3ZM70.8 343.3 72.5 340.0 73.3 337.0 75.0 338.3 76.3 342.5 81.7 344.7 77.5 346.3 73.3 346.7 70.8 345.8Z" fill="#a59bcb"/><path d="M95.8 339.2 98.3 337.2 102.5 338.3 106.7 341.7 108.8 340.8 108.2 343.8 111.7 348.3 113.7 353.3 111.7 356.3 108.3 355.0 105.8 352.5 102.5 354.2 101.3 352.0 104.2 349.2 100.0 345.8 96.7 342.5Z" fill="#a59bcb"/><path d="M62.5 375.8 65.8 372.5 70.8 370.8 76.7 372.5 81.7 377.5 82.5 382.5 80.0 386.7 75.0 388.3 69.2 386.7 65.0 383.3 63.0 380.0Z" fill="#6a1e7b"/><path d="M100.0 372.5 102.5 371.3 104.2 373.3 107.5 374.2 109.2 376.7 107.5 380.8 108.3 385.0 105.8 388.3 102.5 387.5 101.7 384.2 103.0 380.8 101.3 377.5 99.2 375.0Z" fill="#eee0ee"/><circle cx="111.3" cy="377.0" r=".6" fill="#4a3f4c"/></g><ellipse cx="246.4" cy="243.4" rx="2.4" ry="2.2" fill="#a59bcb" stroke="#f4ecf4" stroke-width=".4"/><ellipse cx="246.3" cy="247.7" rx="3" ry="1.7" fill="#6a1e7b"/><ellipse cx="242.0" cy="245.5" rx="2.4" ry="2.7" fill="#f4ecf4" stroke="#6a1e7b" stroke-width="1.3"/><circle cx="242.6" cy="245.5" r="1" fill="#a59bcb"/>

<!-- legend -->
<circle cx="62" cy="479.3" r="6.8" fill="#eee0ee"/>
<circle cx="62" cy="503" r="6.8" fill="#e0bfdc"/>
<circle cx="144.3" cy="479.3" r="6.8" fill="#a59bcb"/>
<circle cx="144.3" cy="503" r="6.8" fill="#6a1e7b"/>
<g font-size="13" fill="#1c1a1c" stroke="#1c1a1c" stroke-width=".12" lengthAdjust="spacingAndGlyphs">
<text x="74" y="483.2" textLength="37" lengthAdjust="spacingAndGlyphs">2 à 13</text>
<text x="74" y="507" textLength="45" lengthAdjust="spacingAndGlyphs">13 à 17</text>
<text x="156.5" y="483.2" textLength="44.5" lengthAdjust="spacingAndGlyphs">17 à 23</text>
<text x="156.5" y="507" textLength="53" lengthAdjust="spacingAndGlyphs">23 à 105</text>
</g>
<text x="35.3" y="546.5" font-size="10.6" font-style="italic" fill="#4b484b" textLength="286" lengthAdjust="spacingAndGlyphs">France entière – Source : Drees – Carte Mutualité Française.</text>

<!-- decorations -->
<path d="M424.7 221.6 C425.3 220.3 427.0 216.3 428.6 213.5 C430.2 210.7 432.1 207.7 434.4 204.8 C436.7 201.9 439.2 198.8 442.2 196.0 C445.1 193.2 448.3 190.3 451.9 187.9 C455.4 185.5 459.3 183.2 463.5 181.7 C467.7 180.1 472.7 178.9 477.1 178.6 C481.4 178.3 485.6 178.7 489.7 179.7 C493.8 180.8 499.5 184.1 501.5 185.0 C501.3 184.3 500.4 182.2 500.3 180.9 C500.3 179.6 500.4 178.2 501.1 177.4 C501.8 176.6 503.5 175.8 504.6 176.1 C505.7 176.3 506.7 177.1 507.7 179.0 C508.8 180.8 509.9 184.3 510.8 187.3 C511.7 190.3 512.7 194.0 513.1 197.0 C513.6 200.0 513.7 203.3 513.5 205.3 C513.3 207.4 512.7 208.4 512.0 209.2 C511.3 210.0 510.5 210.2 509.3 210.0 C508.0 209.8 507.1 209.2 504.6 208.1 C502.2 207.0 497.9 205.0 494.5 203.4 C491.2 201.9 486.5 199.8 484.4 198.8 C482.4 197.7 482.4 197.5 482.3 196.8 C482.2 196.1 482.7 194.9 483.7 194.5 C484.7 194.0 485.9 193.8 488.3 194.1 C490.7 194.4 496.4 195.7 498.0 196.0 C497.3 195.1 495.6 191.8 493.6 190.2 C491.5 188.7 488.9 187.4 485.8 186.7 C482.7 186.0 478.7 185.6 475.1 185.9 C471.6 186.3 467.9 187.3 464.5 188.7 C461.1 190.0 457.8 192.1 454.8 194.1 C451.7 196.1 448.8 198.4 446.0 200.9 C443.3 203.4 440.5 206.5 438.3 209.2 C436.0 212.0 434.2 215.0 432.5 217.4 C430.7 219.7 429.0 222.2 427.8 223.2 C426.6 224.2 426.0 223.4 425.5 223.2 C425.0 222.9 424.8 221.9 424.7 221.6 Z" fill="#c9badd"/>
<polygon points="473.3,249.8 468.0,255.1 460.6,253.2 458.7,245.8 464.0,240.5 471.4,242.4" fill="none" stroke="#8d57b2" stroke-width="1.25"/>
<polygon points="866.4,137.0 861.3,142.1 854.5,140.2 852.6,133.4 857.7,128.3 864.5,130.2" fill="none" stroke="#8d57b2" stroke-width="1.25"/>
<polygon points="834.1,371.2 829.0,376.3 822.2,374.4 820.3,367.6 825.4,362.5 832.2,364.4" fill="none" stroke="#8d57b2" stroke-width="1.25"/>
<path d="M552 211.9H570M561 202.9V220.9" stroke="#b08cc8" stroke-width="1.2" fill="none"/>
<path d="M861.7 451.2H879.7M870.7 442.2V460.2" stroke="#b08cc8" stroke-width="1.2" fill="none"/>

<!-- PAYS DE LA LOIRE -->
<g transform="translate(4.5 5.5)" filter="url(#msh)" opacity=".46" fill="#2a2a2a">
<path d="M632.9 133.2 L638.2 130.7 L647.1 135.6 L652.6 131.3 L656.0 135.2 L660.9 134.0 L663.3 141.5 L670.7 146.0 L676.3 144.5 L676.3 139.1 L682.2 139.1 L682.6 146.0 L709.1 134.6 L720.4 141.1 L726.9 133.2 L730.8 135.2 L734.7 123.4 L747.2 129.7 L744.0 135.2 L748.5 145.4 L756.4 147.8 L757.0 159.2 L749.1 162.8 L743.4 182.2 L747.5 188.4 L736.4 197.2 L733.8 203.7 L737.3 207.8 L732.8 216.0 L726.6 217.0 L722.1 224.2 L727.6 235.4 L721.5 240.6 L712.7 241.6 L716.0 248.8 L711.3 258.0 L710.6 267.6 L710.1 268.2 L704.6 271.6 L698.3 267.7 L694.0 272.8 L681.6 276.1 L674.7 272.2 L666.8 270.8 L657.9 267.3 L651.1 266.9 L645.1 262.3 L639.2 265.3 L602.2 262.9 L607.3 251.5 L614.6 249.1 L615.6 243.6 L621.5 227.3 L632.3 225.9 L634.3 216.3 L630.4 202.6 L629.4 186.8 L627.4 174.0 L635.3 166.1 L634.3 155.3 L630.4 146.4 Z"/><path d="M756.3 159.3 L774.7 161.3 L788.0 153.5 L808.1 149.7 L812.6 154.2 L814.7 164.8 L820.8 174.0 L823.9 172.0 L829.0 181.2 L834.1 182.8 L836.2 187.7 L844.3 187.3 L844.3 182.8 L850.5 185.3 L853.6 193.9 L861.7 195.9 L868.9 204.7 L874.0 202.7 L880.2 206.2 L877.7 210.3 L871.6 207.8 L867.9 213.9 L869.9 218.4 L862.8 220.1 L864.8 224.6 L870.3 228.7 L863.8 232.4 L868.3 239.5 L863.8 249.8 L864.8 254.3 L857.7 251.3 L859.7 262.5 L853.1 275.2 L847.0 271.7 L841.3 280.9 L834.7 285.5 L837.6 293.2 L818.8 302.4 L807.5 299.4 L804.4 302.4 L812.2 310.6 L808.1 311.2 L794.6 303.1 L789.1 303.9 L786.0 301.0 L780.9 306.5 L775.8 303.9 L768.6 302.4 L750.2 294.9 L745.5 296.3 L735.8 285.5 L739.9 280.9 L718.4 279.9 L710.2 268.7 L710.6 267.6 L711.3 258.0 L716.0 248.8 L712.7 241.6 L721.5 240.6 L727.6 235.4 L722.1 224.2 L726.6 217.0 L732.8 216.0 L737.3 207.8 L733.8 203.7 L736.4 197.2 L747.5 188.4 L743.4 182.2 L749.1 162.8 Z"/><path d="M602.2 262.9 L639.2 265.3 L645.1 262.3 L651.1 266.9 L657.9 267.3 L666.8 270.8 L674.7 272.2 L681.6 276.1 L694.0 272.8 L698.3 267.7 L704.6 271.6 L710.1 268.2 L710.2 268.7 L718.4 279.9 L739.9 280.9 L735.8 285.5 L745.5 296.3 L750.2 294.9 L768.6 302.4 L775.8 303.9 L780.9 306.5 L786.0 301.0 L789.1 303.9 L788.0 308.6 L782.9 314.7 L790.1 318.8 L781.9 336.2 L780.9 341.3 L783.9 345.4 L778.8 353.6 L772.7 358.8 L767.6 381.2 L757.0 384.1 L753.4 393.9 L745.0 394.3 L746.1 401.6 L742.1 404.5 L728.0 394.3 L719.0 397.0 L709.9 396.6 L698.2 401.6 L696.4 396.1 L691.8 394.3 L689.6 405.6 L678.3 413.5 L671.5 409.0 L652.2 412.4 L634.1 402.9 L630.7 406.1 L611.5 407.9 L619.0 398.4 L601.3 390.9 L602.7 383.0 L608.7 380.3 L609.5 362.3 L605.4 362.3 L594.0 358.5 L598.6 352.2 L595.9 342.7 L639.5 337.2 L635.4 318.1 L628.6 313.5 L615.0 315.4 L608.2 304.5 L627.8 299.6 L611.4 288.2 L610.9 278.6 L600.5 271.3 Z"/><path d="M601.0 263.4 L588.1 259.7 L591.3 253.6 L573.7 253.6 L573.3 258.9 L564.1 261.4 L552.8 274.7 L541.6 276.7 L525.2 270.6 L512.9 277.3 L508.8 276.1 L499.6 284.9 L495.1 304.8 L489.8 306.0 L488.4 312.2 L485.3 312.2 L484.9 308.1 L473.0 308.1 L463.8 317.7 L454.6 314.6 L448.4 319.1 L449.5 325.9 L438.2 330.0 L442.7 341.6 L436.1 347.4 L466.9 359.2 L477.1 356.6 L485.3 350.4 L504.7 345.3 L524.2 353.5 L532.4 362.1 L527.3 362.1 L520.1 355.6 L504.7 349.8 L488.4 355.6 L482.2 374.0 L474.0 378.7 L488.4 383.6 L503.3 399.6 L511.2 410.0 L521.2 417.5 L527.5 417.0 L535.0 425.0 L557.5 429.5 L564.5 426.2 L560.5 422.0 L563.0 418.8 L560.0 410.0 L563.0 407.5 L562.5 402.0 L568.8 400.5 L570.0 418.8 L585.5 413.0 L587.5 402.5 L602.0 390.5 L602.7 383.0 L608.7 380.3 L609.5 362.3 L605.4 362.3 L594.0 358.5 L598.6 352.2 L595.9 342.7 L639.5 337.2 L635.4 318.1 L628.6 313.5 L615.0 315.4 L608.2 304.5 L627.8 299.6 L611.4 288.2 L610.9 278.6 L600.5 271.3 Z"/><path d="M503.8 400.5 L495.0 413.8 L486.2 418.8 L481.2 428.8 L482.5 435.0 L495.0 447.5 L501.2 460.0 L511.2 471.2 L518.8 490.0 L545.0 516.2 L556.5 517.0 L560.0 521.4 L564.3 530.9 L578.1 531.4 L584.1 541.2 L588.4 536.0 L596.2 545.5 L601.4 537.8 L610.0 532.6 L630.7 530.3 L628.1 538.6 L641.0 534.8 L654.8 541.7 L660.0 536.0 L667.8 534.8 L677.2 536.9 L692.8 524.5 L685.0 517.6 L679.0 522.8 L670.3 502.4 L678.6 496.4 L672.9 486.9 L662.5 455.0 L668.8 446.2 L661.2 443.8 L656.2 431.2 L648.0 425.0 L648.8 418.8 L642.5 413.8 L632.5 405.5 L630.7 406.1 L611.5 407.9 L619.0 398.4 L601.3 390.9 L602.0 390.5 L587.5 402.5 L585.5 413.0 L570.0 418.8 L568.8 400.5 L562.5 402.0 L563.0 407.5 L560.0 410.0 L563.0 418.8 L560.5 422.0 L564.5 426.2 L557.5 429.5 L535.0 425.0 L527.5 417.0 L521.2 417.5 L511.2 410.0 Z"/>
</g>
<g stroke="#3f3640" stroke-width="1" stroke-linejoin="round">
<path d="M503.8 400.5 L495.0 413.8 L486.2 418.8 L481.2 428.8 L482.5 435.0 L495.0 447.5 L501.2 460.0 L511.2 471.2 L518.8 490.0 L545.0 516.2 L556.5 517.0 L560.0 521.4 L564.3 530.9 L578.1 531.4 L584.1 541.2 L588.4 536.0 L596.2 545.5 L601.4 537.8 L610.0 532.6 L630.7 530.3 L628.1 538.6 L641.0 534.8 L654.8 541.7 L660.0 536.0 L667.8 534.8 L677.2 536.9 L692.8 524.5 L685.0 517.6 L679.0 522.8 L670.3 502.4 L678.6 496.4 L672.9 486.9 L662.5 455.0 L668.8 446.2 L661.2 443.8 L656.2 431.2 L648.0 425.0 L648.8 418.8 L642.5 413.8 L632.5 405.5 L630.7 406.1 L611.5 407.9 L619.0 398.4 L601.3 390.9 L602.0 390.5 L587.5 402.5 L585.5 413.0 L570.0 418.8 L568.8 400.5 L562.5 402.0 L563.0 407.5 L560.0 410.0 L563.0 418.8 L560.5 422.0 L564.5 426.2 L557.5 429.5 L535.0 425.0 L527.5 417.0 L521.2 417.5 L511.2 410.0 Z" fill="#eee0ee"/>
<path d="M632.9 133.2 L638.2 130.7 L647.1 135.6 L652.6 131.3 L656.0 135.2 L660.9 134.0 L663.3 141.5 L670.7 146.0 L676.3 144.5 L676.3 139.1 L682.2 139.1 L682.6 146.0 L709.1 134.6 L720.4 141.1 L726.9 133.2 L730.8 135.2 L734.7 123.4 L747.2 129.7 L744.0 135.2 L748.5 145.4 L756.4 147.8 L757.0 159.2 L749.1 162.8 L743.4 182.2 L747.5 188.4 L736.4 197.2 L733.8 203.7 L737.3 207.8 L732.8 216.0 L726.6 217.0 L722.1 224.2 L727.6 235.4 L721.5 240.6 L712.7 241.6 L716.0 248.8 L711.3 258.0 L710.6 267.6 L710.1 268.2 L704.6 271.6 L698.3 267.7 L694.0 272.8 L681.6 276.1 L674.7 272.2 L666.8 270.8 L657.9 267.3 L651.1 266.9 L645.1 262.3 L639.2 265.3 L602.2 262.9 L607.3 251.5 L614.6 249.1 L615.6 243.6 L621.5 227.3 L632.3 225.9 L634.3 216.3 L630.4 202.6 L629.4 186.8 L627.4 174.0 L635.3 166.1 L634.3 155.3 L630.4 146.4 Z" fill="#eee0ee"/>
<path d="M756.3 159.3 L774.7 161.3 L788.0 153.5 L808.1 149.7 L812.6 154.2 L814.7 164.8 L820.8 174.0 L823.9 172.0 L829.0 181.2 L834.1 182.8 L836.2 187.7 L844.3 187.3 L844.3 182.8 L850.5 185.3 L853.6 193.9 L861.7 195.9 L868.9 204.7 L874.0 202.7 L880.2 206.2 L877.7 210.3 L871.6 207.8 L867.9 213.9 L869.9 218.4 L862.8 220.1 L864.8 224.6 L870.3 228.7 L863.8 232.4 L868.3 239.5 L863.8 249.8 L864.8 254.3 L857.7 251.3 L859.7 262.5 L853.1 275.2 L847.0 271.7 L841.3 280.9 L834.7 285.5 L837.6 293.2 L818.8 302.4 L807.5 299.4 L804.4 302.4 L812.2 310.6 L808.1 311.2 L794.6 303.1 L789.1 303.9 L786.0 301.0 L780.9 306.5 L775.8 303.9 L768.6 302.4 L750.2 294.9 L745.5 296.3 L735.8 285.5 L739.9 280.9 L718.4 279.9 L710.2 268.7 L710.6 267.6 L711.3 258.0 L716.0 248.8 L712.7 241.6 L721.5 240.6 L727.6 235.4 L722.1 224.2 L726.6 217.0 L732.8 216.0 L737.3 207.8 L733.8 203.7 L736.4 197.2 L747.5 188.4 L743.4 182.2 L749.1 162.8 Z" fill="#eee0ee"/>
<path d="M602.2 262.9 L639.2 265.3 L645.1 262.3 L651.1 266.9 L657.9 267.3 L666.8 270.8 L674.7 272.2 L681.6 276.1 L694.0 272.8 L698.3 267.7 L704.6 271.6 L710.1 268.2 L710.2 268.7 L718.4 279.9 L739.9 280.9 L735.8 285.5 L745.5 296.3 L750.2 294.9 L768.6 302.4 L775.8 303.9 L780.9 306.5 L786.0 301.0 L789.1 303.9 L788.0 308.6 L782.9 314.7 L790.1 318.8 L781.9 336.2 L780.9 341.3 L783.9 345.4 L778.8 353.6 L772.7 358.8 L767.6 381.2 L757.0 384.1 L753.4 393.9 L745.0 394.3 L746.1 401.6 L742.1 404.5 L728.0 394.3 L719.0 397.0 L709.9 396.6 L698.2 401.6 L696.4 396.1 L691.8 394.3 L689.6 405.6 L678.3 413.5 L671.5 409.0 L652.2 412.4 L634.1 402.9 L630.7 406.1 L611.5 407.9 L619.0 398.4 L601.3 390.9 L602.7 383.0 L608.7 380.3 L609.5 362.3 L605.4 362.3 L594.0 358.5 L598.6 352.2 L595.9 342.7 L639.5 337.2 L635.4 318.1 L628.6 313.5 L615.0 315.4 L608.2 304.5 L627.8 299.6 L611.4 288.2 L610.9 278.6 L600.5 271.3 Z" fill="#a59bcb"/>
<path d="M601.0 263.4 L588.1 259.7 L591.3 253.6 L573.7 253.6 L573.3 258.9 L564.1 261.4 L552.8 274.7 L541.6 276.7 L525.2 270.6 L512.9 277.3 L508.8 276.1 L499.6 284.9 L495.1 304.8 L489.8 306.0 L488.4 312.2 L485.3 312.2 L484.9 308.1 L473.0 308.1 L463.8 317.7 L454.6 314.6 L448.4 319.1 L449.5 325.9 L438.2 330.0 L442.7 341.6 L436.1 347.4 L466.9 359.2 L477.1 356.6 L485.3 350.4 L504.7 345.3 L524.2 353.5 L532.4 362.1 L527.3 362.1 L520.1 355.6 L504.7 349.8 L488.4 355.6 L482.2 374.0 L474.0 378.7 L488.4 383.6 L503.3 399.6 L511.2 410.0 L521.2 417.5 L527.5 417.0 L535.0 425.0 L557.5 429.5 L564.5 426.2 L560.5 422.0 L563.0 418.8 L560.0 410.0 L563.0 407.5 L562.5 402.0 L568.8 400.5 L570.0 418.8 L585.5 413.0 L587.5 402.5 L602.0 390.5 L602.7 383.0 L608.7 380.3 L609.5 362.3 L605.4 362.3 L594.0 358.5 L598.6 352.2 L595.9 342.7 L639.5 337.2 L635.4 318.1 L628.6 313.5 L615.0 315.4 L608.2 304.5 L627.8 299.6 L611.4 288.2 L610.9 278.6 L600.5 271.3 Z" fill="#6a1e7b" stroke="#2c1230"/>
</g>
<rect x="654.5" y="183.5" width="62.5" height="17.599999999999994" fill="#3a1050" opacity=".28" filter="url(#bsh)"/><rect x="652" y="180" width="62.5" height="17.599999999999994" fill="#fff"/><text x="674.2" y="194.2" font-weight="700" font-size="15" fill="#6a1e7b" textLength="18.0" lengthAdjust="spacingAndGlyphs">10</text>
<text x="653.4" y="222.7" font-size="12.5" fill="#4a4548" textLength="60.3" lengthAdjust="spacingAndGlyphs" >MAYENNE</text>
<rect x="762.5" y="213.8" width="62.39999999999998" height="17.399999999999977" fill="#3a1050" opacity=".28" filter="url(#bsh)"/><rect x="760" y="210.3" width="62.39999999999998" height="17.399999999999977" fill="#fff"/><text x="782.2" y="224.4" font-weight="700" font-size="15" fill="#6a1e7b" textLength="18.0" lengthAdjust="spacingAndGlyphs">12</text>
<text x="767.2" y="253" font-size="12.5" fill="#4a4548" textLength="48.5" lengthAdjust="spacingAndGlyphs" >SARTHE</text>
<rect x="523.6" y="295.6" width="62.10000000000002" height="17.799999999999955" fill="#3a1050" opacity=".28" filter="url(#bsh)"/><rect x="521.1" y="292.1" width="62.10000000000002" height="17.799999999999955" fill="#fff"/><text x="543.2" y="306.4" font-weight="700" font-size="15" fill="#6a1e7b" textLength="18.0" lengthAdjust="spacingAndGlyphs">24</text>
<text x="482.2" y="335.2" font-size="12.5" fill="#fff" textLength="118.2" lengthAdjust="spacingAndGlyphs" >LOIRE-ATLANTIQUE</text>
<rect x="673.6" y="318.6" width="62.299999999999955" height="18.099999999999966" fill="#3a1050" opacity=".28" filter="url(#bsh)"/><rect x="671.1" y="315.1" width="62.299999999999955" height="18.099999999999966" fill="#fff"/><text x="693.2" y="329.5" font-weight="700" font-size="15" fill="#6a1e7b" textLength="18.0" lengthAdjust="spacingAndGlyphs">22</text>
<text x="652.2" y="358.2" font-size="12.5" fill="#fff" textLength="100.3" lengthAdjust="spacingAndGlyphs" >MAINE-ET-LOIRE</text>
<rect x="565.7" y="454.0" width="61.799999999999955" height="17.0" fill="#3a1050" opacity=".28" filter="url(#bsh)"/><rect x="563.2" y="450.5" width="61.799999999999955" height="17.0" fill="#fff"/><text x="589.6" y="464.4" font-weight="700" font-size="15" fill="#6a1e7b" textLength="9.0" lengthAdjust="spacingAndGlyphs">9</text>
<text x="569.5" y="493.1" font-size="12.5" fill="#4a4548" textLength="50.0" lengthAdjust="spacingAndGlyphs" >VENDÉE</text>

<!-- magnifier -->
<g transform="translate(763 477) rotate(24.8)">
<rect x="54" y="-4.8" width="19" height="9.6" fill="#6a1e7b"/>
<rect x="71.5" y="-6.3" width="5" height="12.6" fill="#c9badd"/>
<rect x="76.2" y="-6.9" width="8.6" height="13.8" fill="#6a1e7b"/>
<path d="M84.8 -6.4 L130.5 -11 A11 11 0 0 1 130.5 11 L84.8 6.6 Z" fill="#c9badd"/>
</g>
<circle cx="763" cy="477" r="52" fill="#fff" stroke="#6a1e7b" stroke-width="10.8"/>
<text x="733.4" y="464.8" font-size="12.5" fill="#454245" textLength="59.0" lengthAdjust="spacingAndGlyphs" >MOYENNE</text>
<text x="729.1" y="479.1" font-size="12.5" fill="#454245" textLength="67.1" lengthAdjust="spacingAndGlyphs" >NATIONALE</text>
<text x="754.2" y="498.3" font-size="14" font-weight="700" fill="#6a1e7b" textLength="17.6" lengthAdjust="spacingAndGlyphs">23</text>
<!-- page border -->
<rect x="0" y="0" width="928" height="2" fill="#6a1e7b"/>
<rect x="0" y="0" width="2" height="660" fill="#6a1e7b"/>
<rect x="925.8" y="0" width="2.2" height="660" fill="#6a1e7b"/>
<rect x="0" y="657.8" width="928" height="2.2" fill="#6a1e7b"/>

</svg>
</body></html>
